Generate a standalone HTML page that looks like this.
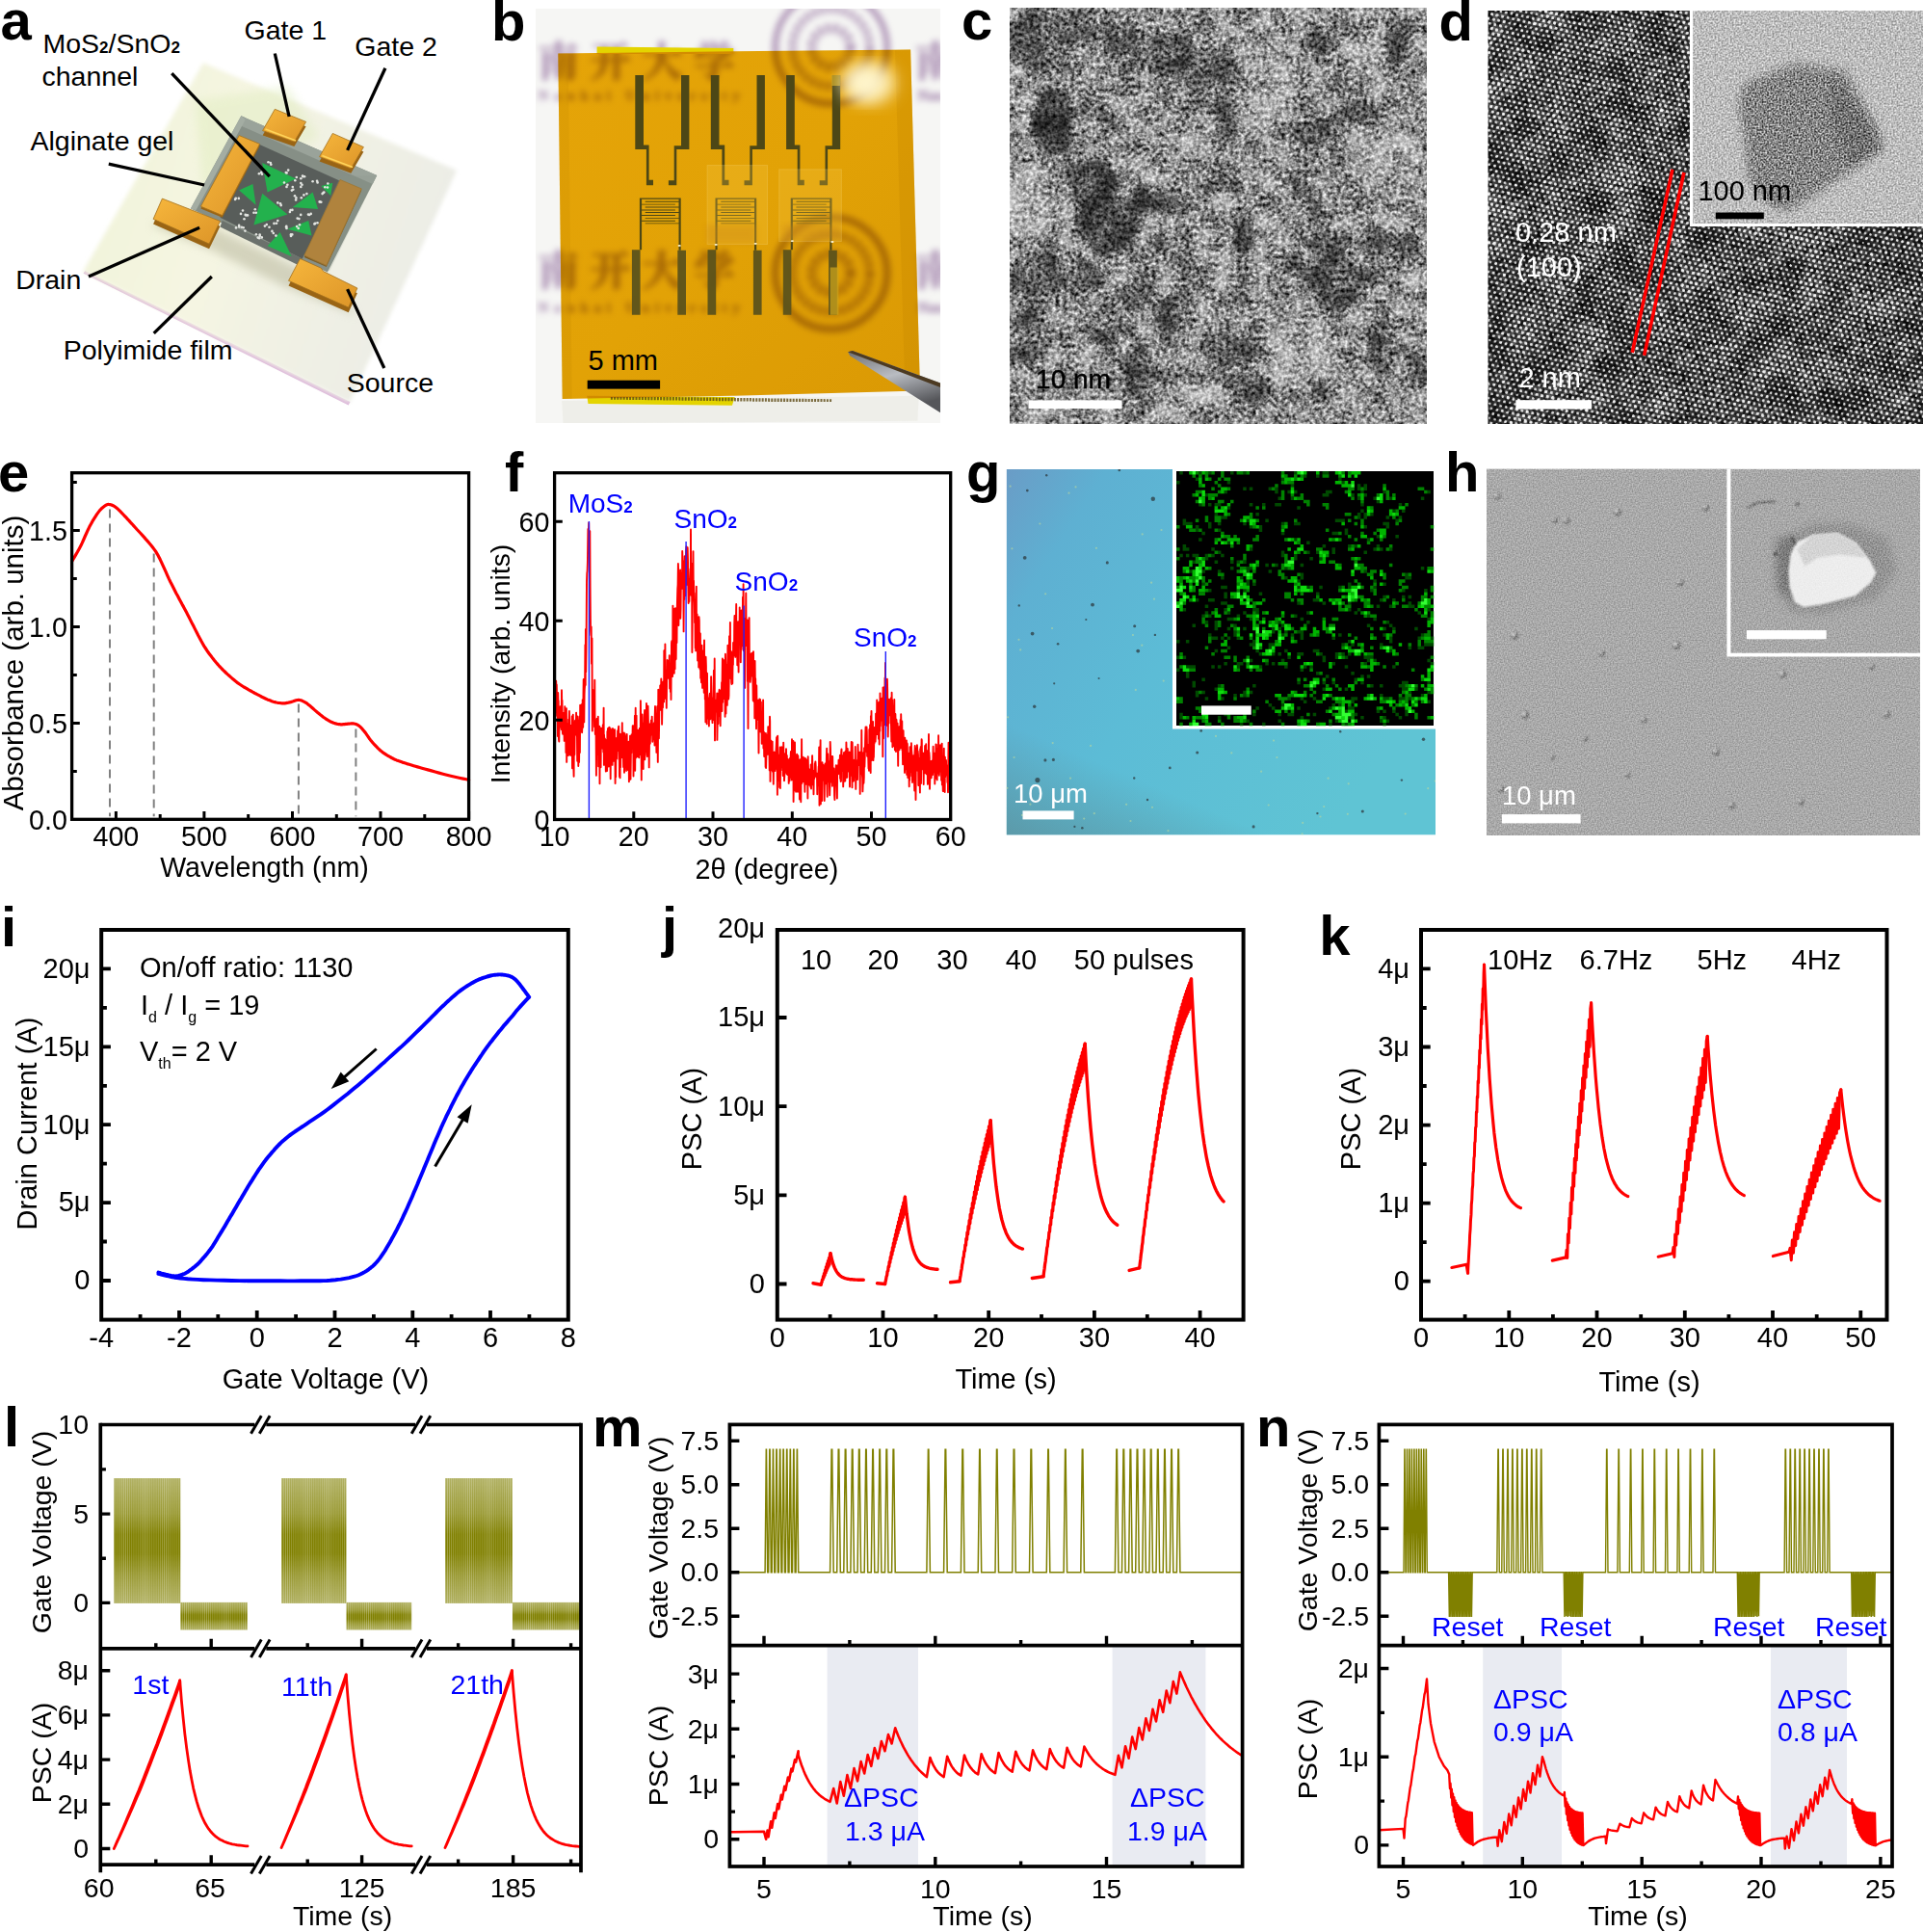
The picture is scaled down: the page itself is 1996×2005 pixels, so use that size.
<!DOCTYPE html>
<html><head><meta charset="utf-8"><title>Figure</title>
<style>html,body{margin:0;padding:0;background:#fff}svg{display:block;font-family:'Liberation Sans', Arial, Helvetica, sans-serif}</style>
</head><body>
<svg width="1996" height="2005" viewBox="0 0 1996 2005">
<defs>
<linearGradient id="filmg" x1="0" y1="0" x2="1" y2="0.3"><stop offset="0" stop-color="#f0f3d8"/><stop offset="0.45" stop-color="#f5f5e2"/><stop offset="1" stop-color="#ecede6"/></linearGradient>
<filter id="blur2" x="-10%" y="-10%" width="120%" height="120%"><feGaussianBlur stdDeviation="2"/></filter>
<filter id="blur5" x="-20%" y="-20%" width="140%" height="140%"><feGaussianBlur stdDeviation="5"/></filter>
<linearGradient id="goldg" x1="0" y1="0" x2="1" y2="1"><stop offset="0" stop-color="#f6b63c"/><stop offset="1" stop-color="#dd9528"/></linearGradient>
<clipPath id="clipb"><rect x="556" y="9" width="420" height="430"/></clipPath>
<filter id="bl3" x="-20%" y="-20%" width="140%" height="140%"><feGaussianBlur stdDeviation="3"/></filter>
<filter id="bl1" x="-20%" y="-20%" width="140%" height="140%"><feGaussianBlur stdDeviation="0.45"/></filter>
<filter id="bl8" x="-30%" y="-30%" width="160%" height="160%"><feGaussianBlur stdDeviation="9"/></filter>
<linearGradient id="amber" x1="0" y1="0" x2="1" y2="1"><stop offset="0" stop-color="#eeaa08"/><stop offset="0.5" stop-color="#eba806"/><stop offset="1" stop-color="#e29f04"/></linearGradient>
<linearGradient id="tweez" x1="0" y1="0" x2="0.4" y2="1"><stop offset="0" stop-color="#6e6f72"/><stop offset="0.5" stop-color="#b9bcc2"/><stop offset="1" stop-color="#55565a"/></linearGradient>
<clipPath id="clipc"><rect x="1048" y="8" width="433" height="432"/></clipPath>
<filter id="cbl" x="-30%" y="-30%" width="160%" height="160%"><feGaussianBlur stdDeviation="4.2"/></filter>
<filter id="cn1" x="0" y="0" width="100%" height="100%" color-interpolation-filters="sRGB"><feTurbulence type="fractalNoise" baseFrequency="0.26" numOctaves="2" seed="5" result="t"/><feColorMatrix type="matrix" values="1 0 0 0 0 1 0 0 0 0 1 0 0 0 0 0 0 0 0 1"/><feComponentTransfer><feFuncR type="linear" slope="1.55" intercept="-0.275"/><feFuncG type="linear" slope="1.55" intercept="-0.275"/><feFuncB type="linear" slope="1.55" intercept="-0.275"/></feComponentTransfer></filter>
<filter id="cn2" x="0" y="0" width="100%" height="100%" color-interpolation-filters="sRGB"><feTurbulence type="fractalNoise" baseFrequency="0.05" numOctaves="2" seed="11" result="t"/><feColorMatrix type="matrix" values="1 0 0 0 0 1 0 0 0 0 1 0 0 0 0 0 0 0 0 1"/><feComponentTransfer><feFuncR type="linear" slope="1.8" intercept="-0.4"/><feFuncG type="linear" slope="1.8" intercept="-0.4"/><feFuncB type="linear" slope="1.8" intercept="-0.4"/></feComponentTransfer></filter>
<clipPath id="clipd"><rect x="1544.4" y="11" width="451.5999999999999" height="429"/></clipPath>
<filter id="dn1" x="0" y="0" width="100%" height="100%" color-interpolation-filters="sRGB"><feTurbulence type="fractalNoise" baseFrequency="0.22" numOctaves="2" seed="8" result="t"/><feColorMatrix type="matrix" values="1 0 0 0 0 1 0 0 0 0 1 0 0 0 0 0 0 0 0 1"/><feComponentTransfer><feFuncR type="linear" slope="2.2" intercept="-0.6"/><feFuncG type="linear" slope="2.2" intercept="-0.6"/><feFuncB type="linear" slope="2.2" intercept="-0.6"/></feComponentTransfer></filter>
<filter id="dn2" x="0" y="0" width="100%" height="100%" color-interpolation-filters="sRGB"><feTurbulence type="fractalNoise" baseFrequency="0.03" numOctaves="2" seed="21" result="t"/><feColorMatrix type="matrix" values="1 0 0 0 0 1 0 0 0 0 1 0 0 0 0 0 0 0 0 1"/><feComponentTransfer><feFuncR type="linear" slope="2.0" intercept="-0.5"/><feFuncG type="linear" slope="2.0" intercept="-0.5"/><feFuncB type="linear" slope="2.0" intercept="-0.5"/></feComponentTransfer></filter>
<filter id="dn3" x="0" y="0" width="100%" height="100%" color-interpolation-filters="sRGB"><feTurbulence type="fractalNoise" baseFrequency="0.55" numOctaves="1" seed="4" result="t"/><feColorMatrix type="matrix" values="1 0 0 0 0 1 0 0 0 0 1 0 0 0 0 0 0 0 0 1"/><feComponentTransfer><feFuncR type="linear" slope="1.8" intercept="-0.4"/><feFuncG type="linear" slope="1.8" intercept="-0.4"/><feFuncB type="linear" slope="1.8" intercept="-0.4"/></feComponentTransfer></filter>
<pattern id="latt" width="5.700" height="9.873" patternUnits="userSpaceOnUse" patternTransform="rotate(12.5 1700 200)"><rect width="5.700" height="9.873" fill="#2f2f2f"/><circle cx="1.425" cy="2.468" r="1.55" fill="#e6e6e6"/><circle cx="4.275" cy="7.405" r="1.55" fill="#e6e6e6"/></pattern>
<filter id="dbl" x="0" y="0" width="100%" height="100%"><feGaussianBlur stdDeviation="0.7"/></filter>
<filter id="dbl6" x="-30%" y="-30%" width="160%" height="160%"><feGaussianBlur stdDeviation="5"/></filter>
<clipPath id="clipdi"><rect x="1754" y="11" width="242" height="224"/></clipPath>
<clipPath id="clipg"><rect x="1044.6" y="487" width="445.4000000000001" height="379.6"/></clipPath>
<linearGradient id="gg" x1="0" y1="0" x2="1" y2="0.55"><stop offset="0" stop-color="#6a9cc6"/><stop offset="0.18" stop-color="#5eb0d2"/><stop offset="0.5" stop-color="#5cbcd6"/><stop offset="1" stop-color="#5fc4d4"/></linearGradient>
<linearGradient id="gg2" x1="0" y1="1" x2="0.35" y2="0.3"><stop offset="0" stop-color="#5b8f9a" stop-opacity="0.75"/><stop offset="0.35" stop-color="#5b8f9a" stop-opacity="0"/></linearGradient>
<filter id="gbl" x="-50%" y="-50%" width="200%" height="200%"><feGaussianBlur stdDeviation="0.7"/></filter>
<filter id="gbl5" x="0" y="0" width="100%" height="100%"><feGaussianBlur stdDeviation="0.55"/></filter>
<clipPath id="cliph"><rect x="1543" y="486.5" width="450" height="380.5"/></clipPath>
<filter id="hn1" x="0" y="0" width="100%" height="100%" color-interpolation-filters="sRGB"><feTurbulence type="fractalNoise" baseFrequency="0.7" numOctaves="1" seed="12" result="t"/><feColorMatrix type="matrix" values="1 0 0 0 0 1 0 0 0 0 1 0 0 0 0 0 0 0 0 1"/><feComponentTransfer><feFuncR type="linear" slope="1.6" intercept="-0.3"/><feFuncG type="linear" slope="1.6" intercept="-0.3"/><feFuncB type="linear" slope="1.6" intercept="-0.3"/></feComponentTransfer></filter>
<filter id="hbl" x="-50%" y="-50%" width="200%" height="200%"><feGaussianBlur stdDeviation="0.8"/></filter>
<filter id="hbl4" x="-50%" y="-50%" width="200%" height="200%"><feGaussianBlur stdDeviation="4"/></filter>
<clipPath id="cliphi"><rect x="1796.3" y="487" width="196.70000000000005" height="190.70000000000005"/></clipPath>
<linearGradient id="olg" x1="0" y1="0" x2="0" y2="1"><stop offset="0" stop-color="#808000" stop-opacity="0.62"/><stop offset="0.28" stop-color="#808000" stop-opacity="0.8"/><stop offset="0.45" stop-color="#808000" stop-opacity="1"/><stop offset="0.6" stop-color="#808000" stop-opacity="1"/><stop offset="0.78" stop-color="#808000" stop-opacity="0.8"/><stop offset="1" stop-color="#808000" stop-opacity="0.62"/></linearGradient>
<pattern id="olst" width="2.1" height="4" patternUnits="userSpaceOnUse"><rect x="0" y="0" width="0.7" height="4" fill="#fff" fill-opacity="0.28"/></pattern>
</defs>
<rect width="1996" height="2005" fill="#fff"/>
<polygon points="86.6,283.7 361.7,420.4 363.5,416.9 88.3,281.1" fill="#dcb4da"/>
<polygon points="211.0,65.3 474.2,176.7 362.8,418.0 86.1,281.9" fill="url(#filmg)" filter="url(#blur2)"/>
<polygon points="202.3,104.6 298.4,89.3 331.1,141.7 211.0,202.9" fill="#dcebb8" opacity="0.4" filter="url(#blur5)"/>
<polygon points="193.6,222.5 339.9,292.4 370.5,327.4 294.0,296.8 219.8,259.7 156.4,233.4" fill="#b9b89c" opacity="0.55" filter="url(#blur5)"/>
<polygon points="250.3,120.3 391.2,182.1 339.9,282.6 197.9,216.4" fill="#868f86"/>
<polygon points="250.3,120.3 391.2,182.1 386.8,190.9 248.2,129.7" fill="#9aa39a"/>
<polygon points="250.3,120.3 254.7,124.3 203.4,218.2 197.9,216.4" fill="#a4ada3"/>
<polygon points="265.6,148.3 355.2,188.7 313.7,268.4 228.5,225.8" fill="#585d5a"/>
<polygon points="230.7,229.1 313.7,268.4 309.3,274.9 228.5,235.6" fill="#6b716c"/>
<polygon points="272.2,169.0 307.1,185.4 277.6,199.6" fill="#23b14d"/>
<polygon points="248.2,197.4 262.4,190.9 265.6,212.7" fill="#23b14d"/>
<polygon points="272.2,200.7 298.4,222.5 263.4,233.4" fill="#23b14d"/>
<polygon points="324.6,199.6 330.1,217.1 303.8,214.9" fill="#23b14d"/>
<polygon points="320.2,229.1 323.5,244.4 298.4,237.8" fill="#23b14d"/>
<polygon points="290.7,241.1 302.8,266.2 277.6,255.3" fill="#23b14d"/>
<polygon points="333.3,193.0 345.3,189.8 343.2,202.9" fill="#23b14d"/>
<g fill="#e4e6e2"><circle cx="296.8" cy="179.1" r="1.3"/><circle cx="297.6" cy="179.4" r="1.3"/><circle cx="299.2" cy="176.6" r="1.3"/><circle cx="306.3" cy="187.2" r="1.3"/><circle cx="307.8" cy="184.0" r="1.3"/><circle cx="312.3" cy="185.2" r="1.3"/><circle cx="313.5" cy="191.8" r="1.3"/><circle cx="312.3" cy="190.1" r="1.3"/><circle cx="312.3" cy="193.9" r="1.3"/><circle cx="302.9" cy="197.6" r="1.3"/><circle cx="303.8" cy="194.0" r="1.3"/><circle cx="304.3" cy="196.8" r="1.3"/><circle cx="295.0" cy="189.5" r="1.3"/><circle cx="298.4" cy="191.8" r="1.3"/><circle cx="297.5" cy="193.9" r="1.3"/><circle cx="316.1" cy="183.2" r="1.3"/><circle cx="314.1" cy="182.6" r="1.3"/><circle cx="314.4" cy="183.3" r="1.3"/><circle cx="329.1" cy="187.7" r="1.3"/><circle cx="324.6" cy="188.3" r="1.3"/><circle cx="329.6" cy="189.4" r="1.3"/><circle cx="336.3" cy="199.6" r="1.3"/><circle cx="335.6" cy="200.1" r="1.3"/><circle cx="334.6" cy="201.1" r="1.3"/><circle cx="331.7" cy="209.4" r="1.3"/><circle cx="332.3" cy="209.5" r="1.3"/><circle cx="333.3" cy="209.8" r="1.3"/><circle cx="306.0" cy="203.3" r="1.3"/><circle cx="307.1" cy="207.5" r="1.3"/><circle cx="307.4" cy="205.4" r="1.3"/><circle cx="291.0" cy="211.2" r="1.3"/><circle cx="291.7" cy="213.1" r="1.3"/><circle cx="288.3" cy="210.4" r="1.3"/><circle cx="254.7" cy="222.9" r="1.3"/><circle cx="250.0" cy="221.9" r="1.3"/><circle cx="252.0" cy="218.5" r="1.3"/><circle cx="253.5" cy="227.2" r="1.3"/><circle cx="257.0" cy="223.4" r="1.3"/><circle cx="255.4" cy="223.4" r="1.3"/><circle cx="264.8" cy="217.3" r="1.3"/><circle cx="265.8" cy="220.7" r="1.3"/><circle cx="263.5" cy="220.8" r="1.3"/><circle cx="301.6" cy="218.1" r="1.3"/><circle cx="303.4" cy="217.9" r="1.3"/><circle cx="300.9" cy="219.9" r="1.3"/><circle cx="312.2" cy="222.9" r="1.3"/><circle cx="308.7" cy="226.6" r="1.3"/><circle cx="310.4" cy="227.1" r="1.3"/><circle cx="322.7" cy="221.9" r="1.3"/><circle cx="320.0" cy="222.6" r="1.3"/><circle cx="321.1" cy="223.0" r="1.3"/><circle cx="327.1" cy="231.9" r="1.3"/><circle cx="329.5" cy="231.3" r="1.3"/><circle cx="326.4" cy="232.4" r="1.3"/><circle cx="274.9" cy="234.6" r="1.3"/><circle cx="279.5" cy="235.7" r="1.3"/><circle cx="276.8" cy="233.1" r="1.3"/><circle cx="287.0" cy="231.7" r="1.3"/><circle cx="284.5" cy="231.9" r="1.3"/><circle cx="288.3" cy="229.0" r="1.3"/><circle cx="297.0" cy="235.5" r="1.3"/><circle cx="297.3" cy="234.9" r="1.3"/><circle cx="297.5" cy="236.9" r="1.3"/><circle cx="282.4" cy="239.9" r="1.3"/><circle cx="286.4" cy="244.6" r="1.3"/><circle cx="283.8" cy="242.0" r="1.3"/><circle cx="303.3" cy="243.4" r="1.3"/><circle cx="301.9" cy="243.4" r="1.3"/><circle cx="302.0" cy="244.9" r="1.3"/><circle cx="308.1" cy="235.0" r="1.3"/><circle cx="311.0" cy="233.2" r="1.3"/><circle cx="309.7" cy="236.9" r="1.3"/><circle cx="244.8" cy="205.8" r="1.3"/><circle cx="247.8" cy="205.9" r="1.3"/><circle cx="244.1" cy="206.9" r="1.3"/><circle cx="271.2" cy="178.9" r="1.3"/><circle cx="268.9" cy="180.2" r="1.3"/><circle cx="272.0" cy="180.7" r="1.3"/><circle cx="248.1" cy="233.9" r="1.3"/><circle cx="245.0" cy="236.4" r="1.3"/><circle cx="248.3" cy="235.4" r="1.3"/><circle cx="250.8" cy="235.8" r="1.3"/><circle cx="252.7" cy="236.2" r="1.3"/><circle cx="254.4" cy="239.6" r="1.3"/><circle cx="265.9" cy="243.2" r="1.3"/><circle cx="269.7" cy="245.1" r="1.3"/><circle cx="269.7" cy="243.6" r="1.3"/><circle cx="267.7" cy="246.6" r="1.3"/><circle cx="271.8" cy="246.4" r="1.3"/><circle cx="269.1" cy="247.2" r="1.3"/><circle cx="315.4" cy="202.4" r="1.3"/><circle cx="318.4" cy="201.1" r="1.3"/><circle cx="312.8" cy="205.2" r="1.3"/><circle cx="340.0" cy="194.5" r="1.3"/><circle cx="337.3" cy="194.3" r="1.3"/><circle cx="340.3" cy="190.5" r="1.3"/><circle cx="281.3" cy="170.8" r="1.3"/><circle cx="280.8" cy="169.1" r="1.3"/><circle cx="278.5" cy="168.2" r="1.3"/></g>
<polygon points="248.2,142.8 269.6,151.6 230.7,225.8 208.4,216.4" fill="#9a6414"/>
<polygon points="248.2,140.6 269.6,149.4 230.7,223.6 208.4,214.2" fill="url(#goldg)" stroke="#a5711d" stroke-width="0.8"/>
<polygon points="168.4,211.4 228.5,234.8 217.1,258.3 159.1,232.6" fill="#9a6414"/>
<polygon points="168.4,206.1 228.5,229.5 217.1,253.1 159.1,227.3" fill="url(#goldg)" stroke="#a5711d" stroke-width="0.8"/>
<polygon points="353.0,188.2 375.3,197.6 338.8,277.1 315.9,266.9" fill="#7d5618"/>
<polygon points="353.0,186.5 375.3,195.9 338.8,275.4 315.9,265.1" fill="#b97f2c" stroke="#a5711d" stroke-width="0.8"/>
<polygon points="311.5,273.6 333.3,283.5 335.5,286.7 370.9,304.2 361.7,324.3 299.5,296.6" fill="#9a6414"/>
<polygon points="311.5,268.4 333.3,278.2 335.5,281.5 370.9,299.0 361.7,319.1 299.5,291.3" fill="url(#goldg)" stroke="#a5711d" stroke-width="0.8"/>
<polygon points="285.3,118.1 317.6,131.2 305.4,152.0 272.6,140.4" fill="#9a6414"/>
<polygon points="285.3,113.3 317.6,126.4 305.4,147.2 272.6,135.6" fill="url(#goldg)" stroke="#a5711d" stroke-width="0.8"/>
<polygon points="345.3,143.3 377.4,157.4 364.3,179.7 331.6,167.5" fill="#9a6414"/>
<polygon points="345.3,138.4 377.4,152.6 364.3,174.9 331.6,162.7" fill="url(#goldg)" stroke="#a5711d" stroke-width="0.8"/>
<line x1="275.5" y1="134.1" x2="307.1" y2="146.1" stroke="#ffd45a" stroke-width="1.6"/>
<line x1="334.4" y1="161.4" x2="366.1" y2="173.4" stroke="#ffd45a" stroke-width="1.6"/>
<polygon points="353.0,183.2 391.2,182.1 342.1,281.5 315.9,265.1" fill="#8d968c" opacity="0.18"/>
<line x1="178.3" y1="76.2" x2="279.8" y2="183.2" stroke="#000" stroke-width="3.3"/>
<line x1="112.8" y1="170.1" x2="212.1" y2="192.0" stroke="#000" stroke-width="3.3"/>
<line x1="285.3" y1="55.5" x2="300.1" y2="121.0" stroke="#000" stroke-width="3.3"/>
<line x1="399.9" y1="70.7" x2="360.6" y2="155.9" stroke="#000" stroke-width="3.3"/>
<line x1="92.0" y1="287.0" x2="207.1" y2="236.3" stroke="#000" stroke-width="3.3"/>
<line x1="159.7" y1="345.9" x2="219.8" y2="287.0" stroke="#000" stroke-width="3.3"/>
<line x1="360.6" y1="300.1" x2="398.8" y2="382.0" stroke="#000" stroke-width="3.3"/>
<text x="0.5" y="41.4" font-size="58" text-anchor="start" fill="#000" font-weight="bold">a</text>
<text x="44.5" y="54.9" font-size="28.5" text-anchor="start" fill="#000">MoS<tspan font-size="17" font-weight="bold">2</tspan>/SnO<tspan font-size="17" font-weight="bold">2</tspan></text>
<text x="43.5" y="88.6" font-size="28.5" text-anchor="start" fill="#000">channel</text>
<text x="253.6" y="40.6" font-size="28.5" text-anchor="start" fill="#000">Gate 1</text>
<text x="368.3" y="58.1" font-size="28.5" text-anchor="start" fill="#000">Gate 2</text>
<text x="31.5" y="155.5" font-size="28.5" text-anchor="start" fill="#000">Alginate gel</text>
<text x="16.2" y="300.2" font-size="28.5" text-anchor="start" fill="#000">Drain</text>
<text x="65.7" y="372.6" font-size="28.5" text-anchor="start" fill="#000">Polyimide film</text>
<text x="359.7" y="407.0" font-size="28.5" text-anchor="start" fill="#000">Source</text>
<g clip-path="url(#clipb)">
<rect x="556.0" y="9.0" width="420.0" height="430.0" fill="#f6f6f4"/>
<g filter="url(#bl3)" fill="#8f6a9c" stroke="#8f6a9c" font-family="'Liberation Serif','Noto Serif CJK SC','Noto Sans CJK SC',serif" font-weight="bold" opacity="0.62">
<text x="558.5" y="79.3" font-size="42" textLength="204.1" stroke-width="1.5">南 开 大 学</text>
<text x="558.5" y="103.5" font-size="15" font-family="'Liberation Serif',serif" textLength="209.3" stroke-width="0.6">Nankai University</text>
<circle cx="862.7" cy="49.4" r="58" fill="none" stroke-width="7"/>
<circle cx="862.7" cy="49.4" r="40" fill="none" stroke-width="9" stroke-dasharray="5 3"/>
<circle cx="862.7" cy="49.4" r="20" fill="none" stroke-width="10" stroke-dasharray="5 3"/>
<text x="949.8" y="79.3" font-size="42" stroke-width="1.5">南</text>
<text x="952.4" y="103.5" font-size="15" font-family="'Liberation Serif',serif">Nan</text>
<text x="558.5" y="296.4" font-size="42" textLength="204.1" stroke-width="1.5">南 开 大 学</text>
<text x="558.5" y="323.7" font-size="15" font-family="'Liberation Serif',serif" textLength="209.3" stroke-width="0.6">Nankai University</text>
<circle cx="862.7" cy="283.4" r="58" fill="none" stroke-width="7"/>
<circle cx="862.7" cy="283.4" r="40" fill="none" stroke-width="9" stroke-dasharray="5 3"/>
<circle cx="862.7" cy="283.4" r="20" fill="none" stroke-width="10" stroke-dasharray="5 3"/>
<text x="949.8" y="296.4" font-size="42" stroke-width="1.5">南</text>
<text x="952.4" y="323.7" font-size="15" font-family="'Liberation Serif',serif">Nan</text>
</g>
<polygon points="583.2,416.0 953.7,410.8 952.4,436.8 584.5,439.4" fill="#ecece6" opacity="0.8"/>
<polygon points="619.6,48.4 761.3,49.9 761.3,55.9 619.6,55.9" fill="#e4d400"/>
<polygon points="609.2,410.8 762.6,412.1 760.0,420.7 610.5,419.1" fill="#e4d400"/>
<polygon points="579.3,55.4 761.3,53.3 945.1,51.5 955.0,405.6 760.0,410.8 583.7,413.9" fill="url(#amber)" style="mix-blend-mode:multiply"/>
<polygon points="929.0,52.0 945.1,51.5 955.0,405.6 939.4,406.1" fill="#c98a00" opacity="0.35"/>
<polygon points="579.3,55.4 589.7,55.4 593.6,413.4 583.7,413.9" fill="#c98a00" opacity="0.25"/>
<path d="M633.9 412.9 L864.0 416.0" stroke="#5d4a12" stroke-width="3.5" stroke-dasharray="2 1.2" opacity="0.8" filter="url(#bl1)"/>
<path d="M659.3 78.1H668.0V154.9H659.3ZM659.3 150.6H673.6V154.9H659.3ZM670.9 150.6H673.6V187.5H670.9ZM670.9 186.8H678.0V192.2H670.9ZM707.0 78.1H715.4V154.9H707.0ZM699.7 151.3H715.4V154.9H699.7ZM699.7 151.3H702.3V187.5H699.7ZM693.9 187.2H702.3V192.2H693.9ZM663.9 205.7H666.1V259.3H663.9ZM704.5 205.7H706.7V259.7H704.5ZM663.9 205.4H706.7V206.8H663.9ZM669.7 208.8H705.2V209.7H669.7ZM665.4 211.7H700.9V212.6H665.4ZM669.7 214.6H705.2V215.5H669.7ZM665.4 217.5H700.9V218.4H665.4ZM669.7 220.1H705.2V221.0H669.7ZM665.4 223.0H700.9V223.9H665.4ZM669.7 225.9H705.2V226.8H669.7ZM665.4 228.8H700.9V229.7H665.4ZM669.7 231.4H705.2V232.3H669.7ZM737.8 78.1H746.5V154.9H737.8ZM737.8 150.6H752.2V154.9H737.8ZM749.4 150.6H752.2V187.5H749.4ZM749.4 186.8H756.5V192.2H749.4ZM785.5 78.1H793.9V154.9H785.5ZM778.3 151.3H793.9V154.9H778.3ZM778.3 151.3H780.9V187.5H778.3ZM772.5 187.2H780.9V192.2H772.5ZM742.5 205.7H744.6V259.3H742.5ZM783.0 205.7H785.2V259.7H783.0ZM742.5 205.4H785.2V206.8H742.5ZM748.3 208.8H783.8V209.7H748.3ZM743.9 211.7H779.4V212.6H743.9ZM748.3 214.6H783.8V215.5H748.3ZM743.9 217.5H779.4V218.4H743.9ZM748.3 220.1H783.8V221.0H748.3ZM743.9 223.0H779.4V223.9H743.9ZM748.3 225.9H783.8V226.8H748.3ZM743.9 228.8H779.4V229.7H743.9ZM748.3 231.4H783.8V232.3H748.3ZM816.1 78.1H824.8V154.9H816.1ZM816.1 150.6H830.4V154.9H816.1ZM827.7 150.6H830.4V187.5H827.7ZM827.7 186.8H834.8V192.2H827.7ZM863.8 78.1H872.2V154.9H863.8ZM856.5 151.3H872.2V154.9H856.5ZM856.5 151.3H859.1V187.5H856.5ZM850.7 187.2H859.1V192.2H850.7ZM820.7 205.7H822.9V259.3H820.7ZM861.3 205.7H863.5V259.7H861.3ZM820.7 205.4H863.5V206.8H820.7ZM826.5 208.8H862.0V209.7H826.5ZM822.2 211.7H857.7V212.6H822.2ZM826.5 214.6H862.0V215.5H826.5ZM822.2 217.5H857.7V218.4H822.2ZM826.5 220.1H862.0V221.0H826.5ZM822.2 223.0H857.7V223.9H822.2ZM826.5 225.9H862.0V226.8H826.5ZM822.2 228.8H857.7V229.7H822.2ZM826.5 231.4H862.0V232.3H826.5Z" fill="#4e4716" filter="url(#bl1)"/>
<path d="M655.9 259.3H664.6V326.7H655.9ZM703.3 259.7H712.0V326.7H703.3ZM734.5 259.3H743.2V326.7H734.5ZM781.9 259.7H790.6V326.7H781.9ZM812.8 259.3H821.4V326.7H812.8ZM860.1 259.7H868.8V326.7H860.1Z" fill="#5b531c" filter="url(#bl1)" opacity="0.95"/>
<path d="M863.2 78.1H871.9V89.0H863.2ZM861.7 277.4H870.4V326.7H861.7Z" fill="#c9a21e" opacity="0.75" filter="url(#bl1)"/>
<rect x="734.2" y="171.6" width="62.3" height="81.9" fill="#f7c640" opacity="0.28" stroke="#fbe08a" stroke-width="1"/>
<rect x="808.8" y="175.9" width="64.5" height="74.6" fill="#f7c640" opacity="0.28" stroke="#fbe08a" stroke-width="1"/>
<rect x="732.8" y="233.2" width="52.2" height="19.6" fill="#c98612" opacity="0.35" filter="url(#bl3)"/>
<rect x="812.5" y="233.2" width="58.0" height="16.7" fill="#c98612" opacity="0.35" filter="url(#bl3)"/>
<ellipse cx="743.2" cy="253.9" rx="1.6" ry="0.9" fill="#fff8d8"/>
<ellipse cx="784.2" cy="252.8" rx="1.6" ry="0.9" fill="#fff8d8"/>
<ellipse cx="822.3" cy="250.1" rx="1.6" ry="0.9" fill="#fff8d8"/>
<ellipse cx="863.9" cy="251.0" rx="1.6" ry="0.9" fill="#fff8d8"/>
<ellipse cx="705.2" cy="254.9" rx="1.6" ry="0.9" fill="#fff8d8"/>
<ellipse cx="899.0" cy="86.0" rx="22" ry="17" fill="#fffdf0" filter="url(#bl8)"/>
<ellipse cx="903.0" cy="86.0" rx="27" ry="21" fill="#fff3c0" opacity="0.7" filter="url(#bl8)"/>
<polygon points="880.1,365.3 884.8,364.0 977.1,397.8 977.1,429.0 882.2,369.2" fill="url(#tweez)"/>
<polygon points="880.1,365.3 884.8,364.0 977.1,397.8 977.1,402.5" fill="#4c3a22"/>
</g>
<rect x="609.7" y="394.7" width="75.4" height="8.9" fill="#000"/>
<text x="610.5" y="383.5" font-size="29" text-anchor="start" fill="#000">5 mm</text>
<text x="510.0" y="41.5" font-size="58" text-anchor="start" fill="#000" font-weight="bold">b</text>
<g clip-path="url(#clipc)" style="isolation:isolate">
<rect x="1048.0" y="8.0" width="433.0" height="432.0" fill="#8e8e8e"/>
<g filter="url(#cbl)">
<ellipse cx="1075.1" cy="42.1" rx="28.1" ry="35.1" fill="#2a2a2a" opacity="0.52"/>
<ellipse cx="1117.2" cy="30.4" rx="23.4" ry="21.1" fill="#2a2a2a" opacity="0.47"/>
<ellipse cx="1161.7" cy="39.8" rx="18.7" ry="16.4" fill="#2a2a2a" opacity="0.57"/>
<ellipse cx="1203.8" cy="51.5" rx="30.4" ry="25.7" fill="#2a2a2a" opacity="0.52"/>
<ellipse cx="1245.9" cy="77.2" rx="28.1" ry="23.4" fill="#2a2a2a" opacity="0.52"/>
<ellipse cx="1274.0" cy="70.2" rx="14.0" ry="14.0" fill="#2a2a2a" opacity="0.57"/>
<ellipse cx="1091.5" cy="126.4" rx="23.4" ry="35.1" fill="#2a2a2a" opacity="0.85"/>
<ellipse cx="1138.3" cy="117.0" rx="18.7" ry="14.0" fill="#2a2a2a" opacity="0.38"/>
<ellipse cx="1133.6" cy="187.2" rx="25.7" ry="23.4" fill="#2a2a2a" opacity="0.76"/>
<ellipse cx="1150.0" cy="234.0" rx="35.1" ry="30.4" fill="#2a2a2a" opacity="0.71"/>
<ellipse cx="1189.8" cy="205.9" rx="21.1" ry="18.7" fill="#2a2a2a" opacity="0.66"/>
<ellipse cx="1222.5" cy="210.6" rx="16.4" ry="14.0" fill="#2a2a2a" opacity="0.47"/>
<ellipse cx="1274.0" cy="126.4" rx="14.0" ry="18.7" fill="#2a2a2a" opacity="0.52"/>
<ellipse cx="1271.7" cy="189.6" rx="18.7" ry="11.7" fill="#2a2a2a" opacity="0.57"/>
<ellipse cx="1292.7" cy="245.7" rx="16.4" ry="16.4" fill="#2a2a2a" opacity="0.47"/>
<ellipse cx="1363.0" cy="138.1" rx="23.4" ry="16.4" fill="#2a2a2a" opacity="0.52"/>
<ellipse cx="1405.1" cy="117.0" rx="23.4" ry="14.0" fill="#2a2a2a" opacity="0.52"/>
<ellipse cx="1367.6" cy="42.1" rx="21.1" ry="14.0" fill="#2a2a2a" opacity="0.43"/>
<ellipse cx="1451.9" cy="42.1" rx="16.4" ry="21.1" fill="#2a2a2a" opacity="0.47"/>
<ellipse cx="1355.9" cy="191.9" rx="16.4" ry="28.1" fill="#2a2a2a" opacity="0.33"/>
<ellipse cx="1367.6" cy="217.6" rx="9.4" ry="11.7" fill="#2a2a2a" opacity="0.57"/>
<ellipse cx="1379.3" cy="255.1" rx="16.4" ry="16.4" fill="#2a2a2a" opacity="0.57"/>
<ellipse cx="1426.1" cy="252.7" rx="14.0" ry="16.4" fill="#2a2a2a" opacity="0.52"/>
<ellipse cx="1463.6" cy="257.4" rx="11.7" ry="14.0" fill="#2a2a2a" opacity="0.52"/>
<ellipse cx="1386.4" cy="292.5" rx="25.7" ry="30.4" fill="#2a2a2a" opacity="0.62"/>
<ellipse cx="1351.3" cy="280.8" rx="18.7" ry="14.0" fill="#2a2a2a" opacity="0.47"/>
<ellipse cx="1423.8" cy="280.8" rx="16.4" ry="14.0" fill="#2a2a2a" opacity="0.43"/>
<ellipse cx="1075.1" cy="292.5" rx="28.1" ry="35.1" fill="#2a2a2a" opacity="0.47"/>
<ellipse cx="1121.9" cy="287.9" rx="23.4" ry="18.7" fill="#2a2a2a" opacity="0.43"/>
<ellipse cx="1180.4" cy="308.9" rx="16.4" ry="18.7" fill="#2a2a2a" opacity="0.52"/>
<ellipse cx="1213.2" cy="332.3" rx="14.0" ry="28.1" fill="#2a2a2a" opacity="0.52"/>
<ellipse cx="1145.3" cy="339.3" rx="23.4" ry="18.7" fill="#2a2a2a" opacity="0.38"/>
<ellipse cx="1068.1" cy="351.0" rx="18.7" ry="28.1" fill="#2a2a2a" opacity="0.43"/>
<ellipse cx="1180.4" cy="386.1" rx="16.4" ry="32.8" fill="#2a2a2a" opacity="0.57"/>
<ellipse cx="1274.0" cy="365.1" rx="21.1" ry="16.4" fill="#2a2a2a" opacity="0.52"/>
<ellipse cx="1297.4" cy="351.0" rx="14.0" ry="18.7" fill="#2a2a2a" opacity="0.47"/>
<ellipse cx="1292.7" cy="402.5" rx="25.7" ry="18.7" fill="#2a2a2a" opacity="0.57"/>
<ellipse cx="1437.8" cy="351.0" rx="18.7" ry="37.4" fill="#2a2a2a" opacity="0.38"/>
<ellipse cx="1473.0" cy="386.1" rx="9.4" ry="21.1" fill="#2a2a2a" opacity="0.57"/>
<ellipse cx="1367.6" cy="397.8" rx="14.0" ry="11.7" fill="#2a2a2a" opacity="0.38"/>
<ellipse cx="1245.9" cy="287.9" rx="14.0" ry="14.0" fill="#2a2a2a" opacity="0.38"/>
<ellipse cx="1203.8" cy="264.5" rx="14.0" ry="14.0" fill="#2a2a2a" opacity="0.43"/>
<ellipse cx="1068.1" cy="210.6" rx="25.7" ry="46.8" fill="#cfcfcf" opacity="0.45"/>
<ellipse cx="1058.7" cy="98.3" rx="11.7" ry="28.1" fill="#cfcfcf" opacity="0.30"/>
<ellipse cx="1320.8" cy="93.6" rx="30.4" ry="35.1" fill="#cfcfcf" opacity="0.41"/>
<ellipse cx="1332.5" cy="23.4" rx="28.1" ry="16.4" fill="#cfcfcf" opacity="0.22"/>
<ellipse cx="1414.4" cy="58.5" rx="18.7" ry="18.7" fill="#cfcfcf" opacity="0.30"/>
<ellipse cx="1442.5" cy="163.8" rx="30.4" ry="30.4" fill="#cfcfcf" opacity="0.38"/>
<ellipse cx="1194.5" cy="184.9" rx="14.0" ry="11.7" fill="#cfcfcf" opacity="0.52"/>
<ellipse cx="1348.9" cy="365.1" rx="35.1" ry="35.1" fill="#cfcfcf" opacity="0.45"/>
<ellipse cx="1250.6" cy="409.5" rx="30.4" ry="16.4" fill="#cfcfcf" opacity="0.30"/>
<ellipse cx="1309.1" cy="175.5" rx="23.4" ry="23.4" fill="#cfcfcf" opacity="0.22"/>
<ellipse cx="1461.2" cy="315.9" rx="14.0" ry="14.0" fill="#cfcfcf" opacity="0.30"/>
<ellipse cx="1238.9" cy="152.1" rx="23.4" ry="16.4" fill="#cfcfcf" opacity="0.22"/>
<ellipse cx="1110.2" cy="416.6" rx="35.1" ry="14.0" fill="#cfcfcf" opacity="0.19"/>
<ellipse cx="1402.7" cy="428.3" rx="35.1" ry="11.7" fill="#cfcfcf" opacity="0.22"/>
</g>
<rect x="1048.0" y="8.0" width="433.0" height="432.0" fill="#808080" filter="url(#cn2)" style="mix-blend-mode:overlay" opacity="0.4"/>
<rect x="1048.0" y="8.0" width="433.0" height="432.0" fill="#808080" filter="url(#cn1)" style="mix-blend-mode:overlay" opacity="0.95"/>
</g>
<rect x="1067.6" y="415.4" width="96.9" height="8.7" fill="#fff"/>
<text x="1075.1" y="403.0" font-size="28" text-anchor="start" fill="#000" stroke="#000" stroke-width="0.5">10 nm</text>
<text x="998.0" y="41.4" font-size="58" text-anchor="start" fill="#000" font-weight="bold">c</text>
<g clip-path="url(#clipd)" style="isolation:isolate">
<rect x="1544.4" y="11.0" width="451.6" height="429.0" fill="url(#latt)" filter="url(#dbl)"/>
<rect x="1544.4" y="11.0" width="451.6" height="429.0" fill="#808080" filter="url(#dn2)" style="mix-blend-mode:overlay" opacity="0.5"/>
<rect x="1544.4" y="11.0" width="451.6" height="429.0" fill="#808080" filter="url(#dn1)" style="mix-blend-mode:overlay" opacity="0.75"/>
</g>
<g clip-path="url(#clipdi)" style="isolation:isolate">
<rect x="1754.0" y="11.0" width="242.0" height="224.0" fill="#bdbdbd"/>
<polygon points="1809.7,86.8 1863.7,65.8 1916.3,73.7 1946.6,131.6 1954.5,153.9 1911.1,184.2 1858.4,218.4 1840.0,213.2 1815.0,184.2 1809.7,136.8 1804.5,110.5" fill="#7c7c7c" opacity="0.85" filter="url(#dbl6)"/>
<polygon points="1900.5,78.9 1946.6,131.6 1954.5,153.9 1921.6,173.7 1900.5,126.3" fill="#505050" opacity="0.35" filter="url(#dbl6)"/>
<polygon points="1816.3,181.6 1858.4,218.4 1840.0,213.2 1815.0,184.2" fill="#505050" opacity="0.35" filter="url(#dbl6)"/>
<rect x="1754.0" y="11.0" width="242.0" height="224.0" fill="#808080" filter="url(#dn3)" style="mix-blend-mode:overlay" opacity="0.8"/>
</g>
<path d="M1755.5 11V233.5H1996" fill="none" stroke="#fff" stroke-width="3.2"/>
<rect x="1780.8" y="220.5" width="50.0" height="6.8" fill="#000"/>
<text x="1762.4" y="207.9" font-size="29" text-anchor="start" fill="#000">100 nm</text>
<line x1="1736.0" y1="175.8" x2="1694.2" y2="365.8" stroke="#ff0000" stroke-width="3.6"/>
<line x1="1747.9" y1="179.0" x2="1706.6" y2="368.8" stroke="#ff0000" stroke-width="3.6"/>
<text x="1573.0" y="251.4" font-size="29" text-anchor="start" fill="#fff">0.28 nm</text>
<text x="1574.0" y="286.8" font-size="29" text-anchor="start" fill="#fff">(100)</text>
<text x="1576.4" y="401.7" font-size="29" text-anchor="start" fill="#fff">2 nm</text>
<rect x="1573.3" y="415.2" width="78.8" height="9.4" fill="#fff"/>
<text x="1493.5" y="41.5" font-size="58" text-anchor="start" fill="#000" font-weight="bold">d</text>
<text x="-2.0" y="509.7" font-size="58" text-anchor="start" fill="#000" font-weight="bold">e</text>
<line x1="114.0" y1="528.6" x2="114.0" y2="847.3" stroke="#808080" stroke-width="2" stroke-dasharray="9 6"/>
<line x1="159.7" y1="574.6" x2="159.7" y2="847.3" stroke="#808080" stroke-width="2" stroke-dasharray="9 6"/>
<line x1="309.9" y1="730.6" x2="309.9" y2="847.3" stroke="#808080" stroke-width="2" stroke-dasharray="9 6"/>
<line x1="369.4" y1="756.6" x2="369.4" y2="847.3" stroke="#808080" stroke-width="2" stroke-dasharray="9 6"/>
<path d="M74.6 582.6 L75.6 580.9 L77.0 578.6 L78.6 575.9 L80.4 572.8 L82.1 569.7 L83.8 566.6 L85.3 563.4 L86.8 560.0 L88.3 556.5 L89.9 553.0 L91.4 549.7 L92.9 546.6 L94.5 543.7 L96.0 540.9 L97.6 538.3 L99.2 535.8 L100.6 533.6 L102.1 531.6 L103.4 529.9 L104.7 528.5 L106.0 527.2 L107.2 526.2 L108.4 525.3 L109.4 524.6 L110.3 524.0 L111.1 523.7 L111.7 523.5 L112.4 523.4 L113.1 523.5 L114.0 523.6 L114.9 523.8 L115.9 524.1 L116.9 524.5 L118.0 525.0 L119.1 525.7 L120.4 526.6 L121.7 527.7 L123.2 529.1 L124.8 530.7 L126.4 532.3 L128.0 534.0 L129.5 535.6 L131.0 537.2 L132.5 538.8 L134.0 540.4 L135.5 542.1 L137.1 543.8 L138.7 545.6 L140.4 547.5 L142.2 549.5 L144.1 551.5 L146.0 553.5 L147.9 555.6 L149.7 557.6 L151.4 559.6 L153.2 561.6 L155.0 563.7 L156.7 565.7 L158.3 567.7 L159.7 569.6 L161.0 571.4 L162.1 573.0 L163.0 574.6 L164.0 576.3 L165.0 578.3 L166.2 580.6 L167.5 583.4 L169.0 586.7 L170.6 590.2 L172.2 593.7 L173.8 597.3 L175.3 600.6 L176.8 603.7 L178.4 606.8 L179.9 609.8 L181.4 612.7 L182.9 615.7 L184.5 618.6 L186.0 621.5 L187.5 624.3 L189.0 627.1 L190.6 629.9 L192.1 632.7 L193.6 635.6 L195.1 638.6 L196.7 641.6 L198.2 644.6 L199.7 647.6 L201.3 650.6 L202.8 653.6 L204.3 656.5 L205.8 659.5 L207.4 662.4 L208.9 665.3 L210.4 668.0 L211.9 670.6 L213.5 673.0 L215.0 675.3 L216.5 677.5 L218.0 679.6 L219.6 681.6 L221.1 683.6 L222.6 685.5 L224.1 687.3 L225.7 689.1 L227.2 690.8 L228.7 692.4 L230.2 694.0 L231.8 695.6 L233.3 697.0 L234.8 698.5 L236.3 699.9 L237.9 701.3 L239.4 702.6 L240.9 703.9 L242.5 705.2 L244.0 706.5 L245.5 707.7 L247.0 708.9 L248.6 710.0 L250.1 711.0 L251.6 712.0 L253.1 713.0 L254.7 713.8 L256.2 714.7 L257.7 715.6 L259.2 716.5 L260.8 717.3 L262.3 718.2 L263.8 719.0 L265.3 719.8 L266.9 720.6 L268.4 721.4 L269.9 722.2 L271.4 723.0 L273.0 723.8 L274.5 724.5 L276.0 725.2 L277.5 725.9 L279.1 726.5 L280.6 727.1 L282.1 727.7 L283.7 728.2 L285.2 728.6 L286.7 729.0 L288.3 729.3 L289.9 729.5 L291.4 729.7 L292.9 729.8 L294.3 729.8 L295.6 729.8 L296.9 729.6 L298.1 729.4 L299.2 729.2 L300.4 728.9 L301.7 728.6 L303.0 728.2 L304.4 727.8 L305.8 727.3 L307.3 726.8 L308.6 726.5 L309.9 726.4 L311.1 726.5 L312.2 726.7 L313.3 727.1 L314.3 727.6 L315.3 728.1 L316.3 728.6 L317.2 729.1 L318.1 729.7 L318.9 730.2 L319.7 730.9 L320.7 731.7 L321.8 732.6 L323.1 733.7 L324.6 735.0 L326.1 736.4 L327.8 737.9 L329.4 739.3 L331.0 740.6 L332.5 741.8 L334.1 743.0 L335.6 744.2 L337.2 745.3 L338.7 746.3 L340.1 747.2 L341.4 748.0 L342.7 748.7 L343.9 749.2 L345.1 749.7 L346.3 750.2 L347.4 750.6 L348.5 750.9 L349.6 751.2 L350.6 751.5 L351.7 751.6 L352.7 751.7 L353.8 751.8 L355.0 751.8 L356.3 751.7 L357.5 751.6 L358.8 751.4 L360.0 751.3 L361.2 751.2 L362.3 751.1 L363.4 751.0 L364.5 750.9 L365.5 750.8 L366.6 750.9 L367.6 751.0 L368.5 751.2 L369.5 751.5 L370.4 751.9 L371.3 752.4 L372.2 752.9 L373.1 753.6 L374.0 754.4 L374.8 755.2 L375.7 756.1 L376.6 757.2 L377.5 758.3 L378.6 759.6 L379.7 761.0 L380.8 762.7 L382.0 764.4 L383.2 766.2 L384.5 767.9 L385.9 769.6 L387.3 771.2 L388.8 772.9 L390.4 774.5 L391.9 776.1 L393.5 777.6 L395.0 779.0 L396.6 780.2 L398.1 781.4 L399.6 782.4 L401.1 783.4 L402.7 784.3 L404.2 785.2 L405.7 786.0 L407.1 786.8 L408.5 787.5 L410.0 788.2 L411.6 788.9 L413.4 789.6 L415.4 790.3 L417.6 791.1 L419.9 791.8 L422.3 792.6 L424.7 793.3 L427.1 794.0 L429.3 794.7 L431.3 795.3 L433.4 795.9 L435.6 796.5 L438.0 797.2 L440.8 798.0 L444.1 798.9 L447.8 799.9 L451.7 801.0 L455.7 802.1 L459.8 803.2 L463.7 804.2 L467.8 805.2 L472.2 806.2 L476.6 807.2 L480.7 808.1 L484.1 808.8 L486.6 809.4" fill="none" stroke="#ff0000" stroke-width="3.2" stroke-linejoin="round" stroke-linecap="round"/>
<rect x="74.6" y="490.7" width="412.0" height="359.6" fill="none" stroke="#000" stroke-width="3.3"/>
<path d="M120.4 850.3v-8.2M211.9 850.3v-8.2M303.5 850.3v-8.2M395.0 850.3v-8.2M486.6 850.3v-8.2" stroke="#000" stroke-width="3" fill="none"/>
<path d="M166.2 850.3v-5.2M257.7 850.3v-5.2M349.3 850.3v-5.2M440.8 850.3v-5.2" stroke="#000" stroke-width="3" fill="none"/>
<path d="M74.6 750.6h8.2M74.6 650.6h8.2M74.6 550.6h8.2" stroke="#000" stroke-width="3" fill="none"/>
<path d="M74.6 800.6h5.2M74.6 700.6h5.2M74.6 600.6h5.2M74.6 500.6h5.2" stroke="#000" stroke-width="3" fill="none"/>
<text x="120.4" y="878.3" font-size="28.7" text-anchor="middle" fill="#000">400</text>
<text x="211.9" y="878.3" font-size="28.7" text-anchor="middle" fill="#000">500</text>
<text x="303.5" y="878.3" font-size="28.7" text-anchor="middle" fill="#000">600</text>
<text x="395.0" y="878.3" font-size="28.7" text-anchor="middle" fill="#000">700</text>
<text x="486.6" y="878.3" font-size="28.7" text-anchor="middle" fill="#000">800</text>
<text x="70.0" y="860.8" font-size="28.7" text-anchor="end" fill="#000">0.0</text>
<text x="70.0" y="760.8" font-size="28.7" text-anchor="end" fill="#000">0.5</text>
<text x="70.0" y="660.8" font-size="28.7" text-anchor="end" fill="#000">1.0</text>
<text x="70.0" y="560.8" font-size="28.7" text-anchor="end" fill="#000">1.5</text>
<text x="274.5" y="909.5" font-size="28.6" text-anchor="middle" fill="#000">Wavelength (nm)</text>
<text x="24.0" y="688.0" font-size="29.5" text-anchor="middle" fill="#000" transform="rotate(-90 24.0 688.0)">Absorbance (arb. units)</text>
<text x="524.0" y="509.7" font-size="58" text-anchor="start" fill="#000" font-weight="bold">f</text>
<clipPath id="clipf"><rect x="575.6" y="490.7" width="411.1" height="359.8"/></clipPath>
<path d="M575.6 725.8 L575.9 712.3 L576.1 727.5 L576.4 730.3 L576.7 742.9 L577.0 730.5 L577.2 706.8 L577.5 720.8 L577.8 710.5 L578.1 726.1 L578.3 724.4 L578.6 729.3 L578.9 764.1 L579.2 719.0 L579.4 726.3 L579.7 727.4 L580.0 767.8 L580.3 769.6 L580.5 755.0 L580.8 748.3 L581.1 735.3 L581.4 742.4 L581.6 733.1 L581.9 754.5 L582.2 738.5 L582.5 737.7 L582.7 757.0 L583.0 716.2 L583.3 737.2 L583.5 726.8 L583.8 759.0 L584.1 761.7 L584.4 755.5 L584.6 752.0 L584.9 740.0 L585.2 747.2 L585.5 759.7 L585.7 768.9 L586.0 762.0 L586.3 733.1 L586.6 768.0 L586.8 750.8 L587.1 748.2 L587.4 780.9 L587.7 755.6 L587.9 735.1 L588.2 790.9 L588.5 763.2 L588.8 760.1 L589.0 772.3 L589.3 751.0 L589.6 760.6 L589.9 784.1 L590.1 746.8 L590.4 749.8 L590.7 745.6 L590.9 737.9 L591.2 755.9 L591.5 760.2 L591.8 783.6 L592.0 752.7 L592.3 772.9 L592.6 770.6 L592.9 784.0 L593.1 779.4 L593.4 772.6 L593.7 743.4 L594.0 797.2 L594.2 788.1 L594.5 760.9 L594.8 741.7 L595.1 755.8 L595.3 795.7 L595.6 805.7 L595.9 759.6 L596.2 777.2 L596.4 783.4 L596.7 749.8 L597.0 747.8 L597.3 762.9 L597.5 761.4 L597.8 758.3 L598.1 739.6 L598.3 755.1 L598.6 756.5 L598.9 755.8 L599.2 789.7 L599.4 743.5 L599.7 748.4 L600.0 754.9 L600.3 795.1 L600.5 772.9 L600.8 748.4 L601.1 791.1 L601.4 763.9 L601.6 743.4 L601.9 781.0 L602.2 731.8 L602.5 748.3 L602.7 758.9 L603.0 749.7 L603.3 742.8 L603.6 750.2 L603.8 731.0 L604.1 760.2 L604.4 753.9 L604.7 726.1 L604.9 741.3 L605.2 754.7 L605.5 718.4 L605.7 705.0 L606.0 736.2 L606.3 749.4 L606.6 720.6 L606.8 715.0 L607.1 711.4 L607.4 669.2 L607.7 710.9 L607.9 652.9 L608.2 697.2 L608.5 675.3 L608.8 629.8 L609.0 603.6 L609.3 594.9 L609.6 592.6 L609.9 583.5 L610.1 570.5 L610.4 549.0 L610.7 562.7 L611.0 548.1 L611.2 542.5 L611.5 564.7 L611.8 554.8 L612.1 573.1 L612.3 551.3 L612.6 609.0 L612.9 641.9 L613.1 654.4 L613.4 659.1 L613.7 650.5 L614.0 688.7 L614.2 683.2 L614.5 662.5 L614.8 758.6 L615.1 736.2 L615.3 715.7 L615.6 718.3 L615.9 726.1 L616.2 742.7 L616.4 726.9 L616.7 737.1 L617.0 754.3 L617.3 705.8 L617.5 744.3 L617.8 762.0 L618.1 756.3 L618.4 760.3 L618.6 759.2 L618.9 804.7 L619.2 769.1 L619.5 746.0 L619.7 782.5 L620.0 765.7 L620.3 750.4 L620.5 752.9 L620.8 743.7 L621.1 795.2 L621.4 774.5 L621.6 775.0 L621.9 760.5 L622.2 753.8 L622.5 813.2 L622.7 755.0 L623.0 794.8 L623.3 762.2 L623.6 796.3 L623.8 770.9 L624.1 755.6 L624.4 776.6 L624.7 771.7 L624.9 762.7 L625.2 773.0 L625.5 776.8 L625.8 752.3 L626.0 759.9 L626.3 780.6 L626.6 734.6 L626.9 793.9 L627.1 762.8 L627.4 780.9 L627.7 775.0 L627.9 766.5 L628.2 773.9 L628.5 767.7 L628.8 800.6 L629.0 800.4 L629.3 768.5 L629.6 792.3 L629.9 793.4 L630.1 800.1 L630.4 759.0 L630.7 766.9 L631.0 756.0 L631.2 792.4 L631.5 778.3 L631.8 795.5 L632.1 766.9 L632.3 754.6 L632.6 791.8 L632.9 755.1 L633.2 763.7 L633.4 781.2 L633.7 808.2 L634.0 757.5 L634.3 780.1 L634.5 787.7 L634.8 772.6 L635.1 772.5 L635.3 756.2 L635.6 793.9 L635.9 761.6 L636.2 756.3 L636.4 756.8 L636.7 781.3 L637.0 789.8 L637.3 763.3 L637.5 776.8 L637.8 776.7 L638.1 757.2 L638.4 782.5 L638.6 813.0 L638.9 784.3 L639.2 806.3 L639.5 766.1 L639.7 773.6 L640.0 787.5 L640.3 778.4 L640.6 765.7 L640.8 777.0 L641.1 758.2 L641.4 779.1 L641.7 762.4 L641.9 755.6 L642.2 753.8 L642.5 788.1 L642.7 764.7 L643.0 806.1 L643.3 794.1 L643.6 807.3 L643.8 761.6 L644.1 796.2 L644.4 777.8 L644.7 780.4 L644.9 777.9 L645.2 786.3 L645.5 773.8 L645.8 750.2 L646.0 776.5 L646.3 769.1 L646.6 761.9 L646.9 780.0 L647.1 796.0 L647.4 785.3 L647.7 760.5 L648.0 801.7 L648.2 785.7 L648.5 761.3 L648.8 764.5 L649.0 776.3 L649.3 764.1 L649.6 773.8 L649.9 794.1 L650.1 799.9 L650.4 785.7 L650.7 761.9 L651.0 784.5 L651.2 789.5 L651.5 787.4 L651.8 799.0 L652.1 777.3 L652.3 793.4 L652.6 769.8 L652.9 811.3 L653.2 770.1 L653.4 784.8 L653.7 804.7 L654.0 763.7 L654.3 778.9 L654.5 808.8 L654.8 787.9 L655.1 769.9 L655.4 781.3 L655.6 762.2 L655.9 762.6 L656.2 763.7 L656.4 768.8 L656.7 753.2 L657.0 763.4 L657.3 766.5 L657.5 805.5 L657.8 759.4 L658.1 752.9 L658.4 777.6 L658.6 780.1 L658.9 742.7 L659.2 799.8 L659.5 765.2 L659.7 734.7 L660.0 786.6 L660.3 761.3 L660.6 742.6 L660.8 773.6 L661.1 762.9 L661.4 757.4 L661.7 785.4 L661.9 772.5 L662.2 766.4 L662.5 757.9 L662.8 771.2 L663.0 773.6 L663.3 786.3 L663.6 775.8 L663.8 756.0 L664.1 768.2 L664.4 783.0 L664.7 782.7 L664.9 727.2 L665.2 751.1 L665.5 758.8 L665.8 809.6 L666.0 758.6 L666.3 760.7 L666.6 741.4 L666.9 761.1 L667.1 768.7 L667.4 759.1 L667.7 798.1 L668.0 750.5 L668.2 761.5 L668.5 777.7 L668.8 745.1 L669.1 737.0 L669.3 788.2 L669.6 776.2 L669.9 760.6 L670.2 762.0 L670.4 771.1 L670.7 780.1 L671.0 729.9 L671.2 747.1 L671.5 782.9 L671.8 785.1 L672.1 735.3 L672.3 746.6 L672.6 732.7 L672.9 748.8 L673.2 776.0 L673.4 757.1 L673.7 796.4 L674.0 773.0 L674.3 761.3 L674.5 751.4 L674.8 771.6 L675.1 761.3 L675.4 751.3 L675.6 752.2 L675.9 747.5 L676.2 754.2 L676.5 762.6 L676.7 743.6 L677.0 755.6 L677.3 769.8 L677.6 766.0 L677.8 755.0 L678.1 756.4 L678.4 751.4 L678.6 753.6 L678.9 750.1 L679.2 754.9 L679.5 773.5 L679.7 744.3 L680.0 733.0 L680.3 743.0 L680.6 753.1 L680.8 741.6 L681.1 765.4 L681.4 780.9 L681.7 746.4 L681.9 763.0 L682.2 733.3 L682.5 764.5 L682.8 790.9 L683.0 762.4 L683.3 715.6 L683.6 749.5 L683.9 766.3 L684.1 754.8 L684.4 731.2 L684.7 730.8 L685.0 735.7 L685.2 711.4 L685.5 724.5 L685.8 736.7 L686.0 724.6 L686.3 704.4 L686.6 715.9 L686.9 714.0 L687.1 751.7 L687.4 733.5 L687.7 716.3 L688.0 734.3 L688.2 707.8 L688.5 715.5 L688.8 708.5 L689.1 728.4 L689.3 675.1 L689.6 698.5 L689.9 725.0 L690.2 718.0 L690.4 668.5 L690.7 723.8 L691.0 698.9 L691.3 695.5 L691.5 713.1 L691.8 734.7 L692.1 706.7 L692.4 701.8 L692.6 685.0 L692.9 690.3 L693.2 703.9 L693.4 685.6 L693.7 690.3 L694.0 695.4 L694.3 696.8 L694.5 701.2 L694.8 680.3 L695.1 714.6 L695.4 704.0 L695.6 689.0 L695.9 718.0 L696.2 694.5 L696.5 726.1 L696.7 696.0 L697.0 667.2 L697.3 665.1 L697.6 676.5 L697.8 678.2 L698.1 702.1 L698.4 628.6 L698.7 655.3 L698.9 640.1 L699.2 682.0 L699.5 664.1 L699.8 698.8 L700.0 637.6 L700.3 631.6 L700.6 694.2 L700.8 649.4 L701.1 631.2 L701.4 684.5 L701.7 683.8 L701.9 663.6 L702.2 651.0 L702.5 667.0 L702.8 630.5 L703.0 622.8 L703.3 611.1 L703.6 606.9 L703.9 585.0 L704.1 590.7 L704.4 649.1 L704.7 627.1 L705.0 638.6 L705.2 636.9 L705.5 609.9 L705.8 605.7 L706.1 591.4 L706.3 641.8 L706.6 631.2 L706.9 598.5 L707.2 601.3 L707.4 602.4 L707.7 594.5 L708.0 610.9 L708.2 571.9 L708.5 579.5 L708.8 589.7 L709.1 603.8 L709.3 590.0 L709.6 655.4 L709.9 609.4 L710.2 582.3 L710.4 622.1 L710.7 577.3 L711.0 578.4 L711.3 618.2 L711.5 588.8 L711.8 590.7 L712.1 570.8 L712.4 567.3 L712.6 584.8 L712.9 606.7 L713.2 589.1 L713.5 588.0 L713.7 568.3 L714.0 580.9 L714.3 608.5 L714.6 626.1 L714.8 602.3 L715.1 613.3 L715.4 624.4 L715.6 600.7 L715.9 612.0 L716.2 598.8 L716.5 590.3 L716.7 615.9 L717.0 549.5 L717.3 617.8 L717.6 584.6 L717.8 611.2 L718.1 589.0 L718.4 677.0 L718.7 639.5 L718.9 617.5 L719.2 611.3 L719.5 572.1 L719.8 623.0 L720.0 602.6 L720.3 617.3 L720.6 615.5 L720.9 628.3 L721.1 646.3 L721.4 633.2 L721.7 672.4 L722.0 622.6 L722.2 675.4 L722.5 648.7 L722.8 608.6 L723.0 664.0 L723.3 660.7 L723.6 637.4 L723.9 664.9 L724.1 685.5 L724.4 664.1 L724.7 659.1 L725.0 658.4 L725.2 692.6 L725.5 640.1 L725.8 644.0 L726.1 681.3 L726.3 677.8 L726.6 694.4 L726.9 657.4 L727.2 703.7 L727.4 676.6 L727.7 702.3 L728.0 708.3 L728.3 680.8 L728.5 669.8 L728.8 698.9 L729.1 713.9 L729.4 685.2 L729.6 704.0 L729.9 698.2 L730.2 675.3 L730.4 684.6 L730.7 718.7 L731.0 664.5 L731.3 710.8 L731.5 696.6 L731.8 725.8 L732.1 715.2 L732.4 749.4 L732.6 681.8 L732.9 691.1 L733.2 741.8 L733.5 748.3 L733.7 751.3 L734.0 698.8 L734.3 730.8 L734.6 724.1 L734.8 729.6 L735.1 726.8 L735.4 745.7 L735.7 725.5 L735.9 753.6 L736.2 728.6 L736.5 722.1 L736.8 719.8 L737.0 733.4 L737.3 746.4 L737.6 727.2 L737.8 739.6 L738.1 702.2 L738.4 717.3 L738.7 734.0 L738.9 740.9 L739.2 745.5 L739.5 750.1 L739.8 739.7 L740.0 728.1 L740.3 724.2 L740.6 723.5 L740.9 695.7 L741.1 747.0 L741.4 734.0 L741.7 683.4 L742.0 768.4 L742.2 743.9 L742.5 731.3 L742.8 731.5 L743.1 726.8 L743.3 738.5 L743.6 727.2 L743.9 732.8 L744.2 719.4 L744.4 767.9 L744.7 749.1 L745.0 732.6 L745.2 751.2 L745.5 751.0 L745.8 719.7 L746.1 742.8 L746.3 718.5 L746.6 715.8 L746.9 723.3 L747.2 718.8 L747.4 729.5 L747.7 753.2 L748.0 726.6 L748.3 716.6 L748.5 734.2 L748.8 725.2 L749.1 708.1 L749.4 738.1 L749.6 708.1 L749.9 683.5 L750.2 728.8 L750.5 714.2 L750.7 718.9 L751.0 684.9 L751.3 707.6 L751.6 695.1 L751.8 725.1 L752.1 710.8 L752.4 709.7 L752.6 743.7 L752.9 678.8 L753.2 688.6 L753.5 740.6 L753.7 689.8 L754.0 706.6 L754.3 694.1 L754.6 694.9 L754.8 731.9 L755.1 705.1 L755.4 669.7 L755.7 711.0 L755.9 719.4 L756.2 725.5 L756.5 721.9 L756.8 689.1 L757.0 660.3 L757.3 685.4 L757.6 688.2 L757.9 645.9 L758.1 702.1 L758.4 704.2 L758.7 677.9 L759.0 676.3 L759.2 708.0 L759.5 710.1 L759.8 677.9 L760.0 677.4 L760.3 709.2 L760.6 684.2 L760.9 690.1 L761.1 667.0 L761.4 678.0 L761.7 675.9 L762.0 680.2 L762.2 647.9 L762.5 638.9 L762.8 676.1 L763.1 647.8 L763.3 681.9 L763.6 662.1 L763.9 645.5 L764.2 627.0 L764.4 668.3 L764.7 660.2 L765.0 652.9 L765.3 690.3 L765.5 654.9 L765.8 669.8 L766.1 645.1 L766.4 678.7 L766.6 697.5 L766.9 650.9 L767.2 645.4 L767.4 663.7 L767.7 630.5 L768.0 657.1 L768.3 664.8 L768.5 640.1 L768.8 687.3 L769.1 667.3 L769.4 652.8 L769.6 633.5 L769.9 657.3 L770.2 647.4 L770.5 670.2 L770.7 649.4 L771.0 619.6 L771.3 673.9 L771.6 606.3 L771.8 675.3 L772.1 661.7 L772.4 659.5 L772.7 641.9 L772.9 693.5 L773.2 713.9 L773.5 655.4 L773.8 652.7 L774.0 657.8 L774.3 615.4 L774.6 669.7 L774.8 670.0 L775.1 656.7 L775.4 670.0 L775.7 643.4 L775.9 706.9 L776.2 689.5 L776.5 756.0 L776.8 666.4 L777.0 692.5 L777.3 666.1 L777.6 641.1 L777.9 687.6 L778.1 693.8 L778.4 699.8 L778.7 707.8 L779.0 704.3 L779.2 678.9 L779.5 692.4 L779.8 692.9 L780.1 698.9 L780.3 677.8 L780.6 687.7 L780.9 702.0 L781.2 687.1 L781.4 705.2 L781.7 726.9 L782.0 676.3 L782.2 698.0 L782.5 728.1 L782.8 689.8 L783.1 706.2 L783.3 745.4 L783.6 685.9 L783.9 712.7 L784.2 704.2 L784.4 719.5 L784.7 728.2 L785.0 756.3 L785.3 711.4 L785.5 730.8 L785.8 738.6 L786.1 728.8 L786.4 735.7 L786.6 726.8 L786.9 747.2 L787.2 743.0 L787.5 781.6 L787.7 753.0 L788.0 735.4 L788.3 725.5 L788.5 756.3 L788.8 753.5 L789.1 725.9 L789.4 759.6 L789.6 743.0 L789.9 728.5 L790.2 757.1 L790.5 738.6 L790.7 771.7 L791.0 757.6 L791.3 763.3 L791.6 761.2 L791.8 745.7 L792.1 726.4 L792.4 776.5 L792.7 775.8 L792.9 759.6 L793.2 785.0 L793.5 761.2 L793.8 760.9 L794.0 774.9 L794.3 763.0 L794.6 796.1 L794.9 760.9 L795.1 797.1 L795.4 784.6 L795.7 783.1 L795.9 781.3 L796.2 762.6 L796.5 775.0 L796.8 782.9 L797.0 769.2 L797.3 754.1 L797.6 778.3 L797.9 773.4 L798.1 760.8 L798.4 775.8 L798.7 799.4 L799.0 743.8 L799.2 748.5 L799.5 810.9 L799.8 782.6 L800.1 776.3 L800.3 768.6 L800.6 773.4 L800.9 787.5 L801.2 799.2 L801.4 782.8 L801.7 769.6 L802.0 800.7 L802.3 800.1 L802.5 786.0 L802.8 813.8 L803.1 790.0 L803.3 792.8 L803.6 780.4 L803.9 797.1 L804.2 800.0 L804.4 793.3 L804.7 788.7 L805.0 797.7 L805.3 788.3 L805.5 778.1 L805.8 772.3 L806.1 765.2 L806.4 800.5 L806.6 795.6 L806.9 824.8 L807.2 763.6 L807.5 800.5 L807.7 791.1 L808.0 783.5 L808.3 810.0 L808.6 784.8 L808.8 791.8 L809.1 817.0 L809.4 787.8 L809.7 775.5 L809.9 818.0 L810.2 781.3 L810.5 789.7 L810.7 786.2 L811.0 786.9 L811.3 775.2 L811.6 796.3 L811.8 781.5 L812.1 799.2 L812.4 783.8 L812.7 805.0 L812.9 795.5 L813.2 770.6 L813.5 788.3 L813.8 796.7 L814.0 810.2 L814.3 805.5 L814.6 792.3 L814.9 782.3 L815.1 789.4 L815.4 788.3 L815.7 796.0 L816.0 777.3 L816.2 801.0 L816.5 803.2 L816.8 784.0 L817.1 795.2 L817.3 799.9 L817.6 804.1 L817.9 799.9 L818.1 788.2 L818.4 791.9 L818.7 812.9 L819.0 791.2 L819.2 794.6 L819.5 810.4 L819.8 786.9 L820.1 801.0 L820.3 801.8 L820.6 786.9 L820.9 780.0 L821.2 806.8 L821.4 791.9 L821.7 809.5 L822.0 767.2 L822.3 804.6 L822.5 782.3 L822.8 806.8 L823.1 787.5 L823.4 769.0 L823.6 832.0 L823.9 804.3 L824.2 792.0 L824.5 799.9 L824.7 807.6 L825.0 770.4 L825.3 797.8 L825.5 820.6 L825.8 787.8 L826.1 821.8 L826.4 784.0 L826.6 806.8 L826.9 797.4 L827.2 782.8 L827.5 797.9 L827.7 817.8 L828.0 821.8 L828.3 784.1 L828.6 790.0 L828.8 810.4 L829.1 788.6 L829.4 793.4 L829.7 791.5 L829.9 829.5 L830.2 804.0 L830.5 788.3 L830.8 790.6 L831.0 788.7 L831.3 832.3 L831.6 798.1 L831.9 793.9 L832.1 767.2 L832.4 812.9 L832.7 804.8 L832.9 800.1 L833.2 789.1 L833.5 806.4 L833.8 785.8 L834.0 811.0 L834.3 797.3 L834.6 807.7 L834.9 798.8 L835.1 809.9 L835.4 821.7 L835.7 786.8 L836.0 797.1 L836.2 808.3 L836.5 798.5 L836.8 788.3 L837.1 813.8 L837.3 802.6 L837.6 794.3 L837.9 794.5 L838.2 805.7 L838.4 828.6 L838.7 785.3 L839.0 797.2 L839.3 801.3 L839.5 805.1 L839.8 798.1 L840.1 807.0 L840.3 814.8 L840.6 811.1 L840.9 809.3 L841.2 809.5 L841.4 816.6 L841.7 793.5 L842.0 818.6 L842.3 793.2 L842.5 814.8 L842.8 797.2 L843.1 784.1 L843.4 799.2 L843.6 811.3 L843.9 801.3 L844.2 800.0 L844.5 824.2 L844.7 809.8 L845.0 799.9 L845.3 808.0 L845.6 801.0 L845.8 792.6 L846.1 792.2 L846.4 790.4 L846.7 794.5 L846.9 805.8 L847.2 802.3 L847.5 805.6 L847.7 806.1 L848.0 804.4 L848.3 824.3 L848.6 806.4 L848.8 802.5 L849.1 814.7 L849.4 802.5 L849.7 795.5 L849.9 804.3 L850.2 775.5 L850.5 835.7 L850.8 804.9 L851.0 825.7 L851.3 789.6 L851.6 768.1 L851.9 834.4 L852.1 800.6 L852.4 795.6 L852.7 806.1 L853.0 795.1 L853.2 831.0 L853.5 791.3 L853.8 797.5 L854.1 801.9 L854.3 809.8 L854.6 794.0 L854.9 808.5 L855.1 799.4 L855.4 808.8 L855.7 831.1 L856.0 802.6 L856.2 799.6 L856.5 792.5 L856.8 813.4 L857.1 802.6 L857.3 794.2 L857.6 800.3 L857.9 786.2 L858.2 776.6 L858.4 813.8 L858.7 826.8 L859.0 791.1 L859.3 782.4 L859.5 790.2 L859.8 791.6 L860.1 810.0 L860.4 811.2 L860.6 790.6 L860.9 813.7 L861.2 825.3 L861.5 814.8 L861.7 769.9 L862.0 777.2 L862.3 810.8 L862.5 811.3 L862.8 798.9 L863.1 811.5 L863.4 784.9 L863.6 802.8 L863.9 815.8 L864.2 784.9 L864.5 809.2 L864.7 798.8 L865.0 801.8 L865.3 805.7 L865.6 797.4 L865.8 810.5 L866.1 825.4 L866.4 830.0 L866.7 817.8 L866.9 811.2 L867.2 801.7 L867.5 800.7 L867.8 794.1 L868.0 799.7 L868.3 811.5 L868.6 810.4 L868.9 828.6 L869.1 803.3 L869.4 794.8 L869.7 794.2 L869.9 802.6 L870.2 803.2 L870.5 788.8 L870.8 800.7 L871.0 791.2 L871.3 793.2 L871.6 797.9 L871.9 783.7 L872.1 808.0 L872.4 805.2 L872.7 811.0 L873.0 810.8 L873.2 780.1 L873.5 777.4 L873.8 799.9 L874.1 792.8 L874.3 784.8 L874.6 789.5 L874.9 784.2 L875.2 816.4 L875.4 808.2 L875.7 793.8 L876.0 780.9 L876.3 798.3 L876.5 810.8 L876.8 804.1 L877.1 808.0 L877.3 810.6 L877.6 779.5 L877.9 807.3 L878.2 798.8 L878.4 770.5 L878.7 783.2 L879.0 794.3 L879.3 806.7 L879.5 793.1 L879.8 777.0 L880.1 790.1 L880.4 781.6 L880.6 796.8 L880.9 791.2 L881.2 800.6 L881.5 792.1 L881.7 780.4 L882.0 816.6 L882.3 798.3 L882.6 794.1 L882.8 804.8 L883.1 801.2 L883.4 786.4 L883.7 770.0 L883.9 788.2 L884.2 792.2 L884.5 817.2 L884.7 770.4 L885.0 795.1 L885.3 796.4 L885.6 810.9 L885.8 796.4 L886.1 810.3 L886.4 794.3 L886.7 788.8 L886.9 794.5 L887.2 791.0 L887.5 806.2 L887.8 775.0 L888.0 803.1 L888.3 818.9 L888.6 796.4 L888.9 804.1 L889.1 807.3 L889.4 798.1 L889.7 789.0 L890.0 809.1 L890.2 794.5 L890.5 772.7 L890.8 782.7 L891.1 794.0 L891.3 789.9 L891.6 793.0 L891.9 791.8 L892.1 780.6 L892.4 791.9 L892.7 823.9 L893.0 790.3 L893.2 802.2 L893.5 780.3 L893.8 797.8 L894.1 786.8 L894.3 757.7 L894.6 803.1 L894.9 803.9 L895.2 807.7 L895.4 821.4 L895.7 813.7 L896.0 781.3 L896.3 795.3 L896.5 812.7 L896.8 806.8 L897.1 776.1 L897.4 795.8 L897.6 789.5 L897.9 778.9 L898.2 763.5 L898.5 754.5 L898.7 767.3 L899.0 779.9 L899.3 778.8 L899.5 754.4 L899.8 759.3 L900.1 784.7 L900.4 772.7 L900.6 774.7 L900.9 777.7 L901.2 785.5 L901.5 797.4 L901.7 784.9 L902.0 799.7 L902.3 757.0 L902.6 766.8 L902.8 792.9 L903.1 752.3 L903.4 759.3 L903.7 802.0 L903.9 743.1 L904.2 758.4 L904.5 738.0 L904.8 789.0 L905.0 760.6 L905.3 761.5 L905.6 764.2 L905.9 763.9 L906.1 749.0 L906.4 789.1 L906.7 784.3 L906.9 786.1 L907.2 771.7 L907.5 771.7 L907.8 754.9 L908.0 755.7 L908.3 758.7 L908.6 769.6 L908.9 764.8 L909.1 740.6 L909.4 742.8 L909.7 753.0 L910.0 759.3 L910.2 726.5 L910.5 762.1 L910.8 740.0 L911.1 730.3 L911.3 753.8 L911.6 734.0 L911.9 766.8 L912.2 728.8 L912.4 742.1 L912.7 772.5 L913.0 732.0 L913.3 758.7 L913.5 719.4 L913.8 753.4 L914.1 743.4 L914.3 734.7 L914.6 744.9 L914.9 733.6 L915.2 747.5 L915.4 724.7 L915.7 736.1 L916.0 731.8 L916.3 785.2 L916.5 713.4 L916.8 733.5 L917.1 766.3 L917.4 731.6 L917.6 724.4 L917.9 713.0 L918.2 752.3 L918.5 703.8 L918.7 735.1 L919.0 688.0 L919.3 734.7 L919.6 719.6 L919.8 738.9 L920.1 752.8 L920.4 712.3 L920.6 716.1 L920.9 704.8 L921.2 717.6 L921.5 744.2 L921.7 764.5 L922.0 746.5 L922.3 747.4 L922.6 750.5 L922.8 725.7 L923.1 731.0 L923.4 742.4 L923.7 735.2 L923.9 741.6 L924.2 736.0 L924.5 727.1 L924.8 724.3 L925.0 754.3 L925.3 769.6 L925.6 718.8 L925.9 742.7 L926.1 726.3 L926.4 775.2 L926.7 753.2 L927.0 747.9 L927.2 774.1 L927.5 759.1 L927.8 738.7 L928.0 733.7 L928.3 725.9 L928.6 768.5 L928.9 778.4 L929.1 747.0 L929.4 740.9 L929.7 754.3 L930.0 780.0 L930.2 746.4 L930.5 747.1 L930.8 751.9 L931.1 769.8 L931.3 757.7 L931.6 750.7 L931.9 773.3 L932.2 794.8 L932.4 760.6 L932.7 759.0 L933.0 767.2 L933.3 754.1 L933.5 778.2 L933.8 770.9 L934.1 775.1 L934.4 762.1 L934.6 746.9 L934.9 776.3 L935.2 741.3 L935.4 750.1 L935.7 762.2 L936.0 765.9 L936.3 748.5 L936.5 778.8 L936.8 778.4 L937.1 793.3 L937.4 770.6 L937.6 758.1 L937.9 770.9 L938.2 773.0 L938.5 782.8 L938.7 777.8 L939.0 801.9 L939.3 765.8 L939.6 787.8 L939.8 798.4 L940.1 793.6 L940.4 795.1 L940.7 770.9 L940.9 768.4 L941.2 803.9 L941.5 771.2 L941.8 772.1 L942.0 793.7 L942.3 807.1 L942.6 796.7 L942.8 795.4 L943.1 781.8 L943.4 792.1 L943.7 816.2 L943.9 784.3 L944.2 809.7 L944.5 775.3 L944.8 805.5 L945.0 798.5 L945.3 801.0 L945.6 796.9 L945.9 771.3 L946.1 777.8 L946.4 781.5 L946.7 785.7 L947.0 812.1 L947.2 797.9 L947.5 798.6 L947.8 804.7 L948.1 784.2 L948.3 801.8 L948.6 801.5 L948.9 806.3 L949.2 820.5 L949.4 784.0 L949.7 774.0 L950.0 790.1 L950.2 806.1 L950.5 830.0 L950.8 790.6 L951.1 776.4 L951.3 789.2 L951.6 780.7 L951.9 773.3 L952.2 778.2 L952.4 799.8 L952.7 779.5 L953.0 783.4 L953.3 815.1 L953.5 799.7 L953.8 813.7 L954.1 795.9 L954.4 786.7 L954.6 809.1 L954.9 822.6 L955.2 777.2 L955.5 789.8 L955.7 775.0 L956.0 813.0 L956.3 780.7 L956.6 767.1 L956.8 768.1 L957.1 798.2 L957.4 791.7 L957.6 797.5 L957.9 782.0 L958.2 781.5 L958.5 794.4 L958.7 814.0 L959.0 785.7 L959.3 802.1 L959.6 787.3 L959.8 792.3 L960.1 774.0 L960.4 780.6 L960.7 802.0 L960.9 791.3 L961.2 772.3 L961.5 803.3 L961.8 790.2 L962.0 780.1 L962.3 779.2 L962.6 789.2 L962.9 813.9 L963.1 813.1 L963.4 792.9 L963.7 791.0 L964.0 762.0 L964.2 807.8 L964.5 781.0 L964.8 785.9 L965.0 818.7 L965.3 807.3 L965.6 794.1 L965.9 802.9 L966.1 798.4 L966.4 790.0 L966.7 807.2 L967.0 790.0 L967.2 804.9 L967.5 803.6 L967.8 789.1 L968.1 804.0 L968.3 792.5 L968.6 774.8 L968.9 795.9 L969.2 798.3 L969.4 786.4 L969.7 801.2 L970.0 781.8 L970.3 813.5 L970.5 788.0 L970.8 803.2 L971.1 807.0 L971.4 772.5 L971.6 807.7 L971.9 772.7 L972.2 787.4 L972.4 776.7 L972.7 809.4 L973.0 780.1 L973.3 776.7 L973.5 797.8 L973.8 798.0 L974.1 763.2 L974.4 793.8 L974.6 801.9 L974.9 804.7 L975.2 790.2 L975.5 791.8 L975.7 793.8 L976.0 773.1 L976.3 800.6 L976.6 789.8 L976.8 776.6 L977.1 809.7 L977.4 782.2 L977.7 771.6 L977.9 814.4 L978.2 810.9 L978.5 810.1 L978.8 821.0 L979.0 790.1 L979.3 821.1 L979.6 789.5 L979.8 776.7 L980.1 817.9 L980.4 800.5 L980.7 822.0 L980.9 785.8 L981.2 806.2 L981.5 799.8 L981.8 795.5 L982.0 789.0 L982.3 801.0 L982.6 796.1 L982.9 803.7 L983.1 794.8 L983.4 812.1 L983.7 795.5 L984.0 822.3 L984.2 803.0 L984.5 770.7 L984.8 795.4 L985.1 813.4 L985.3 793.1 L985.6 809.6 L985.9 818.7 L986.2 806.5 L986.4 786.7 L986.7 752.4" fill="none" stroke="#ff0000" stroke-width="1.9" stroke-linejoin="round" stroke-linecap="round" clip-path="url(#clipf)"/>
<line x1="611.4" y1="541.0" x2="611.4" y2="850.5" stroke="#2020ff" stroke-width="1.4"/>
<line x1="712.1" y1="562.0" x2="712.1" y2="850.5" stroke="#2020ff" stroke-width="1.4"/>
<line x1="772.1" y1="628.4" x2="772.1" y2="850.5" stroke="#2020ff" stroke-width="1.4"/>
<line x1="919.3" y1="676.0" x2="919.3" y2="850.5" stroke="#2020ff" stroke-width="1.4"/>
<rect x="575.6" y="490.7" width="411.1" height="359.8" fill="none" stroke="#000" stroke-width="3.3"/>
<path d="M657.8 850.5v-8.2M740.0 850.5v-8.2M822.3 850.5v-8.2M904.5 850.5v-8.2" stroke="#000" stroke-width="3" fill="none"/>
<path d="M575.6 747.3h8.2M575.6 644.3h8.2M575.6 541.3h8.2" stroke="#000" stroke-width="3" fill="none"/>
<text x="575.6" y="878.3" font-size="28.7" text-anchor="middle" fill="#000">10</text>
<text x="657.8" y="878.3" font-size="28.7" text-anchor="middle" fill="#000">20</text>
<text x="740.0" y="878.3" font-size="28.7" text-anchor="middle" fill="#000">30</text>
<text x="822.3" y="878.3" font-size="28.7" text-anchor="middle" fill="#000">40</text>
<text x="904.5" y="878.3" font-size="28.7" text-anchor="middle" fill="#000">50</text>
<text x="986.7" y="878.3" font-size="28.7" text-anchor="middle" fill="#000">60</text>
<text x="570.5" y="860.5" font-size="28.7" text-anchor="end" fill="#000">0</text>
<text x="570.5" y="757.5" font-size="28.7" text-anchor="end" fill="#000">20</text>
<text x="570.5" y="654.5" font-size="28.7" text-anchor="end" fill="#000">40</text>
<text x="570.5" y="551.5" font-size="28.7" text-anchor="end" fill="#000">60</text>
<text x="796.0" y="912.3" font-size="28.8" text-anchor="middle" fill="#000">2θ (degree)</text>
<text x="529.0" y="689.0" font-size="28.3" text-anchor="middle" fill="#000" transform="rotate(-90 529.0 689.0)">Intensity (arb. units)</text>
<text x="589.7" y="532.0" font-size="28" text-anchor="start" fill="#0000ff">MoS<tspan font-size="17" font-weight="bold">2</tspan></text>
<text x="699.5" y="548.3" font-size="28" text-anchor="start" fill="#0000ff">SnO<tspan font-size="17" font-weight="bold">2</tspan></text>
<text x="762.6" y="613.3" font-size="28" text-anchor="start" fill="#0000ff">SnO<tspan font-size="17" font-weight="bold">2</tspan></text>
<text x="886.0" y="670.9" font-size="28" text-anchor="start" fill="#0000ff">SnO<tspan font-size="17" font-weight="bold">2</tspan></text>
<g clip-path="url(#clipg)">
<rect x="1044.6" y="487.0" width="445.4" height="379.6" fill="url(#gg)"/>
<rect x="1044.6" y="487.0" width="445.4" height="379.6" fill="url(#gg2)"/>
<g fill="#2e3a40" opacity="0.75" filter="url(#gbl)">
<circle cx="1196.8" cy="517.8" r="2.21"/>
<circle cx="1063.7" cy="578.8" r="1.87"/>
<circle cx="1149.3" cy="583.9" r="1.53"/>
<circle cx="1134.0" cy="627.6" r="1.95"/>
<circle cx="1071.6" cy="657.6" r="1.87"/>
<circle cx="1181.2" cy="675.6" r="1.87"/>
<circle cx="1073.7" cy="733.2" r="1.70"/>
<circle cx="1084.9" cy="788.9" r="1.53"/>
<circle cx="1093.4" cy="788.4" r="1.53"/>
<circle cx="1076.9" cy="809.6" r="2.55"/>
<circle cx="1242.7" cy="781.0" r="1.53"/>
<circle cx="1214.3" cy="796.9" r="1.36"/>
<circle cx="1477.5" cy="767.2" r="1.70"/>
<circle cx="1414.3" cy="842.0" r="1.53"/>
<circle cx="1177.7" cy="649.7" r="1.53"/>
<circle cx="1098.1" cy="668.2" r="1.27"/>
<circle cx="1066.3" cy="509.1" r="1.36"/>
<circle cx="1086.2" cy="493.2" r="1.19"/>
<circle cx="1161.8" cy="487.9" r="1.36"/>
<circle cx="1057.8" cy="628.4" r="1.19"/>
<circle cx="1198.9" cy="658.9" r="1.19"/>
<circle cx="1246.7" cy="758.4" r="1.36"/>
<circle cx="1391.2" cy="759.2" r="1.19"/>
<circle cx="1177.2" cy="807.5" r="1.19"/>
<circle cx="1191.0" cy="830.0" r="1.19"/>
<circle cx="1301.1" cy="857.9" r="1.53"/>
<circle cx="1367.4" cy="844.1" r="1.19"/>
<circle cx="1454.9" cy="809.6" r="1.19"/>
<circle cx="1123.3" cy="859.2" r="1.27"/>
<circle cx="1115.4" cy="857.9" r="1.10"/>
<circle cx="1094.2" cy="709.3" r="1.10"/>
<circle cx="1140.6" cy="704.0" r="1.02"/>
<circle cx="1127.3" cy="643.0" r="1.10"/>
</g>
<g fill="#b8d8a0" opacity="0.6" filter="url(#gbl)">
<circle cx="1322.0" cy="768.6" r="1.1"/>
<circle cx="1398.8" cy="844.8" r="1.1"/>
<circle cx="1374.2" cy="837.1" r="1.1"/>
<circle cx="1057.5" cy="663.8" r="1.1"/>
<circle cx="1050.4" cy="569.3" r="1.1"/>
<circle cx="1169.1" cy="834.8" r="1.1"/>
<circle cx="1045.4" cy="817.8" r="1.1"/>
<circle cx="1137.9" cy="568.8" r="1.1"/>
<circle cx="1482.2" cy="818.2" r="1.1"/>
<circle cx="1173.5" cy="852.0" r="1.1"/>
<circle cx="1135.8" cy="844.2" r="1.1"/>
<circle cx="1352.2" cy="853.9" r="1.1"/>
<circle cx="1205.5" cy="550.0" r="1.1"/>
<circle cx="1109.5" cy="511.7" r="1.1"/>
<circle cx="1178.8" cy="715.9" r="1.1"/>
<circle cx="1046.1" cy="744.3" r="1.1"/>
<circle cx="1195.1" cy="604.7" r="1.1"/>
<circle cx="1185.3" cy="669.7" r="1.1"/>
<circle cx="1378.6" cy="807.7" r="1.1"/>
<circle cx="1052.6" cy="786.0" r="1.1"/>
<circle cx="1207.7" cy="706.6" r="1.1"/>
<circle cx="1048.6" cy="504.7" r="1.1"/>
<circle cx="1125.2" cy="849.6" r="1.1"/>
<circle cx="1132.1" cy="773.9" r="1.1"/>
<circle cx="1458.7" cy="844.6" r="1.1"/>
<circle cx="1198.0" cy="621.7" r="1.1"/>
<circle cx="1278.3" cy="781.4" r="1.1"/>
<circle cx="1092.7" cy="771.1" r="1.1"/>
<circle cx="1399.7" cy="813.3" r="1.1"/>
<circle cx="1060.9" cy="846.0" r="1.1"/>
<circle cx="1085.2" cy="616.3" r="1.1"/>
<circle cx="1316.7" cy="835.5" r="1.1"/>
<circle cx="1196.0" cy="837.8" r="1.1"/>
<circle cx="1185.7" cy="554.4" r="1.1"/>
<circle cx="1079.4" cy="543.5" r="1.1"/>
<circle cx="1351.6" cy="865.4" r="1.1"/>
<circle cx="1116.5" cy="505.4" r="1.1"/>
<circle cx="1309.1" cy="800.7" r="1.1"/>
<circle cx="1069.4" cy="834.7" r="1.1"/>
<circle cx="1059.2" cy="674.4" r="1.1"/>
<circle cx="1370.5" cy="847.5" r="1.1"/>
<circle cx="1325.4" cy="786.1" r="1.1"/>
<circle cx="1092.1" cy="652.0" r="1.1"/>
<circle cx="1111.1" cy="807.7" r="1.1"/>
<circle cx="1175.9" cy="659.0" r="1.1"/>
<circle cx="1489.7" cy="810.5" r="1.1"/>
<circle cx="1262.0" cy="763.9" r="1.1"/>
<circle cx="1212.5" cy="862.2" r="1.1"/>
</g>
</g>
<rect x="1217.0" y="487.0" width="273.0" height="269.5" fill="#fff"/>
<rect x="1221.0" y="489.0" width="267.0" height="264.0" fill="#000"/>
<path d="M1224.3 489.0h3.5v3.5h-3.5zM1244.1 489.0h3.5v3.5h-3.5zM1254.0 489.0h3.5v3.5h-3.5zM1277.0 489.0h3.5v3.5h-3.5zM1290.2 489.0h3.5v3.5h-3.5zM1343.0 489.0h3.5v3.5h-3.5zM1372.6 489.0h3.5v3.5h-3.5zM1375.9 489.0h3.5v3.5h-3.5zM1352.9 492.3h3.5v3.5h-3.5zM1366.0 492.3h3.5v3.5h-3.5zM1240.8 495.6h3.5v3.5h-3.5zM1329.8 495.6h3.5v3.5h-3.5zM1389.1 495.6h3.5v3.5h-3.5zM1221.0 498.9h3.5v3.5h-3.5zM1273.7 498.9h3.5v3.5h-3.5zM1392.4 498.9h3.5v3.5h-3.5zM1339.7 502.2h3.5v3.5h-3.5zM1408.9 502.2h3.5v3.5h-3.5zM1415.5 502.2h3.5v3.5h-3.5zM1290.2 505.5h3.5v3.5h-3.5zM1296.8 505.5h3.5v3.5h-3.5zM1316.6 505.5h3.5v3.5h-3.5zM1323.2 505.5h3.5v3.5h-3.5zM1408.9 505.5h3.5v3.5h-3.5zM1415.5 505.5h3.5v3.5h-3.5zM1270.4 508.8h3.5v3.5h-3.5zM1323.2 508.8h3.5v3.5h-3.5zM1336.4 508.8h3.5v3.5h-3.5zM1343.0 508.8h3.5v3.5h-3.5zM1375.9 508.8h3.5v3.5h-3.5zM1379.2 508.8h3.5v3.5h-3.5zM1412.2 508.8h3.5v3.5h-3.5zM1435.3 508.8h3.5v3.5h-3.5zM1481.4 508.8h3.5v3.5h-3.5zM1250.7 512.1h3.5v3.5h-3.5zM1372.6 512.1h3.5v3.5h-3.5zM1375.9 512.1h3.5v3.5h-3.5zM1402.3 512.1h3.5v3.5h-3.5zM1415.5 512.1h3.5v3.5h-3.5zM1326.5 515.4h3.5v3.5h-3.5zM1339.7 515.4h3.5v3.5h-3.5zM1408.9 515.4h3.5v3.5h-3.5zM1425.4 515.4h3.5v3.5h-3.5zM1441.9 515.4h3.5v3.5h-3.5zM1474.8 515.4h3.5v3.5h-3.5zM1428.7 518.7h3.5v3.5h-3.5zM1244.1 522.0h3.5v3.5h-3.5zM1254.0 522.0h3.5v3.5h-3.5zM1260.6 522.0h3.5v3.5h-3.5zM1263.9 522.0h3.5v3.5h-3.5zM1296.8 522.0h3.5v3.5h-3.5zM1310.0 522.0h3.5v3.5h-3.5zM1323.2 522.0h3.5v3.5h-3.5zM1326.5 522.0h3.5v3.5h-3.5zM1412.2 522.0h3.5v3.5h-3.5zM1451.7 522.0h3.5v3.5h-3.5zM1273.7 525.3h3.5v3.5h-3.5zM1346.3 525.3h3.5v3.5h-3.5zM1412.2 528.6h3.5v3.5h-3.5zM1445.1 528.6h3.5v3.5h-3.5zM1455.0 528.6h3.5v3.5h-3.5zM1260.6 531.9h3.5v3.5h-3.5zM1303.4 531.9h3.5v3.5h-3.5zM1408.9 531.9h3.5v3.5h-3.5zM1415.5 531.9h3.5v3.5h-3.5zM1422.1 531.9h3.5v3.5h-3.5zM1267.1 535.2h3.5v3.5h-3.5zM1270.4 535.2h3.5v3.5h-3.5zM1408.9 535.2h3.5v3.5h-3.5zM1415.5 535.2h3.5v3.5h-3.5zM1438.6 535.2h3.5v3.5h-3.5zM1451.7 535.2h3.5v3.5h-3.5zM1227.6 538.5h3.5v3.5h-3.5zM1293.5 538.5h3.5v3.5h-3.5zM1313.3 538.5h3.5v3.5h-3.5zM1385.8 538.5h3.5v3.5h-3.5zM1389.1 538.5h3.5v3.5h-3.5zM1392.4 538.5h3.5v3.5h-3.5zM1448.4 538.5h3.5v3.5h-3.5zM1227.6 541.8h3.5v3.5h-3.5zM1230.9 541.8h3.5v3.5h-3.5zM1234.2 541.8h3.5v3.5h-3.5zM1254.0 541.8h3.5v3.5h-3.5zM1263.9 541.8h3.5v3.5h-3.5zM1290.2 541.8h3.5v3.5h-3.5zM1329.8 541.8h3.5v3.5h-3.5zM1343.0 541.8h3.5v3.5h-3.5zM1346.3 541.8h3.5v3.5h-3.5zM1435.3 541.8h3.5v3.5h-3.5zM1438.6 541.8h3.5v3.5h-3.5zM1240.8 545.1h3.5v3.5h-3.5zM1254.0 545.1h3.5v3.5h-3.5zM1296.8 545.1h3.5v3.5h-3.5zM1306.7 545.1h3.5v3.5h-3.5zM1415.5 545.1h3.5v3.5h-3.5zM1438.6 545.1h3.5v3.5h-3.5zM1240.8 548.4h3.5v3.5h-3.5zM1263.9 548.4h3.5v3.5h-3.5zM1306.7 548.4h3.5v3.5h-3.5zM1395.7 548.4h3.5v3.5h-3.5zM1247.4 551.7h3.5v3.5h-3.5zM1329.8 551.7h3.5v3.5h-3.5zM1382.5 551.7h3.5v3.5h-3.5zM1385.8 551.7h3.5v3.5h-3.5zM1395.7 551.7h3.5v3.5h-3.5zM1428.7 555.0h3.5v3.5h-3.5zM1448.4 555.0h3.5v3.5h-3.5zM1244.1 558.3h3.5v3.5h-3.5zM1343.0 558.3h3.5v3.5h-3.5zM1418.8 558.3h3.5v3.5h-3.5zM1273.7 561.6h3.5v3.5h-3.5zM1356.1 561.6h3.5v3.5h-3.5zM1227.6 564.9h3.5v3.5h-3.5zM1372.6 564.9h3.5v3.5h-3.5zM1399.0 564.9h3.5v3.5h-3.5zM1405.6 564.9h3.5v3.5h-3.5zM1428.7 564.9h3.5v3.5h-3.5zM1227.6 568.2h3.5v3.5h-3.5zM1230.9 568.2h3.5v3.5h-3.5zM1257.3 568.2h3.5v3.5h-3.5zM1296.8 568.2h3.5v3.5h-3.5zM1382.5 568.2h3.5v3.5h-3.5zM1425.4 568.2h3.5v3.5h-3.5zM1432.0 568.2h3.5v3.5h-3.5zM1441.9 568.2h3.5v3.5h-3.5zM1263.9 571.5h3.5v3.5h-3.5zM1329.8 571.5h3.5v3.5h-3.5zM1356.1 571.5h3.5v3.5h-3.5zM1366.0 571.5h3.5v3.5h-3.5zM1382.5 571.5h3.5v3.5h-3.5zM1415.5 571.5h3.5v3.5h-3.5zM1224.3 574.8h3.5v3.5h-3.5zM1230.9 574.8h3.5v3.5h-3.5zM1237.5 574.8h3.5v3.5h-3.5zM1240.8 574.8h3.5v3.5h-3.5zM1250.7 574.8h3.5v3.5h-3.5zM1257.3 574.8h3.5v3.5h-3.5zM1267.1 574.8h3.5v3.5h-3.5zM1329.8 574.8h3.5v3.5h-3.5zM1343.0 574.8h3.5v3.5h-3.5zM1250.7 578.1h3.5v3.5h-3.5zM1343.0 578.1h3.5v3.5h-3.5zM1359.4 578.1h3.5v3.5h-3.5zM1369.3 578.1h3.5v3.5h-3.5zM1237.5 581.4h3.5v3.5h-3.5zM1260.6 581.4h3.5v3.5h-3.5zM1277.0 581.4h3.5v3.5h-3.5zM1283.6 581.4h3.5v3.5h-3.5zM1290.2 581.4h3.5v3.5h-3.5zM1313.3 584.7h3.5v3.5h-3.5zM1323.2 584.7h3.5v3.5h-3.5zM1349.6 584.7h3.5v3.5h-3.5zM1277.0 588.0h3.5v3.5h-3.5zM1293.5 588.0h3.5v3.5h-3.5zM1296.8 588.0h3.5v3.5h-3.5zM1333.1 588.0h3.5v3.5h-3.5zM1474.8 588.0h3.5v3.5h-3.5zM1234.2 591.3h3.5v3.5h-3.5zM1247.4 591.3h3.5v3.5h-3.5zM1263.9 591.3h3.5v3.5h-3.5zM1293.5 591.3h3.5v3.5h-3.5zM1316.6 591.3h3.5v3.5h-3.5zM1415.5 591.3h3.5v3.5h-3.5zM1349.6 594.6h3.5v3.5h-3.5zM1458.3 594.6h3.5v3.5h-3.5zM1267.1 597.9h3.5v3.5h-3.5zM1286.9 597.9h3.5v3.5h-3.5zM1333.1 597.9h3.5v3.5h-3.5zM1349.6 597.9h3.5v3.5h-3.5zM1458.3 597.9h3.5v3.5h-3.5zM1461.6 597.9h3.5v3.5h-3.5zM1293.5 601.2h3.5v3.5h-3.5zM1346.3 601.2h3.5v3.5h-3.5zM1425.4 601.2h3.5v3.5h-3.5zM1247.4 604.5h3.5v3.5h-3.5zM1293.5 604.5h3.5v3.5h-3.5zM1300.1 604.5h3.5v3.5h-3.5zM1399.0 604.5h3.5v3.5h-3.5zM1435.3 604.5h3.5v3.5h-3.5zM1267.1 607.8h3.5v3.5h-3.5zM1270.4 607.8h3.5v3.5h-3.5zM1346.3 607.8h3.5v3.5h-3.5zM1356.1 607.8h3.5v3.5h-3.5zM1369.3 607.8h3.5v3.5h-3.5zM1389.1 607.8h3.5v3.5h-3.5zM1399.0 607.8h3.5v3.5h-3.5zM1425.4 607.8h3.5v3.5h-3.5zM1254.0 611.1h3.5v3.5h-3.5zM1290.2 611.1h3.5v3.5h-3.5zM1422.1 611.1h3.5v3.5h-3.5zM1455.0 611.1h3.5v3.5h-3.5zM1478.1 611.1h3.5v3.5h-3.5zM1270.4 614.4h3.5v3.5h-3.5zM1306.7 614.4h3.5v3.5h-3.5zM1366.0 614.4h3.5v3.5h-3.5zM1270.4 617.7h3.5v3.5h-3.5zM1435.3 617.7h3.5v3.5h-3.5zM1455.0 617.7h3.5v3.5h-3.5zM1461.6 617.7h3.5v3.5h-3.5zM1240.8 621.0h3.5v3.5h-3.5zM1254.0 621.0h3.5v3.5h-3.5zM1257.3 621.0h3.5v3.5h-3.5zM1362.7 621.0h3.5v3.5h-3.5zM1366.0 621.0h3.5v3.5h-3.5zM1432.0 621.0h3.5v3.5h-3.5zM1445.1 621.0h3.5v3.5h-3.5zM1267.1 624.3h3.5v3.5h-3.5zM1270.4 624.3h3.5v3.5h-3.5zM1346.3 624.3h3.5v3.5h-3.5zM1372.6 624.3h3.5v3.5h-3.5zM1399.0 624.3h3.5v3.5h-3.5zM1461.6 624.3h3.5v3.5h-3.5zM1250.7 627.6h3.5v3.5h-3.5zM1428.7 627.6h3.5v3.5h-3.5zM1441.9 627.6h3.5v3.5h-3.5zM1461.6 627.6h3.5v3.5h-3.5zM1464.9 627.6h3.5v3.5h-3.5zM1227.6 630.9h3.5v3.5h-3.5zM1270.4 630.9h3.5v3.5h-3.5zM1300.1 630.9h3.5v3.5h-3.5zM1303.4 630.9h3.5v3.5h-3.5zM1399.0 630.9h3.5v3.5h-3.5zM1408.9 630.9h3.5v3.5h-3.5zM1481.4 630.9h3.5v3.5h-3.5zM1250.7 634.2h3.5v3.5h-3.5zM1273.7 634.2h3.5v3.5h-3.5zM1290.2 634.2h3.5v3.5h-3.5zM1303.4 634.2h3.5v3.5h-3.5zM1356.1 634.2h3.5v3.5h-3.5zM1405.6 634.2h3.5v3.5h-3.5zM1471.5 634.2h3.5v3.5h-3.5zM1247.4 637.5h3.5v3.5h-3.5zM1254.0 637.5h3.5v3.5h-3.5zM1283.6 637.5h3.5v3.5h-3.5zM1343.0 637.5h3.5v3.5h-3.5zM1418.8 637.5h3.5v3.5h-3.5zM1273.7 640.8h3.5v3.5h-3.5zM1277.0 640.8h3.5v3.5h-3.5zM1296.8 640.8h3.5v3.5h-3.5zM1349.6 640.8h3.5v3.5h-3.5zM1425.4 640.8h3.5v3.5h-3.5zM1481.4 640.8h3.5v3.5h-3.5zM1250.7 644.1h3.5v3.5h-3.5zM1260.6 644.1h3.5v3.5h-3.5zM1326.5 644.1h3.5v3.5h-3.5zM1356.1 644.1h3.5v3.5h-3.5zM1438.6 644.1h3.5v3.5h-3.5zM1237.5 647.4h3.5v3.5h-3.5zM1260.6 647.4h3.5v3.5h-3.5zM1280.3 647.4h3.5v3.5h-3.5zM1329.8 647.4h3.5v3.5h-3.5zM1418.8 647.4h3.5v3.5h-3.5zM1441.9 647.4h3.5v3.5h-3.5zM1260.6 650.7h3.5v3.5h-3.5zM1273.7 650.7h3.5v3.5h-3.5zM1290.2 650.7h3.5v3.5h-3.5zM1319.9 650.7h3.5v3.5h-3.5zM1326.5 650.7h3.5v3.5h-3.5zM1435.3 650.7h3.5v3.5h-3.5zM1445.1 650.7h3.5v3.5h-3.5zM1468.2 650.7h3.5v3.5h-3.5zM1280.3 654.0h3.5v3.5h-3.5zM1319.9 654.0h3.5v3.5h-3.5zM1333.1 654.0h3.5v3.5h-3.5zM1346.3 654.0h3.5v3.5h-3.5zM1349.6 654.0h3.5v3.5h-3.5zM1254.0 657.3h3.5v3.5h-3.5zM1280.3 657.3h3.5v3.5h-3.5zM1329.8 657.3h3.5v3.5h-3.5zM1339.7 657.3h3.5v3.5h-3.5zM1349.6 657.3h3.5v3.5h-3.5zM1389.1 657.3h3.5v3.5h-3.5zM1435.3 657.3h3.5v3.5h-3.5zM1474.8 657.3h3.5v3.5h-3.5zM1257.3 660.6h3.5v3.5h-3.5zM1260.6 660.6h3.5v3.5h-3.5zM1267.1 660.6h3.5v3.5h-3.5zM1273.7 660.6h3.5v3.5h-3.5zM1283.6 660.6h3.5v3.5h-3.5zM1349.6 660.6h3.5v3.5h-3.5zM1382.5 660.6h3.5v3.5h-3.5zM1441.9 660.6h3.5v3.5h-3.5zM1471.5 660.6h3.5v3.5h-3.5zM1484.7 660.6h3.5v3.5h-3.5zM1221.0 663.9h3.5v3.5h-3.5zM1230.9 663.9h3.5v3.5h-3.5zM1300.1 663.9h3.5v3.5h-3.5zM1399.0 663.9h3.5v3.5h-3.5zM1441.9 663.9h3.5v3.5h-3.5zM1296.8 667.2h3.5v3.5h-3.5zM1300.1 667.2h3.5v3.5h-3.5zM1316.6 667.2h3.5v3.5h-3.5zM1319.9 667.2h3.5v3.5h-3.5zM1392.4 667.2h3.5v3.5h-3.5zM1402.3 667.2h3.5v3.5h-3.5zM1432.0 667.2h3.5v3.5h-3.5zM1478.1 667.2h3.5v3.5h-3.5zM1481.4 667.2h3.5v3.5h-3.5zM1484.7 667.2h3.5v3.5h-3.5zM1273.7 670.5h3.5v3.5h-3.5zM1316.6 670.5h3.5v3.5h-3.5zM1461.6 670.5h3.5v3.5h-3.5zM1471.5 670.5h3.5v3.5h-3.5zM1474.8 670.5h3.5v3.5h-3.5zM1260.6 673.8h3.5v3.5h-3.5zM1303.4 673.8h3.5v3.5h-3.5zM1333.1 673.8h3.5v3.5h-3.5zM1362.7 673.8h3.5v3.5h-3.5zM1366.0 673.8h3.5v3.5h-3.5zM1441.9 673.8h3.5v3.5h-3.5zM1306.7 677.1h3.5v3.5h-3.5zM1319.9 677.1h3.5v3.5h-3.5zM1326.5 677.1h3.5v3.5h-3.5zM1346.3 677.1h3.5v3.5h-3.5zM1349.6 677.1h3.5v3.5h-3.5zM1369.3 677.1h3.5v3.5h-3.5zM1385.8 677.1h3.5v3.5h-3.5zM1392.4 677.1h3.5v3.5h-3.5zM1399.0 677.1h3.5v3.5h-3.5zM1221.0 680.4h3.5v3.5h-3.5zM1227.6 680.4h3.5v3.5h-3.5zM1336.4 680.4h3.5v3.5h-3.5zM1372.6 680.4h3.5v3.5h-3.5zM1385.8 680.4h3.5v3.5h-3.5zM1395.7 680.4h3.5v3.5h-3.5zM1415.5 680.4h3.5v3.5h-3.5zM1418.8 680.4h3.5v3.5h-3.5zM1422.1 680.4h3.5v3.5h-3.5zM1296.8 683.7h3.5v3.5h-3.5zM1329.8 683.7h3.5v3.5h-3.5zM1372.6 683.7h3.5v3.5h-3.5zM1418.8 683.7h3.5v3.5h-3.5zM1425.4 683.7h3.5v3.5h-3.5zM1481.4 683.7h3.5v3.5h-3.5zM1270.4 687.0h3.5v3.5h-3.5zM1283.6 687.0h3.5v3.5h-3.5zM1286.9 687.0h3.5v3.5h-3.5zM1313.3 687.0h3.5v3.5h-3.5zM1319.9 687.0h3.5v3.5h-3.5zM1382.5 687.0h3.5v3.5h-3.5zM1415.5 687.0h3.5v3.5h-3.5zM1484.7 687.0h3.5v3.5h-3.5zM1230.9 690.3h3.5v3.5h-3.5zM1234.2 690.3h3.5v3.5h-3.5zM1237.5 690.3h3.5v3.5h-3.5zM1257.3 690.3h3.5v3.5h-3.5zM1263.9 690.3h3.5v3.5h-3.5zM1283.6 690.3h3.5v3.5h-3.5zM1306.7 690.3h3.5v3.5h-3.5zM1333.1 690.3h3.5v3.5h-3.5zM1352.9 690.3h3.5v3.5h-3.5zM1359.4 690.3h3.5v3.5h-3.5zM1395.7 690.3h3.5v3.5h-3.5zM1445.1 690.3h3.5v3.5h-3.5zM1221.0 693.6h3.5v3.5h-3.5zM1349.6 693.6h3.5v3.5h-3.5zM1230.9 696.9h3.5v3.5h-3.5zM1366.0 696.9h3.5v3.5h-3.5zM1402.3 696.9h3.5v3.5h-3.5zM1230.9 700.2h3.5v3.5h-3.5zM1375.9 700.2h3.5v3.5h-3.5zM1412.2 700.2h3.5v3.5h-3.5zM1418.8 700.2h3.5v3.5h-3.5zM1247.4 703.5h3.5v3.5h-3.5zM1405.6 703.5h3.5v3.5h-3.5zM1237.5 706.8h3.5v3.5h-3.5zM1346.3 706.8h3.5v3.5h-3.5zM1372.6 706.8h3.5v3.5h-3.5zM1382.5 706.8h3.5v3.5h-3.5zM1412.2 706.8h3.5v3.5h-3.5zM1455.0 706.8h3.5v3.5h-3.5zM1458.3 706.8h3.5v3.5h-3.5zM1481.4 706.8h3.5v3.5h-3.5zM1237.5 710.1h3.5v3.5h-3.5zM1263.9 710.1h3.5v3.5h-3.5zM1300.1 710.1h3.5v3.5h-3.5zM1422.1 710.1h3.5v3.5h-3.5zM1432.0 710.1h3.5v3.5h-3.5zM1451.7 710.1h3.5v3.5h-3.5zM1455.0 710.1h3.5v3.5h-3.5zM1260.6 713.4h3.5v3.5h-3.5zM1372.6 713.4h3.5v3.5h-3.5zM1395.7 713.4h3.5v3.5h-3.5zM1455.0 713.4h3.5v3.5h-3.5zM1458.3 713.4h3.5v3.5h-3.5zM1468.2 713.4h3.5v3.5h-3.5zM1240.8 716.7h3.5v3.5h-3.5zM1247.4 716.7h3.5v3.5h-3.5zM1290.2 716.7h3.5v3.5h-3.5zM1296.8 716.7h3.5v3.5h-3.5zM1461.6 716.7h3.5v3.5h-3.5zM1481.4 716.7h3.5v3.5h-3.5zM1240.8 720.0h3.5v3.5h-3.5zM1280.3 720.0h3.5v3.5h-3.5zM1290.2 720.0h3.5v3.5h-3.5zM1432.0 720.0h3.5v3.5h-3.5zM1474.8 720.0h3.5v3.5h-3.5zM1250.7 723.3h3.5v3.5h-3.5zM1267.1 723.3h3.5v3.5h-3.5zM1336.4 723.3h3.5v3.5h-3.5zM1349.6 723.3h3.5v3.5h-3.5zM1362.7 723.3h3.5v3.5h-3.5zM1402.3 723.3h3.5v3.5h-3.5zM1405.6 723.3h3.5v3.5h-3.5zM1435.3 723.3h3.5v3.5h-3.5zM1438.6 723.3h3.5v3.5h-3.5zM1451.7 723.3h3.5v3.5h-3.5zM1455.0 723.3h3.5v3.5h-3.5zM1461.6 723.3h3.5v3.5h-3.5zM1352.9 726.6h3.5v3.5h-3.5zM1402.3 726.6h3.5v3.5h-3.5zM1481.4 726.6h3.5v3.5h-3.5zM1316.6 729.9h3.5v3.5h-3.5zM1329.8 729.9h3.5v3.5h-3.5zM1382.5 729.9h3.5v3.5h-3.5zM1389.1 729.9h3.5v3.5h-3.5zM1303.4 733.2h3.5v3.5h-3.5zM1319.9 733.2h3.5v3.5h-3.5zM1346.3 733.2h3.5v3.5h-3.5zM1379.2 733.2h3.5v3.5h-3.5zM1399.0 733.2h3.5v3.5h-3.5zM1402.3 733.2h3.5v3.5h-3.5zM1395.7 736.5h3.5v3.5h-3.5zM1428.7 736.5h3.5v3.5h-3.5zM1435.3 736.5h3.5v3.5h-3.5zM1445.1 736.5h3.5v3.5h-3.5zM1458.3 736.5h3.5v3.5h-3.5zM1224.3 739.8h3.5v3.5h-3.5zM1270.4 739.8h3.5v3.5h-3.5zM1300.1 739.8h3.5v3.5h-3.5zM1326.5 739.8h3.5v3.5h-3.5zM1336.4 739.8h3.5v3.5h-3.5zM1339.7 739.8h3.5v3.5h-3.5zM1362.7 739.8h3.5v3.5h-3.5zM1405.6 739.8h3.5v3.5h-3.5zM1448.4 739.8h3.5v3.5h-3.5zM1458.3 739.8h3.5v3.5h-3.5zM1224.3 743.1h3.5v3.5h-3.5zM1263.9 743.1h3.5v3.5h-3.5zM1349.6 743.1h3.5v3.5h-3.5zM1399.0 743.1h3.5v3.5h-3.5zM1412.2 743.1h3.5v3.5h-3.5zM1435.3 743.1h3.5v3.5h-3.5zM1451.7 743.1h3.5v3.5h-3.5zM1293.5 746.4h3.5v3.5h-3.5zM1326.5 746.4h3.5v3.5h-3.5zM1385.8 746.4h3.5v3.5h-3.5zM1432.0 746.4h3.5v3.5h-3.5zM1438.6 746.4h3.5v3.5h-3.5zM1286.9 749.7h3.5v3.5h-3.5zM1310.0 749.7h3.5v3.5h-3.5zM1379.2 749.7h3.5v3.5h-3.5zM1395.7 749.7h3.5v3.5h-3.5zM1435.3 749.7h3.5v3.5h-3.5z" fill="#004800" filter="url(#gbl5)"/>
<path d="M1240.8 489.0h3.5v3.5h-3.5zM1250.7 489.0h3.5v3.5h-3.5zM1257.3 489.0h3.5v3.5h-3.5zM1267.1 489.0h3.5v3.5h-3.5zM1283.6 489.0h3.5v3.5h-3.5zM1286.9 489.0h3.5v3.5h-3.5zM1293.5 489.0h3.5v3.5h-3.5zM1329.8 489.0h3.5v3.5h-3.5zM1392.4 489.0h3.5v3.5h-3.5zM1399.0 489.0h3.5v3.5h-3.5zM1237.5 492.3h3.5v3.5h-3.5zM1244.1 492.3h3.5v3.5h-3.5zM1250.7 492.3h3.5v3.5h-3.5zM1267.1 492.3h3.5v3.5h-3.5zM1333.1 492.3h3.5v3.5h-3.5zM1343.0 492.3h3.5v3.5h-3.5zM1349.6 492.3h3.5v3.5h-3.5zM1372.6 492.3h3.5v3.5h-3.5zM1375.9 492.3h3.5v3.5h-3.5zM1389.1 492.3h3.5v3.5h-3.5zM1254.0 495.6h3.5v3.5h-3.5zM1263.9 495.6h3.5v3.5h-3.5zM1270.4 495.6h3.5v3.5h-3.5zM1273.7 495.6h3.5v3.5h-3.5zM1343.0 495.6h3.5v3.5h-3.5zM1260.6 498.9h3.5v3.5h-3.5zM1329.8 498.9h3.5v3.5h-3.5zM1336.4 498.9h3.5v3.5h-3.5zM1339.7 498.9h3.5v3.5h-3.5zM1244.1 502.2h3.5v3.5h-3.5zM1263.9 502.2h3.5v3.5h-3.5zM1323.2 502.2h3.5v3.5h-3.5zM1435.3 502.2h3.5v3.5h-3.5zM1257.3 505.5h3.5v3.5h-3.5zM1273.7 505.5h3.5v3.5h-3.5zM1319.9 505.5h3.5v3.5h-3.5zM1399.0 505.5h3.5v3.5h-3.5zM1402.3 505.5h3.5v3.5h-3.5zM1412.2 505.5h3.5v3.5h-3.5zM1471.5 505.5h3.5v3.5h-3.5zM1474.8 505.5h3.5v3.5h-3.5zM1240.8 508.8h3.5v3.5h-3.5zM1244.1 508.8h3.5v3.5h-3.5zM1263.9 508.8h3.5v3.5h-3.5zM1329.8 508.8h3.5v3.5h-3.5zM1395.7 508.8h3.5v3.5h-3.5zM1438.6 508.8h3.5v3.5h-3.5zM1478.1 508.8h3.5v3.5h-3.5zM1237.5 512.1h3.5v3.5h-3.5zM1254.0 512.1h3.5v3.5h-3.5zM1257.3 512.1h3.5v3.5h-3.5zM1260.6 512.1h3.5v3.5h-3.5zM1329.8 512.1h3.5v3.5h-3.5zM1339.7 512.1h3.5v3.5h-3.5zM1349.6 512.1h3.5v3.5h-3.5zM1408.9 512.1h3.5v3.5h-3.5zM1428.7 512.1h3.5v3.5h-3.5zM1438.6 512.1h3.5v3.5h-3.5zM1445.1 512.1h3.5v3.5h-3.5zM1254.0 515.4h3.5v3.5h-3.5zM1329.8 515.4h3.5v3.5h-3.5zM1346.3 515.4h3.5v3.5h-3.5zM1349.6 515.4h3.5v3.5h-3.5zM1402.3 515.4h3.5v3.5h-3.5zM1438.6 515.4h3.5v3.5h-3.5zM1240.8 518.7h3.5v3.5h-3.5zM1263.9 518.7h3.5v3.5h-3.5zM1267.1 518.7h3.5v3.5h-3.5zM1277.0 518.7h3.5v3.5h-3.5zM1352.9 518.7h3.5v3.5h-3.5zM1356.1 518.7h3.5v3.5h-3.5zM1412.2 518.7h3.5v3.5h-3.5zM1247.4 522.0h3.5v3.5h-3.5zM1356.1 522.0h3.5v3.5h-3.5zM1372.6 522.0h3.5v3.5h-3.5zM1375.9 522.0h3.5v3.5h-3.5zM1458.3 522.0h3.5v3.5h-3.5zM1303.4 525.3h3.5v3.5h-3.5zM1310.0 525.3h3.5v3.5h-3.5zM1375.9 525.3h3.5v3.5h-3.5zM1422.1 525.3h3.5v3.5h-3.5zM1448.4 528.6h3.5v3.5h-3.5zM1273.7 531.9h3.5v3.5h-3.5zM1296.8 531.9h3.5v3.5h-3.5zM1395.7 531.9h3.5v3.5h-3.5zM1399.0 531.9h3.5v3.5h-3.5zM1250.7 535.2h3.5v3.5h-3.5zM1260.6 535.2h3.5v3.5h-3.5zM1263.9 535.2h3.5v3.5h-3.5zM1296.8 535.2h3.5v3.5h-3.5zM1405.6 535.2h3.5v3.5h-3.5zM1445.1 535.2h3.5v3.5h-3.5zM1240.8 538.5h3.5v3.5h-3.5zM1250.7 538.5h3.5v3.5h-3.5zM1260.6 538.5h3.5v3.5h-3.5zM1263.9 538.5h3.5v3.5h-3.5zM1286.9 538.5h3.5v3.5h-3.5zM1303.4 538.5h3.5v3.5h-3.5zM1343.0 538.5h3.5v3.5h-3.5zM1399.0 538.5h3.5v3.5h-3.5zM1412.2 538.5h3.5v3.5h-3.5zM1451.7 538.5h3.5v3.5h-3.5zM1333.1 541.8h3.5v3.5h-3.5zM1405.6 541.8h3.5v3.5h-3.5zM1412.2 541.8h3.5v3.5h-3.5zM1448.4 541.8h3.5v3.5h-3.5zM1221.0 545.1h3.5v3.5h-3.5zM1300.1 545.1h3.5v3.5h-3.5zM1329.8 545.1h3.5v3.5h-3.5zM1484.7 545.1h3.5v3.5h-3.5zM1234.2 548.4h3.5v3.5h-3.5zM1237.5 548.4h3.5v3.5h-3.5zM1244.1 548.4h3.5v3.5h-3.5zM1260.6 548.4h3.5v3.5h-3.5zM1375.9 548.4h3.5v3.5h-3.5zM1428.7 548.4h3.5v3.5h-3.5zM1267.1 551.7h3.5v3.5h-3.5zM1389.1 551.7h3.5v3.5h-3.5zM1412.2 551.7h3.5v3.5h-3.5zM1425.4 551.7h3.5v3.5h-3.5zM1270.4 555.0h3.5v3.5h-3.5zM1273.7 555.0h3.5v3.5h-3.5zM1280.3 555.0h3.5v3.5h-3.5zM1303.4 555.0h3.5v3.5h-3.5zM1399.0 555.0h3.5v3.5h-3.5zM1435.3 555.0h3.5v3.5h-3.5zM1260.6 558.3h3.5v3.5h-3.5zM1300.1 558.3h3.5v3.5h-3.5zM1303.4 558.3h3.5v3.5h-3.5zM1333.1 558.3h3.5v3.5h-3.5zM1382.5 558.3h3.5v3.5h-3.5zM1389.1 558.3h3.5v3.5h-3.5zM1405.6 558.3h3.5v3.5h-3.5zM1432.0 558.3h3.5v3.5h-3.5zM1283.6 561.6h3.5v3.5h-3.5zM1346.3 561.6h3.5v3.5h-3.5zM1418.8 561.6h3.5v3.5h-3.5zM1277.0 564.9h3.5v3.5h-3.5zM1296.8 564.9h3.5v3.5h-3.5zM1402.3 564.9h3.5v3.5h-3.5zM1441.9 564.9h3.5v3.5h-3.5zM1221.0 568.2h3.5v3.5h-3.5zM1366.0 568.2h3.5v3.5h-3.5zM1369.3 568.2h3.5v3.5h-3.5zM1399.0 568.2h3.5v3.5h-3.5zM1428.7 568.2h3.5v3.5h-3.5zM1438.6 568.2h3.5v3.5h-3.5zM1484.7 568.2h3.5v3.5h-3.5zM1260.6 571.5h3.5v3.5h-3.5zM1346.3 571.5h3.5v3.5h-3.5zM1352.9 571.5h3.5v3.5h-3.5zM1254.0 574.8h3.5v3.5h-3.5zM1290.2 574.8h3.5v3.5h-3.5zM1333.1 574.8h3.5v3.5h-3.5zM1375.9 574.8h3.5v3.5h-3.5zM1221.0 578.1h3.5v3.5h-3.5zM1240.8 578.1h3.5v3.5h-3.5zM1247.4 578.1h3.5v3.5h-3.5zM1277.0 578.1h3.5v3.5h-3.5zM1290.2 578.1h3.5v3.5h-3.5zM1333.1 578.1h3.5v3.5h-3.5zM1402.3 578.1h3.5v3.5h-3.5zM1408.9 578.1h3.5v3.5h-3.5zM1240.8 581.4h3.5v3.5h-3.5zM1244.1 581.4h3.5v3.5h-3.5zM1286.9 581.4h3.5v3.5h-3.5zM1333.1 581.4h3.5v3.5h-3.5zM1379.2 581.4h3.5v3.5h-3.5zM1382.5 581.4h3.5v3.5h-3.5zM1405.6 581.4h3.5v3.5h-3.5zM1283.6 584.7h3.5v3.5h-3.5zM1303.4 584.7h3.5v3.5h-3.5zM1319.9 584.7h3.5v3.5h-3.5zM1329.8 584.7h3.5v3.5h-3.5zM1389.1 584.7h3.5v3.5h-3.5zM1408.9 584.7h3.5v3.5h-3.5zM1412.2 584.7h3.5v3.5h-3.5zM1441.9 584.7h3.5v3.5h-3.5zM1254.0 588.0h3.5v3.5h-3.5zM1286.9 588.0h3.5v3.5h-3.5zM1290.2 588.0h3.5v3.5h-3.5zM1329.8 588.0h3.5v3.5h-3.5zM1336.4 588.0h3.5v3.5h-3.5zM1412.2 588.0h3.5v3.5h-3.5zM1415.5 588.0h3.5v3.5h-3.5zM1481.4 588.0h3.5v3.5h-3.5zM1484.7 588.0h3.5v3.5h-3.5zM1227.6 591.3h3.5v3.5h-3.5zM1283.6 591.3h3.5v3.5h-3.5zM1300.1 591.3h3.5v3.5h-3.5zM1326.5 591.3h3.5v3.5h-3.5zM1412.2 591.3h3.5v3.5h-3.5zM1422.1 591.3h3.5v3.5h-3.5zM1425.4 591.3h3.5v3.5h-3.5zM1263.9 594.6h3.5v3.5h-3.5zM1267.1 594.6h3.5v3.5h-3.5zM1326.5 594.6h3.5v3.5h-3.5zM1329.8 594.6h3.5v3.5h-3.5zM1346.3 594.6h3.5v3.5h-3.5zM1418.8 594.6h3.5v3.5h-3.5zM1422.1 594.6h3.5v3.5h-3.5zM1435.3 594.6h3.5v3.5h-3.5zM1455.0 594.6h3.5v3.5h-3.5zM1461.6 594.6h3.5v3.5h-3.5zM1224.3 597.9h3.5v3.5h-3.5zM1234.2 597.9h3.5v3.5h-3.5zM1237.5 597.9h3.5v3.5h-3.5zM1247.4 597.9h3.5v3.5h-3.5zM1329.8 597.9h3.5v3.5h-3.5zM1435.3 597.9h3.5v3.5h-3.5zM1224.3 601.2h3.5v3.5h-3.5zM1237.5 601.2h3.5v3.5h-3.5zM1247.4 601.2h3.5v3.5h-3.5zM1254.0 601.2h3.5v3.5h-3.5zM1300.1 601.2h3.5v3.5h-3.5zM1405.6 601.2h3.5v3.5h-3.5zM1451.7 601.2h3.5v3.5h-3.5zM1455.0 601.2h3.5v3.5h-3.5zM1234.2 604.5h3.5v3.5h-3.5zM1250.7 604.5h3.5v3.5h-3.5zM1283.6 604.5h3.5v3.5h-3.5zM1343.0 604.5h3.5v3.5h-3.5zM1408.9 604.5h3.5v3.5h-3.5zM1425.4 604.5h3.5v3.5h-3.5zM1451.7 604.5h3.5v3.5h-3.5zM1221.0 607.8h3.5v3.5h-3.5zM1237.5 607.8h3.5v3.5h-3.5zM1359.4 607.8h3.5v3.5h-3.5zM1392.4 607.8h3.5v3.5h-3.5zM1412.2 607.8h3.5v3.5h-3.5zM1422.1 607.8h3.5v3.5h-3.5zM1455.0 607.8h3.5v3.5h-3.5zM1458.3 607.8h3.5v3.5h-3.5zM1484.7 607.8h3.5v3.5h-3.5zM1237.5 611.1h3.5v3.5h-3.5zM1250.7 611.1h3.5v3.5h-3.5zM1283.6 611.1h3.5v3.5h-3.5zM1293.5 611.1h3.5v3.5h-3.5zM1389.1 611.1h3.5v3.5h-3.5zM1425.4 611.1h3.5v3.5h-3.5zM1451.7 611.1h3.5v3.5h-3.5zM1484.7 611.1h3.5v3.5h-3.5zM1224.3 614.4h3.5v3.5h-3.5zM1244.1 614.4h3.5v3.5h-3.5zM1247.4 614.4h3.5v3.5h-3.5zM1333.1 614.4h3.5v3.5h-3.5zM1336.4 614.4h3.5v3.5h-3.5zM1349.6 614.4h3.5v3.5h-3.5zM1425.4 614.4h3.5v3.5h-3.5zM1277.0 617.7h3.5v3.5h-3.5zM1333.1 617.7h3.5v3.5h-3.5zM1336.4 617.7h3.5v3.5h-3.5zM1366.0 617.7h3.5v3.5h-3.5zM1395.7 617.7h3.5v3.5h-3.5zM1408.9 617.7h3.5v3.5h-3.5zM1412.2 617.7h3.5v3.5h-3.5zM1438.6 617.7h3.5v3.5h-3.5zM1474.8 617.7h3.5v3.5h-3.5zM1478.1 617.7h3.5v3.5h-3.5zM1484.7 617.7h3.5v3.5h-3.5zM1234.2 621.0h3.5v3.5h-3.5zM1296.8 621.0h3.5v3.5h-3.5zM1310.0 621.0h3.5v3.5h-3.5zM1339.7 621.0h3.5v3.5h-3.5zM1346.3 621.0h3.5v3.5h-3.5zM1349.6 621.0h3.5v3.5h-3.5zM1382.5 621.0h3.5v3.5h-3.5zM1405.6 621.0h3.5v3.5h-3.5zM1415.5 621.0h3.5v3.5h-3.5zM1435.3 621.0h3.5v3.5h-3.5zM1455.0 621.0h3.5v3.5h-3.5zM1474.8 621.0h3.5v3.5h-3.5zM1227.6 624.3h3.5v3.5h-3.5zM1300.1 624.3h3.5v3.5h-3.5zM1349.6 624.3h3.5v3.5h-3.5zM1385.8 624.3h3.5v3.5h-3.5zM1392.4 624.3h3.5v3.5h-3.5zM1415.5 624.3h3.5v3.5h-3.5zM1418.8 624.3h3.5v3.5h-3.5zM1448.4 624.3h3.5v3.5h-3.5zM1471.5 624.3h3.5v3.5h-3.5zM1273.7 627.6h3.5v3.5h-3.5zM1277.0 627.6h3.5v3.5h-3.5zM1300.1 627.6h3.5v3.5h-3.5zM1389.1 627.6h3.5v3.5h-3.5zM1395.7 627.6h3.5v3.5h-3.5zM1399.0 627.6h3.5v3.5h-3.5zM1415.5 627.6h3.5v3.5h-3.5zM1422.1 627.6h3.5v3.5h-3.5zM1445.1 627.6h3.5v3.5h-3.5zM1455.0 627.6h3.5v3.5h-3.5zM1458.3 627.6h3.5v3.5h-3.5zM1478.1 627.6h3.5v3.5h-3.5zM1481.4 627.6h3.5v3.5h-3.5zM1260.6 630.9h3.5v3.5h-3.5zM1389.1 630.9h3.5v3.5h-3.5zM1392.4 630.9h3.5v3.5h-3.5zM1468.2 630.9h3.5v3.5h-3.5zM1257.3 634.2h3.5v3.5h-3.5zM1270.4 634.2h3.5v3.5h-3.5zM1300.1 634.2h3.5v3.5h-3.5zM1310.0 634.2h3.5v3.5h-3.5zM1412.2 634.2h3.5v3.5h-3.5zM1418.8 634.2h3.5v3.5h-3.5zM1484.7 634.2h3.5v3.5h-3.5zM1250.7 637.5h3.5v3.5h-3.5zM1293.5 637.5h3.5v3.5h-3.5zM1296.8 637.5h3.5v3.5h-3.5zM1329.8 637.5h3.5v3.5h-3.5zM1339.7 637.5h3.5v3.5h-3.5zM1415.5 637.5h3.5v3.5h-3.5zM1422.1 637.5h3.5v3.5h-3.5zM1425.4 637.5h3.5v3.5h-3.5zM1474.8 637.5h3.5v3.5h-3.5zM1478.1 637.5h3.5v3.5h-3.5zM1484.7 637.5h3.5v3.5h-3.5zM1247.4 640.8h3.5v3.5h-3.5zM1280.3 640.8h3.5v3.5h-3.5zM1303.4 640.8h3.5v3.5h-3.5zM1310.0 640.8h3.5v3.5h-3.5zM1323.2 640.8h3.5v3.5h-3.5zM1372.6 640.8h3.5v3.5h-3.5zM1382.5 640.8h3.5v3.5h-3.5zM1385.8 640.8h3.5v3.5h-3.5zM1247.4 644.1h3.5v3.5h-3.5zM1263.9 644.1h3.5v3.5h-3.5zM1306.7 644.1h3.5v3.5h-3.5zM1316.6 644.1h3.5v3.5h-3.5zM1323.2 644.1h3.5v3.5h-3.5zM1435.3 644.1h3.5v3.5h-3.5zM1250.7 647.4h3.5v3.5h-3.5zM1263.9 647.4h3.5v3.5h-3.5zM1277.0 647.4h3.5v3.5h-3.5zM1303.4 647.4h3.5v3.5h-3.5zM1352.9 647.4h3.5v3.5h-3.5zM1379.2 647.4h3.5v3.5h-3.5zM1382.5 647.4h3.5v3.5h-3.5zM1280.3 650.7h3.5v3.5h-3.5zM1310.0 650.7h3.5v3.5h-3.5zM1339.7 650.7h3.5v3.5h-3.5zM1375.9 650.7h3.5v3.5h-3.5zM1422.1 650.7h3.5v3.5h-3.5zM1283.6 654.0h3.5v3.5h-3.5zM1343.0 654.0h3.5v3.5h-3.5zM1375.9 654.0h3.5v3.5h-3.5zM1445.1 654.0h3.5v3.5h-3.5zM1481.4 654.0h3.5v3.5h-3.5zM1270.4 657.3h3.5v3.5h-3.5zM1316.6 657.3h3.5v3.5h-3.5zM1333.1 657.3h3.5v3.5h-3.5zM1359.4 657.3h3.5v3.5h-3.5zM1366.0 657.3h3.5v3.5h-3.5zM1399.0 657.3h3.5v3.5h-3.5zM1422.1 657.3h3.5v3.5h-3.5zM1441.9 657.3h3.5v3.5h-3.5zM1478.1 657.3h3.5v3.5h-3.5zM1481.4 657.3h3.5v3.5h-3.5zM1254.0 660.6h3.5v3.5h-3.5zM1286.9 660.6h3.5v3.5h-3.5zM1296.8 660.6h3.5v3.5h-3.5zM1339.7 660.6h3.5v3.5h-3.5zM1405.6 660.6h3.5v3.5h-3.5zM1425.4 660.6h3.5v3.5h-3.5zM1474.8 660.6h3.5v3.5h-3.5zM1254.0 663.9h3.5v3.5h-3.5zM1323.2 663.9h3.5v3.5h-3.5zM1343.0 663.9h3.5v3.5h-3.5zM1471.5 663.9h3.5v3.5h-3.5zM1478.1 663.9h3.5v3.5h-3.5zM1481.4 663.9h3.5v3.5h-3.5zM1484.7 663.9h3.5v3.5h-3.5zM1395.7 667.2h3.5v3.5h-3.5zM1408.9 667.2h3.5v3.5h-3.5zM1461.6 667.2h3.5v3.5h-3.5zM1471.5 667.2h3.5v3.5h-3.5zM1250.7 670.5h3.5v3.5h-3.5zM1300.1 670.5h3.5v3.5h-3.5zM1306.7 670.5h3.5v3.5h-3.5zM1392.4 670.5h3.5v3.5h-3.5zM1399.0 670.5h3.5v3.5h-3.5zM1412.2 670.5h3.5v3.5h-3.5zM1422.1 670.5h3.5v3.5h-3.5zM1432.0 670.5h3.5v3.5h-3.5zM1441.9 670.5h3.5v3.5h-3.5zM1267.1 673.8h3.5v3.5h-3.5zM1270.4 673.8h3.5v3.5h-3.5zM1224.3 677.1h3.5v3.5h-3.5zM1257.3 677.1h3.5v3.5h-3.5zM1366.0 677.1h3.5v3.5h-3.5zM1389.1 677.1h3.5v3.5h-3.5zM1418.8 677.1h3.5v3.5h-3.5zM1422.1 677.1h3.5v3.5h-3.5zM1448.4 677.1h3.5v3.5h-3.5zM1270.4 680.4h3.5v3.5h-3.5zM1273.7 680.4h3.5v3.5h-3.5zM1280.3 680.4h3.5v3.5h-3.5zM1293.5 680.4h3.5v3.5h-3.5zM1392.4 680.4h3.5v3.5h-3.5zM1484.7 680.4h3.5v3.5h-3.5zM1280.3 683.7h3.5v3.5h-3.5zM1290.2 683.7h3.5v3.5h-3.5zM1313.3 683.7h3.5v3.5h-3.5zM1293.5 687.0h3.5v3.5h-3.5zM1326.5 687.0h3.5v3.5h-3.5zM1329.8 687.0h3.5v3.5h-3.5zM1333.1 687.0h3.5v3.5h-3.5zM1412.2 687.0h3.5v3.5h-3.5zM1428.7 687.0h3.5v3.5h-3.5zM1448.4 687.0h3.5v3.5h-3.5zM1224.3 690.3h3.5v3.5h-3.5zM1418.8 690.3h3.5v3.5h-3.5zM1435.3 690.3h3.5v3.5h-3.5zM1234.2 693.6h3.5v3.5h-3.5zM1237.5 693.6h3.5v3.5h-3.5zM1283.6 693.6h3.5v3.5h-3.5zM1296.8 693.6h3.5v3.5h-3.5zM1303.4 693.6h3.5v3.5h-3.5zM1306.7 693.6h3.5v3.5h-3.5zM1359.4 693.6h3.5v3.5h-3.5zM1464.9 693.6h3.5v3.5h-3.5zM1369.3 696.9h3.5v3.5h-3.5zM1346.3 703.5h3.5v3.5h-3.5zM1352.9 703.5h3.5v3.5h-3.5zM1372.6 703.5h3.5v3.5h-3.5zM1382.5 703.5h3.5v3.5h-3.5zM1474.8 703.5h3.5v3.5h-3.5zM1405.6 706.8h3.5v3.5h-3.5zM1267.1 710.1h3.5v3.5h-3.5zM1352.9 710.1h3.5v3.5h-3.5zM1356.1 710.1h3.5v3.5h-3.5zM1375.9 710.1h3.5v3.5h-3.5zM1385.8 710.1h3.5v3.5h-3.5zM1418.8 710.1h3.5v3.5h-3.5zM1458.3 710.1h3.5v3.5h-3.5zM1468.2 710.1h3.5v3.5h-3.5zM1293.5 713.4h3.5v3.5h-3.5zM1359.4 713.4h3.5v3.5h-3.5zM1389.1 713.4h3.5v3.5h-3.5zM1478.1 713.4h3.5v3.5h-3.5zM1484.7 713.4h3.5v3.5h-3.5zM1244.1 716.7h3.5v3.5h-3.5zM1343.0 716.7h3.5v3.5h-3.5zM1352.9 716.7h3.5v3.5h-3.5zM1362.7 716.7h3.5v3.5h-3.5zM1455.0 716.7h3.5v3.5h-3.5zM1484.7 716.7h3.5v3.5h-3.5zM1286.9 720.0h3.5v3.5h-3.5zM1293.5 720.0h3.5v3.5h-3.5zM1336.4 720.0h3.5v3.5h-3.5zM1339.7 720.0h3.5v3.5h-3.5zM1359.4 720.0h3.5v3.5h-3.5zM1379.2 720.0h3.5v3.5h-3.5zM1418.8 720.0h3.5v3.5h-3.5zM1451.7 720.0h3.5v3.5h-3.5zM1458.3 720.0h3.5v3.5h-3.5zM1461.6 720.0h3.5v3.5h-3.5zM1224.3 723.3h3.5v3.5h-3.5zM1280.3 723.3h3.5v3.5h-3.5zM1326.5 723.3h3.5v3.5h-3.5zM1329.8 723.3h3.5v3.5h-3.5zM1333.1 723.3h3.5v3.5h-3.5zM1382.5 723.3h3.5v3.5h-3.5zM1441.9 723.3h3.5v3.5h-3.5zM1458.3 723.3h3.5v3.5h-3.5zM1464.9 723.3h3.5v3.5h-3.5zM1471.5 723.3h3.5v3.5h-3.5zM1221.0 726.6h3.5v3.5h-3.5zM1224.3 726.6h3.5v3.5h-3.5zM1313.3 726.6h3.5v3.5h-3.5zM1329.8 726.6h3.5v3.5h-3.5zM1366.0 726.6h3.5v3.5h-3.5zM1369.3 726.6h3.5v3.5h-3.5zM1385.8 726.6h3.5v3.5h-3.5zM1389.1 726.6h3.5v3.5h-3.5zM1432.0 726.6h3.5v3.5h-3.5zM1435.3 726.6h3.5v3.5h-3.5zM1451.7 726.6h3.5v3.5h-3.5zM1458.3 726.6h3.5v3.5h-3.5zM1468.2 726.6h3.5v3.5h-3.5zM1474.8 726.6h3.5v3.5h-3.5zM1399.0 729.9h3.5v3.5h-3.5zM1448.4 729.9h3.5v3.5h-3.5zM1455.0 729.9h3.5v3.5h-3.5zM1464.9 729.9h3.5v3.5h-3.5zM1240.8 733.2h3.5v3.5h-3.5zM1244.1 733.2h3.5v3.5h-3.5zM1247.4 733.2h3.5v3.5h-3.5zM1428.7 733.2h3.5v3.5h-3.5zM1445.1 733.2h3.5v3.5h-3.5zM1244.1 736.5h3.5v3.5h-3.5zM1300.1 736.5h3.5v3.5h-3.5zM1333.1 736.5h3.5v3.5h-3.5zM1339.7 736.5h3.5v3.5h-3.5zM1375.9 736.5h3.5v3.5h-3.5zM1273.7 739.8h3.5v3.5h-3.5zM1290.2 739.8h3.5v3.5h-3.5zM1356.1 739.8h3.5v3.5h-3.5zM1382.5 739.8h3.5v3.5h-3.5zM1402.3 739.8h3.5v3.5h-3.5zM1468.2 739.8h3.5v3.5h-3.5zM1230.9 743.1h3.5v3.5h-3.5zM1240.8 743.1h3.5v3.5h-3.5zM1244.1 743.1h3.5v3.5h-3.5zM1273.7 743.1h3.5v3.5h-3.5zM1280.3 743.1h3.5v3.5h-3.5zM1402.3 743.1h3.5v3.5h-3.5zM1432.0 743.1h3.5v3.5h-3.5zM1468.2 743.1h3.5v3.5h-3.5zM1481.4 743.1h3.5v3.5h-3.5zM1247.4 746.4h3.5v3.5h-3.5zM1263.9 746.4h3.5v3.5h-3.5zM1280.3 746.4h3.5v3.5h-3.5zM1283.6 746.4h3.5v3.5h-3.5zM1290.2 746.4h3.5v3.5h-3.5zM1356.1 746.4h3.5v3.5h-3.5zM1379.2 746.4h3.5v3.5h-3.5zM1224.3 749.7h3.5v3.5h-3.5zM1250.7 749.7h3.5v3.5h-3.5zM1254.0 749.7h3.5v3.5h-3.5zM1267.1 749.7h3.5v3.5h-3.5zM1296.8 749.7h3.5v3.5h-3.5zM1329.8 749.7h3.5v3.5h-3.5zM1346.3 749.7h3.5v3.5h-3.5zM1366.0 749.7h3.5v3.5h-3.5zM1392.4 749.7h3.5v3.5h-3.5zM1399.0 749.7h3.5v3.5h-3.5z" fill="#008200" filter="url(#gbl5)"/>
<path d="M1234.2 489.0h3.5v3.5h-3.5zM1247.4 489.0h3.5v3.5h-3.5zM1352.9 489.0h3.5v3.5h-3.5zM1366.0 489.0h3.5v3.5h-3.5zM1385.8 489.0h3.5v3.5h-3.5zM1402.3 489.0h3.5v3.5h-3.5zM1405.6 489.0h3.5v3.5h-3.5zM1408.9 489.0h3.5v3.5h-3.5zM1329.8 492.3h3.5v3.5h-3.5zM1399.0 492.3h3.5v3.5h-3.5zM1244.1 495.6h3.5v3.5h-3.5zM1250.7 495.6h3.5v3.5h-3.5zM1333.1 495.6h3.5v3.5h-3.5zM1336.4 495.6h3.5v3.5h-3.5zM1349.6 495.6h3.5v3.5h-3.5zM1244.1 498.9h3.5v3.5h-3.5zM1333.1 498.9h3.5v3.5h-3.5zM1385.8 498.9h3.5v3.5h-3.5zM1389.1 498.9h3.5v3.5h-3.5zM1395.7 498.9h3.5v3.5h-3.5zM1247.4 502.2h3.5v3.5h-3.5zM1392.4 502.2h3.5v3.5h-3.5zM1395.7 502.2h3.5v3.5h-3.5zM1399.0 502.2h3.5v3.5h-3.5zM1267.1 505.5h3.5v3.5h-3.5zM1270.4 505.5h3.5v3.5h-3.5zM1339.7 505.5h3.5v3.5h-3.5zM1435.3 505.5h3.5v3.5h-3.5zM1267.1 508.8h3.5v3.5h-3.5zM1399.0 508.8h3.5v3.5h-3.5zM1240.8 512.1h3.5v3.5h-3.5zM1412.2 512.1h3.5v3.5h-3.5zM1247.4 515.4h3.5v3.5h-3.5zM1257.3 515.4h3.5v3.5h-3.5zM1343.0 515.4h3.5v3.5h-3.5zM1412.2 515.4h3.5v3.5h-3.5zM1445.1 515.4h3.5v3.5h-3.5zM1247.4 518.7h3.5v3.5h-3.5zM1432.0 518.7h3.5v3.5h-3.5zM1273.7 522.0h3.5v3.5h-3.5zM1260.6 525.3h3.5v3.5h-3.5zM1267.1 525.3h3.5v3.5h-3.5zM1418.8 525.3h3.5v3.5h-3.5zM1451.7 525.3h3.5v3.5h-3.5zM1455.0 525.3h3.5v3.5h-3.5zM1270.4 528.6h3.5v3.5h-3.5zM1422.1 528.6h3.5v3.5h-3.5zM1441.9 528.6h3.5v3.5h-3.5zM1270.4 531.9h3.5v3.5h-3.5zM1418.8 531.9h3.5v3.5h-3.5zM1441.9 531.9h3.5v3.5h-3.5zM1448.4 531.9h3.5v3.5h-3.5zM1290.2 535.2h3.5v3.5h-3.5zM1293.5 535.2h3.5v3.5h-3.5zM1300.1 541.8h3.5v3.5h-3.5zM1392.4 541.8h3.5v3.5h-3.5zM1230.9 545.1h3.5v3.5h-3.5zM1234.2 545.1h3.5v3.5h-3.5zM1303.4 545.1h3.5v3.5h-3.5zM1333.1 545.1h3.5v3.5h-3.5zM1412.2 545.1h3.5v3.5h-3.5zM1329.8 548.4h3.5v3.5h-3.5zM1432.0 548.4h3.5v3.5h-3.5zM1435.3 548.4h3.5v3.5h-3.5zM1432.0 551.7h3.5v3.5h-3.5zM1435.3 551.7h3.5v3.5h-3.5zM1267.1 555.0h3.5v3.5h-3.5zM1412.2 555.0h3.5v3.5h-3.5zM1415.5 555.0h3.5v3.5h-3.5zM1263.9 558.3h3.5v3.5h-3.5zM1273.7 558.3h3.5v3.5h-3.5zM1277.0 558.3h3.5v3.5h-3.5zM1280.3 558.3h3.5v3.5h-3.5zM1283.6 558.3h3.5v3.5h-3.5zM1339.7 558.3h3.5v3.5h-3.5zM1346.3 558.3h3.5v3.5h-3.5zM1379.2 558.3h3.5v3.5h-3.5zM1422.1 558.3h3.5v3.5h-3.5zM1260.6 561.6h3.5v3.5h-3.5zM1270.4 561.6h3.5v3.5h-3.5zM1343.0 561.6h3.5v3.5h-3.5zM1293.5 564.9h3.5v3.5h-3.5zM1349.6 564.9h3.5v3.5h-3.5zM1408.9 564.9h3.5v3.5h-3.5zM1293.5 568.2h3.5v3.5h-3.5zM1336.4 568.2h3.5v3.5h-3.5zM1402.3 568.2h3.5v3.5h-3.5zM1343.0 571.5h3.5v3.5h-3.5zM1372.6 571.5h3.5v3.5h-3.5zM1375.9 571.5h3.5v3.5h-3.5zM1369.3 574.8h3.5v3.5h-3.5zM1339.7 578.1h3.5v3.5h-3.5zM1372.6 578.1h3.5v3.5h-3.5zM1405.6 578.1h3.5v3.5h-3.5zM1234.2 581.4h3.5v3.5h-3.5zM1303.4 581.4h3.5v3.5h-3.5zM1369.3 581.4h3.5v3.5h-3.5zM1372.6 581.4h3.5v3.5h-3.5zM1234.2 584.7h3.5v3.5h-3.5zM1244.1 584.7h3.5v3.5h-3.5zM1296.8 584.7h3.5v3.5h-3.5zM1339.7 584.7h3.5v3.5h-3.5zM1385.8 584.7h3.5v3.5h-3.5zM1227.6 588.0h3.5v3.5h-3.5zM1230.9 588.0h3.5v3.5h-3.5zM1250.7 588.0h3.5v3.5h-3.5zM1300.1 588.0h3.5v3.5h-3.5zM1339.7 588.0h3.5v3.5h-3.5zM1385.8 588.0h3.5v3.5h-3.5zM1389.1 588.0h3.5v3.5h-3.5zM1405.6 588.0h3.5v3.5h-3.5zM1408.9 588.0h3.5v3.5h-3.5zM1237.5 591.3h3.5v3.5h-3.5zM1286.9 591.3h3.5v3.5h-3.5zM1432.0 591.3h3.5v3.5h-3.5zM1484.7 591.3h3.5v3.5h-3.5zM1237.5 594.6h3.5v3.5h-3.5zM1244.1 594.6h3.5v3.5h-3.5zM1290.2 594.6h3.5v3.5h-3.5zM1402.3 594.6h3.5v3.5h-3.5zM1221.0 597.9h3.5v3.5h-3.5zM1227.6 597.9h3.5v3.5h-3.5zM1240.8 597.9h3.5v3.5h-3.5zM1283.6 597.9h3.5v3.5h-3.5zM1296.8 597.9h3.5v3.5h-3.5zM1339.7 597.9h3.5v3.5h-3.5zM1343.0 597.9h3.5v3.5h-3.5zM1422.1 597.9h3.5v3.5h-3.5zM1221.0 601.2h3.5v3.5h-3.5zM1230.9 601.2h3.5v3.5h-3.5zM1283.6 601.2h3.5v3.5h-3.5zM1286.9 601.2h3.5v3.5h-3.5zM1336.4 601.2h3.5v3.5h-3.5zM1339.7 601.2h3.5v3.5h-3.5zM1224.3 604.5h3.5v3.5h-3.5zM1290.2 604.5h3.5v3.5h-3.5zM1346.3 604.5h3.5v3.5h-3.5zM1432.0 604.5h3.5v3.5h-3.5zM1247.4 607.8h3.5v3.5h-3.5zM1286.9 607.8h3.5v3.5h-3.5zM1290.2 607.8h3.5v3.5h-3.5zM1293.5 607.8h3.5v3.5h-3.5zM1402.3 607.8h3.5v3.5h-3.5zM1405.6 607.8h3.5v3.5h-3.5zM1234.2 611.1h3.5v3.5h-3.5zM1244.1 611.1h3.5v3.5h-3.5zM1247.4 611.1h3.5v3.5h-3.5zM1346.3 611.1h3.5v3.5h-3.5zM1359.4 611.1h3.5v3.5h-3.5zM1395.7 611.1h3.5v3.5h-3.5zM1399.0 611.1h3.5v3.5h-3.5zM1227.6 614.4h3.5v3.5h-3.5zM1277.0 614.4h3.5v3.5h-3.5zM1280.3 614.4h3.5v3.5h-3.5zM1343.0 614.4h3.5v3.5h-3.5zM1402.3 614.4h3.5v3.5h-3.5zM1478.1 614.4h3.5v3.5h-3.5zM1237.5 617.7h3.5v3.5h-3.5zM1280.3 617.7h3.5v3.5h-3.5zM1286.9 617.7h3.5v3.5h-3.5zM1293.5 617.7h3.5v3.5h-3.5zM1392.4 617.7h3.5v3.5h-3.5zM1369.3 621.0h3.5v3.5h-3.5zM1379.2 621.0h3.5v3.5h-3.5zM1385.8 621.0h3.5v3.5h-3.5zM1389.1 621.0h3.5v3.5h-3.5zM1402.3 621.0h3.5v3.5h-3.5zM1412.2 621.0h3.5v3.5h-3.5zM1418.8 621.0h3.5v3.5h-3.5zM1481.4 621.0h3.5v3.5h-3.5zM1221.0 624.3h3.5v3.5h-3.5zM1286.9 624.3h3.5v3.5h-3.5zM1290.2 624.3h3.5v3.5h-3.5zM1303.4 624.3h3.5v3.5h-3.5zM1306.7 624.3h3.5v3.5h-3.5zM1445.1 624.3h3.5v3.5h-3.5zM1481.4 624.3h3.5v3.5h-3.5zM1224.3 627.6h3.5v3.5h-3.5zM1418.8 627.6h3.5v3.5h-3.5zM1471.5 627.6h3.5v3.5h-3.5zM1484.7 627.6h3.5v3.5h-3.5zM1224.3 630.9h3.5v3.5h-3.5zM1273.7 630.9h3.5v3.5h-3.5zM1395.7 630.9h3.5v3.5h-3.5zM1478.1 630.9h3.5v3.5h-3.5zM1260.6 634.2h3.5v3.5h-3.5zM1313.3 634.2h3.5v3.5h-3.5zM1329.8 634.2h3.5v3.5h-3.5zM1359.4 634.2h3.5v3.5h-3.5zM1260.6 637.5h3.5v3.5h-3.5zM1263.9 637.5h3.5v3.5h-3.5zM1300.1 637.5h3.5v3.5h-3.5zM1283.6 640.8h3.5v3.5h-3.5zM1300.1 640.8h3.5v3.5h-3.5zM1326.5 640.8h3.5v3.5h-3.5zM1484.7 640.8h3.5v3.5h-3.5zM1300.1 644.1h3.5v3.5h-3.5zM1319.9 644.1h3.5v3.5h-3.5zM1329.8 644.1h3.5v3.5h-3.5zM1372.6 644.1h3.5v3.5h-3.5zM1481.4 644.1h3.5v3.5h-3.5zM1484.7 644.1h3.5v3.5h-3.5zM1300.1 647.4h3.5v3.5h-3.5zM1319.9 647.4h3.5v3.5h-3.5zM1336.4 647.4h3.5v3.5h-3.5zM1372.6 647.4h3.5v3.5h-3.5zM1481.4 647.4h3.5v3.5h-3.5zM1349.6 650.7h3.5v3.5h-3.5zM1352.9 650.7h3.5v3.5h-3.5zM1362.7 650.7h3.5v3.5h-3.5zM1372.6 650.7h3.5v3.5h-3.5zM1432.0 650.7h3.5v3.5h-3.5zM1326.5 654.0h3.5v3.5h-3.5zM1362.7 654.0h3.5v3.5h-3.5zM1366.0 654.0h3.5v3.5h-3.5zM1379.2 654.0h3.5v3.5h-3.5zM1283.6 657.3h3.5v3.5h-3.5zM1303.4 657.3h3.5v3.5h-3.5zM1306.7 657.3h3.5v3.5h-3.5zM1362.7 657.3h3.5v3.5h-3.5zM1382.5 657.3h3.5v3.5h-3.5zM1438.6 657.3h3.5v3.5h-3.5zM1313.3 660.6h3.5v3.5h-3.5zM1422.1 660.6h3.5v3.5h-3.5zM1438.6 660.6h3.5v3.5h-3.5zM1478.1 660.6h3.5v3.5h-3.5zM1481.4 660.6h3.5v3.5h-3.5zM1270.4 663.9h3.5v3.5h-3.5zM1339.7 663.9h3.5v3.5h-3.5zM1267.1 667.2h3.5v3.5h-3.5zM1270.4 667.2h3.5v3.5h-3.5zM1323.2 667.2h3.5v3.5h-3.5zM1326.5 667.2h3.5v3.5h-3.5zM1412.2 667.2h3.5v3.5h-3.5zM1451.7 667.2h3.5v3.5h-3.5zM1319.9 673.8h3.5v3.5h-3.5zM1399.0 673.8h3.5v3.5h-3.5zM1402.3 673.8h3.5v3.5h-3.5zM1412.2 673.8h3.5v3.5h-3.5zM1445.1 673.8h3.5v3.5h-3.5zM1310.0 677.1h3.5v3.5h-3.5zM1336.4 677.1h3.5v3.5h-3.5zM1408.9 677.1h3.5v3.5h-3.5zM1415.5 677.1h3.5v3.5h-3.5zM1445.1 677.1h3.5v3.5h-3.5zM1224.3 680.4h3.5v3.5h-3.5zM1346.3 680.4h3.5v3.5h-3.5zM1310.0 683.7h3.5v3.5h-3.5zM1422.1 683.7h3.5v3.5h-3.5zM1352.9 687.0h3.5v3.5h-3.5zM1359.4 687.0h3.5v3.5h-3.5zM1379.2 687.0h3.5v3.5h-3.5zM1422.1 687.0h3.5v3.5h-3.5zM1425.4 687.0h3.5v3.5h-3.5zM1293.5 690.3h3.5v3.5h-3.5zM1300.1 690.3h3.5v3.5h-3.5zM1303.4 690.3h3.5v3.5h-3.5zM1349.6 690.3h3.5v3.5h-3.5zM1379.2 690.3h3.5v3.5h-3.5zM1412.2 690.3h3.5v3.5h-3.5zM1415.5 690.3h3.5v3.5h-3.5zM1422.1 690.3h3.5v3.5h-3.5zM1280.3 693.6h3.5v3.5h-3.5zM1422.1 693.6h3.5v3.5h-3.5zM1484.7 693.6h3.5v3.5h-3.5zM1481.4 696.9h3.5v3.5h-3.5zM1474.8 700.2h3.5v3.5h-3.5zM1481.4 700.2h3.5v3.5h-3.5zM1362.7 703.5h3.5v3.5h-3.5zM1366.0 703.5h3.5v3.5h-3.5zM1408.9 703.5h3.5v3.5h-3.5zM1412.2 703.5h3.5v3.5h-3.5zM1362.7 710.1h3.5v3.5h-3.5zM1399.0 710.1h3.5v3.5h-3.5zM1402.3 710.1h3.5v3.5h-3.5zM1461.6 710.1h3.5v3.5h-3.5zM1474.8 710.1h3.5v3.5h-3.5zM1481.4 710.1h3.5v3.5h-3.5zM1484.7 710.1h3.5v3.5h-3.5zM1263.9 713.4h3.5v3.5h-3.5zM1267.1 713.4h3.5v3.5h-3.5zM1375.9 713.4h3.5v3.5h-3.5zM1379.2 713.4h3.5v3.5h-3.5zM1402.3 713.4h3.5v3.5h-3.5zM1270.4 716.7h3.5v3.5h-3.5zM1293.5 716.7h3.5v3.5h-3.5zM1339.7 716.7h3.5v3.5h-3.5zM1458.3 716.7h3.5v3.5h-3.5zM1263.9 720.0h3.5v3.5h-3.5zM1323.2 720.0h3.5v3.5h-3.5zM1326.5 720.0h3.5v3.5h-3.5zM1352.9 720.0h3.5v3.5h-3.5zM1372.6 720.0h3.5v3.5h-3.5zM1478.1 720.0h3.5v3.5h-3.5zM1221.0 723.3h3.5v3.5h-3.5zM1263.9 723.3h3.5v3.5h-3.5zM1389.1 723.3h3.5v3.5h-3.5zM1415.5 723.3h3.5v3.5h-3.5zM1425.4 723.3h3.5v3.5h-3.5zM1432.0 723.3h3.5v3.5h-3.5zM1392.4 726.6h3.5v3.5h-3.5zM1395.7 726.6h3.5v3.5h-3.5zM1399.0 726.6h3.5v3.5h-3.5zM1445.1 726.6h3.5v3.5h-3.5zM1455.0 726.6h3.5v3.5h-3.5zM1339.7 729.9h3.5v3.5h-3.5zM1392.4 729.9h3.5v3.5h-3.5zM1405.6 729.9h3.5v3.5h-3.5zM1441.9 729.9h3.5v3.5h-3.5zM1451.7 729.9h3.5v3.5h-3.5zM1290.2 733.2h3.5v3.5h-3.5zM1329.8 733.2h3.5v3.5h-3.5zM1336.4 733.2h3.5v3.5h-3.5zM1382.5 733.2h3.5v3.5h-3.5zM1432.0 733.2h3.5v3.5h-3.5zM1458.3 733.2h3.5v3.5h-3.5zM1323.2 736.5h3.5v3.5h-3.5zM1326.5 736.5h3.5v3.5h-3.5zM1389.1 736.5h3.5v3.5h-3.5zM1399.0 736.5h3.5v3.5h-3.5zM1402.3 736.5h3.5v3.5h-3.5zM1464.9 736.5h3.5v3.5h-3.5zM1385.8 739.8h3.5v3.5h-3.5zM1389.1 739.8h3.5v3.5h-3.5zM1227.6 743.1h3.5v3.5h-3.5zM1237.5 743.1h3.5v3.5h-3.5zM1247.4 743.1h3.5v3.5h-3.5zM1283.6 743.1h3.5v3.5h-3.5zM1286.9 743.1h3.5v3.5h-3.5zM1484.7 743.1h3.5v3.5h-3.5zM1250.7 746.4h3.5v3.5h-3.5zM1286.9 746.4h3.5v3.5h-3.5zM1346.3 746.4h3.5v3.5h-3.5zM1352.9 746.4h3.5v3.5h-3.5zM1389.1 746.4h3.5v3.5h-3.5zM1405.6 746.4h3.5v3.5h-3.5zM1435.3 746.4h3.5v3.5h-3.5zM1234.2 749.7h3.5v3.5h-3.5zM1369.3 749.7h3.5v3.5h-3.5zM1372.6 749.7h3.5v3.5h-3.5zM1402.3 749.7h3.5v3.5h-3.5z" fill="#00b400" filter="url(#gbl5)"/>
<path d="M1346.3 489.0h3.5v3.5h-3.5zM1389.1 489.0h3.5v3.5h-3.5zM1392.4 492.3h3.5v3.5h-3.5zM1405.6 492.3h3.5v3.5h-3.5zM1339.7 495.6h3.5v3.5h-3.5zM1346.3 495.6h3.5v3.5h-3.5zM1402.3 498.9h3.5v3.5h-3.5zM1247.4 508.8h3.5v3.5h-3.5zM1339.7 508.8h3.5v3.5h-3.5zM1247.4 512.1h3.5v3.5h-3.5zM1399.0 512.1h3.5v3.5h-3.5zM1432.0 512.1h3.5v3.5h-3.5zM1244.1 515.4h3.5v3.5h-3.5zM1432.0 515.4h3.5v3.5h-3.5zM1270.4 525.3h3.5v3.5h-3.5zM1260.6 528.6h3.5v3.5h-3.5zM1263.9 528.6h3.5v3.5h-3.5zM1267.1 528.6h3.5v3.5h-3.5zM1418.8 528.6h3.5v3.5h-3.5zM1445.1 531.9h3.5v3.5h-3.5zM1290.2 538.5h3.5v3.5h-3.5zM1296.8 538.5h3.5v3.5h-3.5zM1300.1 538.5h3.5v3.5h-3.5zM1296.8 541.8h3.5v3.5h-3.5zM1432.0 555.0h3.5v3.5h-3.5zM1336.4 558.3h3.5v3.5h-3.5zM1385.8 558.3h3.5v3.5h-3.5zM1267.1 561.6h3.5v3.5h-3.5zM1277.0 561.6h3.5v3.5h-3.5zM1346.3 568.2h3.5v3.5h-3.5zM1349.6 568.2h3.5v3.5h-3.5zM1369.3 571.5h3.5v3.5h-3.5zM1372.6 574.8h3.5v3.5h-3.5zM1244.1 578.1h3.5v3.5h-3.5zM1247.4 581.4h3.5v3.5h-3.5zM1247.4 584.7h3.5v3.5h-3.5zM1300.1 584.7h3.5v3.5h-3.5zM1333.1 584.7h3.5v3.5h-3.5zM1336.4 584.7h3.5v3.5h-3.5zM1244.1 588.0h3.5v3.5h-3.5zM1230.9 591.3h3.5v3.5h-3.5zM1290.2 591.3h3.5v3.5h-3.5zM1402.3 591.3h3.5v3.5h-3.5zM1481.4 591.3h3.5v3.5h-3.5zM1296.8 594.6h3.5v3.5h-3.5zM1432.0 594.6h3.5v3.5h-3.5zM1230.9 597.9h3.5v3.5h-3.5zM1293.5 597.9h3.5v3.5h-3.5zM1234.2 601.2h3.5v3.5h-3.5zM1343.0 601.2h3.5v3.5h-3.5zM1240.8 604.5h3.5v3.5h-3.5zM1286.9 604.5h3.5v3.5h-3.5zM1227.6 607.8h3.5v3.5h-3.5zM1234.2 607.8h3.5v3.5h-3.5zM1283.6 607.8h3.5v3.5h-3.5zM1343.0 607.8h3.5v3.5h-3.5zM1349.6 607.8h3.5v3.5h-3.5zM1352.9 607.8h3.5v3.5h-3.5zM1343.0 611.1h3.5v3.5h-3.5zM1349.6 611.1h3.5v3.5h-3.5zM1352.9 611.1h3.5v3.5h-3.5zM1356.1 611.1h3.5v3.5h-3.5zM1392.4 611.1h3.5v3.5h-3.5zM1290.2 614.4h3.5v3.5h-3.5zM1399.0 614.4h3.5v3.5h-3.5zM1230.9 617.7h3.5v3.5h-3.5zM1402.3 617.7h3.5v3.5h-3.5zM1224.3 621.0h3.5v3.5h-3.5zM1227.6 621.0h3.5v3.5h-3.5zM1237.5 621.0h3.5v3.5h-3.5zM1286.9 621.0h3.5v3.5h-3.5zM1293.5 621.0h3.5v3.5h-3.5zM1382.5 624.3h3.5v3.5h-3.5zM1389.1 624.3h3.5v3.5h-3.5zM1293.5 627.6h3.5v3.5h-3.5zM1296.8 627.6h3.5v3.5h-3.5zM1474.8 627.6h3.5v3.5h-3.5zM1415.5 634.2h3.5v3.5h-3.5zM1478.1 634.2h3.5v3.5h-3.5zM1303.4 637.5h3.5v3.5h-3.5zM1310.0 644.1h3.5v3.5h-3.5zM1316.6 647.4h3.5v3.5h-3.5zM1323.2 647.4h3.5v3.5h-3.5zM1333.1 647.4h3.5v3.5h-3.5zM1283.6 650.7h3.5v3.5h-3.5zM1300.1 650.7h3.5v3.5h-3.5zM1323.2 650.7h3.5v3.5h-3.5zM1333.1 650.7h3.5v3.5h-3.5zM1336.4 650.7h3.5v3.5h-3.5zM1313.3 654.0h3.5v3.5h-3.5zM1316.6 654.0h3.5v3.5h-3.5zM1296.8 657.3h3.5v3.5h-3.5zM1310.0 657.3h3.5v3.5h-3.5zM1313.3 657.3h3.5v3.5h-3.5zM1326.5 657.3h3.5v3.5h-3.5zM1303.4 660.6h3.5v3.5h-3.5zM1310.0 660.6h3.5v3.5h-3.5zM1329.8 660.6h3.5v3.5h-3.5zM1303.4 663.9h3.5v3.5h-3.5zM1326.5 663.9h3.5v3.5h-3.5zM1402.3 663.9h3.5v3.5h-3.5zM1306.7 667.2h3.5v3.5h-3.5zM1319.9 670.5h3.5v3.5h-3.5zM1395.7 670.5h3.5v3.5h-3.5zM1435.3 670.5h3.5v3.5h-3.5zM1313.3 673.8h3.5v3.5h-3.5zM1438.6 673.8h3.5v3.5h-3.5zM1313.3 677.1h3.5v3.5h-3.5zM1316.6 677.1h3.5v3.5h-3.5zM1405.6 677.1h3.5v3.5h-3.5zM1389.1 680.4h3.5v3.5h-3.5zM1356.1 687.0h3.5v3.5h-3.5zM1227.6 690.3h3.5v3.5h-3.5zM1280.3 690.3h3.5v3.5h-3.5zM1484.7 690.3h3.5v3.5h-3.5zM1227.6 693.6h3.5v3.5h-3.5zM1230.9 693.6h3.5v3.5h-3.5zM1481.4 693.6h3.5v3.5h-3.5zM1478.1 703.5h3.5v3.5h-3.5zM1481.4 703.5h3.5v3.5h-3.5zM1359.4 706.8h3.5v3.5h-3.5zM1366.0 706.8h3.5v3.5h-3.5zM1461.6 713.4h3.5v3.5h-3.5zM1464.9 713.4h3.5v3.5h-3.5zM1481.4 713.4h3.5v3.5h-3.5zM1263.9 716.7h3.5v3.5h-3.5zM1267.1 716.7h3.5v3.5h-3.5zM1343.0 720.0h3.5v3.5h-3.5zM1346.3 720.0h3.5v3.5h-3.5zM1349.6 720.0h3.5v3.5h-3.5zM1375.9 720.0h3.5v3.5h-3.5zM1422.1 720.0h3.5v3.5h-3.5zM1372.6 723.3h3.5v3.5h-3.5zM1385.8 723.3h3.5v3.5h-3.5zM1392.4 723.3h3.5v3.5h-3.5zM1418.8 723.3h3.5v3.5h-3.5zM1468.2 723.3h3.5v3.5h-3.5zM1474.8 723.3h3.5v3.5h-3.5zM1478.1 723.3h3.5v3.5h-3.5zM1438.6 726.6h3.5v3.5h-3.5zM1441.9 726.6h3.5v3.5h-3.5zM1464.9 726.6h3.5v3.5h-3.5zM1478.1 726.6h3.5v3.5h-3.5zM1458.3 729.9h3.5v3.5h-3.5zM1468.2 729.9h3.5v3.5h-3.5zM1339.7 733.2h3.5v3.5h-3.5zM1389.1 733.2h3.5v3.5h-3.5zM1461.6 733.2h3.5v3.5h-3.5zM1379.2 736.5h3.5v3.5h-3.5zM1247.4 739.8h3.5v3.5h-3.5zM1250.7 739.8h3.5v3.5h-3.5zM1250.7 743.1h3.5v3.5h-3.5zM1290.2 743.1h3.5v3.5h-3.5zM1392.4 743.1h3.5v3.5h-3.5zM1237.5 746.4h3.5v3.5h-3.5zM1349.6 746.4h3.5v3.5h-3.5zM1349.6 749.7h3.5v3.5h-3.5zM1352.9 749.7h3.5v3.5h-3.5z" fill="#0cdc0c" filter="url(#gbl5)"/>
<path d="M1237.5 489.0h3.5v3.5h-3.5zM1349.6 489.0h3.5v3.5h-3.5zM1402.3 502.2h3.5v3.5h-3.5zM1428.7 515.4h3.5v3.5h-3.5zM1244.1 518.7h3.5v3.5h-3.5zM1336.4 581.4h3.5v3.5h-3.5zM1339.7 581.4h3.5v3.5h-3.5zM1405.6 584.7h3.5v3.5h-3.5zM1240.8 588.0h3.5v3.5h-3.5zM1240.8 591.3h3.5v3.5h-3.5zM1244.1 591.3h3.5v3.5h-3.5zM1240.8 594.6h3.5v3.5h-3.5zM1293.5 594.6h3.5v3.5h-3.5zM1244.1 597.9h3.5v3.5h-3.5zM1240.8 601.2h3.5v3.5h-3.5zM1224.3 607.8h3.5v3.5h-3.5zM1408.9 607.8h3.5v3.5h-3.5zM1221.0 611.1h3.5v3.5h-3.5zM1224.3 611.1h3.5v3.5h-3.5zM1402.3 611.1h3.5v3.5h-3.5zM1405.6 611.1h3.5v3.5h-3.5zM1283.6 614.4h3.5v3.5h-3.5zM1405.6 614.4h3.5v3.5h-3.5zM1227.6 617.7h3.5v3.5h-3.5zM1283.6 617.7h3.5v3.5h-3.5zM1290.2 617.7h3.5v3.5h-3.5zM1399.0 617.7h3.5v3.5h-3.5zM1405.6 617.7h3.5v3.5h-3.5zM1399.0 621.0h3.5v3.5h-3.5zM1478.1 621.0h3.5v3.5h-3.5zM1224.3 624.3h3.5v3.5h-3.5zM1293.5 624.3h3.5v3.5h-3.5zM1474.8 624.3h3.5v3.5h-3.5zM1478.1 624.3h3.5v3.5h-3.5zM1221.0 627.6h3.5v3.5h-3.5zM1303.4 650.7h3.5v3.5h-3.5zM1379.2 650.7h3.5v3.5h-3.5zM1382.5 650.7h3.5v3.5h-3.5zM1303.4 654.0h3.5v3.5h-3.5zM1310.0 654.0h3.5v3.5h-3.5zM1326.5 660.6h3.5v3.5h-3.5zM1303.4 667.2h3.5v3.5h-3.5zM1303.4 670.5h3.5v3.5h-3.5zM1438.6 670.5h3.5v3.5h-3.5zM1316.6 673.8h3.5v3.5h-3.5zM1405.6 673.8h3.5v3.5h-3.5zM1408.9 673.8h3.5v3.5h-3.5zM1293.5 683.7h3.5v3.5h-3.5zM1296.8 690.3h3.5v3.5h-3.5zM1362.7 706.8h3.5v3.5h-3.5zM1359.4 710.1h3.5v3.5h-3.5zM1464.9 710.1h3.5v3.5h-3.5zM1422.1 723.3h3.5v3.5h-3.5zM1333.1 729.9h3.5v3.5h-3.5zM1336.4 729.9h3.5v3.5h-3.5zM1333.1 733.2h3.5v3.5h-3.5zM1385.8 733.2h3.5v3.5h-3.5zM1392.4 733.2h3.5v3.5h-3.5zM1392.4 736.5h3.5v3.5h-3.5zM1461.6 736.5h3.5v3.5h-3.5zM1392.4 739.8h3.5v3.5h-3.5zM1395.7 739.8h3.5v3.5h-3.5zM1399.0 739.8h3.5v3.5h-3.5zM1385.8 743.1h3.5v3.5h-3.5zM1389.1 743.1h3.5v3.5h-3.5zM1395.7 743.1h3.5v3.5h-3.5zM1392.4 746.4h3.5v3.5h-3.5zM1395.7 746.4h3.5v3.5h-3.5zM1402.3 746.4h3.5v3.5h-3.5zM1237.5 749.7h3.5v3.5h-3.5zM1240.8 749.7h3.5v3.5h-3.5z" fill="#30ff30" filter="url(#gbl5)"/>
<rect x="1247.0" y="732.4" width="51.7" height="9.3" fill="#fff"/>
<rect x="1061.5" y="841.4" width="53.1" height="9.0" fill="#fff"/>
<text x="1052.0" y="832.7" font-size="27.5" text-anchor="start" fill="#fff">10 μm</text>
<text x="1003.0" y="509.6" font-size="58" text-anchor="start" fill="#000" font-weight="bold">g</text>
<g clip-path="url(#cliph)" style="isolation:isolate">
<rect x="1543.0" y="486.5" width="450.0" height="380.5" fill="#a9a9a9"/>
<g filter="url(#hbl)">
<circle cx="1554.4" cy="515.2" r="3.6" fill="#7a7a7a"/>
<circle cx="1553.1" cy="513.9" r="1.8" fill="#cfcfcf"/>
<circle cx="1614.1" cy="539.8" r="3.2" fill="#7a7a7a"/>
<circle cx="1612.8" cy="538.5" r="1.6" fill="#cfcfcf"/>
<circle cx="1626.1" cy="540.4" r="3.6" fill="#7a7a7a"/>
<circle cx="1624.8" cy="539.1" r="1.8" fill="#cfcfcf"/>
<circle cx="1679.1" cy="531.6" r="3.9" fill="#7a7a7a"/>
<circle cx="1677.8" cy="530.3" r="2.0" fill="#cfcfcf"/>
<circle cx="1770.6" cy="527.1" r="3.6" fill="#7a7a7a"/>
<circle cx="1769.3" cy="525.8" r="1.8" fill="#cfcfcf"/>
<circle cx="1744.1" cy="604.8" r="3.6" fill="#7a7a7a"/>
<circle cx="1742.8" cy="603.5" r="1.8" fill="#cfcfcf"/>
<circle cx="1572.2" cy="659.7" r="4.2" fill="#7a7a7a"/>
<circle cx="1570.9" cy="658.4" r="2.2" fill="#cfcfcf"/>
<circle cx="1740.1" cy="669.8" r="4.4" fill="#7a7a7a"/>
<circle cx="1738.8" cy="668.5" r="2.3" fill="#cfcfcf"/>
<circle cx="1662.7" cy="678.3" r="3.4" fill="#7a7a7a"/>
<circle cx="1661.4" cy="677.0" r="1.7" fill="#cfcfcf"/>
<circle cx="1850.2" cy="699.5" r="4.2" fill="#7a7a7a"/>
<circle cx="1848.9" cy="698.2" r="2.2" fill="#cfcfcf"/>
<circle cx="1943.0" cy="692.4" r="3.0" fill="#7a7a7a"/>
<circle cx="1941.7" cy="691.1" r="1.4" fill="#cfcfcf"/>
<circle cx="1582.8" cy="742.0" r="4.4" fill="#7a7a7a"/>
<circle cx="1581.5" cy="740.7" r="2.3" fill="#cfcfcf"/>
<circle cx="1706.4" cy="747.3" r="3.4" fill="#7a7a7a"/>
<circle cx="1705.1" cy="746.0" r="1.7" fill="#cfcfcf"/>
<circle cx="1958.4" cy="741.4" r="3.8" fill="#7a7a7a"/>
<circle cx="1957.1" cy="740.1" r="1.9" fill="#cfcfcf"/>
<circle cx="1645.4" cy="766.6" r="3.0" fill="#7a7a7a"/>
<circle cx="1644.1" cy="765.3" r="1.4" fill="#cfcfcf"/>
<circle cx="1611.5" cy="785.7" r="2.8" fill="#7a7a7a"/>
<circle cx="1610.2" cy="784.4" r="1.3" fill="#cfcfcf"/>
<circle cx="1781.2" cy="780.4" r="3.9" fill="#7a7a7a"/>
<circle cx="1779.9" cy="779.1" r="2.0" fill="#cfcfcf"/>
<circle cx="1689.7" cy="804.3" r="3.0" fill="#7a7a7a"/>
<circle cx="1688.4" cy="803.0" r="1.4" fill="#cfcfcf"/>
<circle cx="1558.4" cy="818.9" r="3.6" fill="#7a7a7a"/>
<circle cx="1557.1" cy="817.6" r="1.8" fill="#cfcfcf"/>
<circle cx="1797.7" cy="836.1" r="3.6" fill="#7a7a7a"/>
<circle cx="1796.4" cy="834.8" r="1.8" fill="#cfcfcf"/>
<circle cx="1869.3" cy="832.2" r="3.6" fill="#7a7a7a"/>
<circle cx="1868.0" cy="830.9" r="1.8" fill="#cfcfcf"/>
</g>
<rect x="1543.0" y="486.5" width="450.0" height="380.5" fill="#808080" filter="url(#hn1)" style="mix-blend-mode:overlay" opacity="0.35"/>
</g>
<rect x="1792.4" y="486.5" width="200.6" height="195.0" fill="#fff"/>
<g clip-path="url(#cliphi)" style="isolation:isolate">
<rect x="1796.3" y="487.0" width="196.7" height="190.7" fill="#a8a8a8"/>
<polygon points="1851.9,558.6 1881.1,542.9 1920.4,542.9 1959.7,558.6 1968.7,592.3 1948.5,620.4 1892.3,637.3 1858.6,635.0 1842.9,609.2 1842.9,575.5" fill="#808080" opacity="0.5" filter="url(#hbl4)"/>
<polygon points="1842.9,558.6 1863.1,556.4 1860.9,620.4 1847.4,614.8" fill="#5a5a5a" opacity="0.45" filter="url(#hbl4)"/>
<polygon points="1864.2,563.1 1881.1,555.3 1906.9,553.0 1926.0,563.1 1940.6,581.1 1947.4,594.6 1941.7,604.7 1926.0,618.2 1892.3,627.1 1872.1,629.9 1863.1,624.9 1857.5,609.2 1856.4,592.3 1858.6,575.5" fill="#ededed" filter="url(#hbl)"/>
<polygon points="1881.1,555.3 1906.9,553.0 1926.0,563.1 1937.3,578.8 1909.2,575.5 1886.7,578.8 1873.2,587.8 1865.4,569.9" fill="#d2d2d2" filter="url(#hbl)" opacity="0.9"/>
<path d="M1813.7 527.2 L1824.9 521.6 L1842.9 520.4" stroke="#6c6c6c" stroke-width="2.2" fill="none" filter="url(#hbl)"/>
<circle cx="1865.9" cy="523.2" r="2.2" fill="#6c6c6c" filter="url(#hbl)"/>
<path d="M1859.7 557.5 L1863.7 565.4" stroke="#3c3c3c" stroke-width="2" fill="none" filter="url(#hbl)"/>
<circle cx="1842.9" cy="574.9" r="1.6" fill="#2c2c2c" filter="url(#hbl)"/>
<rect x="1796.3" y="487.0" width="196.7" height="190.7" fill="#808080" filter="url(#hn1)" style="mix-blend-mode:overlay" opacity="0.35"/>
</g>
<rect x="1812.9" y="654.1" width="82.8" height="9.2" fill="#fff"/>
<rect x="1558.9" y="845.1" width="81.7" height="9.3" fill="#fff"/>
<text x="1558.9" y="834.8" font-size="27.5" text-anchor="start" fill="#fff">10 μm</text>
<text x="1500.0" y="509.7" font-size="58" text-anchor="start" fill="#000" font-weight="bold">h</text>
<text x="1.0" y="981.5" font-size="58" text-anchor="start" fill="#000" font-weight="bold">i</text>
<path d="M164.4 1321.9 L165.6 1322.2 L167.2 1322.6 L169.2 1323.1 L171.2 1323.6 L173.3 1324.0 L175.1 1324.4 L176.9 1324.9 L178.8 1325.3 L181.0 1325.7 L183.9 1326.1 L187.2 1326.5 L190.9 1326.9 L195.1 1327.3 L199.8 1327.6 L205.1 1327.9 L211.1 1328.2 L217.9 1328.4 L225.1 1328.6 L232.7 1328.8 L240.5 1329.0 L248.6 1329.1 L257.3 1329.2 L266.1 1329.2 L274.7 1329.3 L282.9 1329.3 L290.6 1329.3 L298.2 1329.4 L305.5 1329.4 L312.2 1329.3 L318.2 1329.3 L323.5 1329.3 L328.1 1329.3 L332.2 1329.2 L335.9 1329.1 L339.5 1329.0 L342.7 1328.8 L345.6 1328.5 L348.3 1328.3 L350.9 1327.9 L353.6 1327.6 L356.5 1327.1 L359.4 1326.6 L362.3 1326.1 L365.1 1325.4 L367.8 1324.7 L370.1 1324.0 L372.2 1323.2 L374.3 1322.3 L376.3 1321.3 L378.4 1320.1 L380.5 1318.8 L382.7 1317.3 L384.9 1315.6 L387.0 1313.9 L389.0 1312.0 L390.8 1310.0 L392.6 1307.9 L394.4 1305.6 L396.1 1303.2 L397.8 1300.7 L399.6 1298.0 L401.3 1295.1 L403.1 1292.1 L404.9 1289.0 L406.6 1285.8 L408.4 1282.6 L410.2 1279.3 L412.0 1275.9 L413.7 1272.4 L415.5 1268.9 L417.3 1265.2 L419.0 1261.4 L420.8 1257.6 L422.6 1253.7 L424.3 1249.8 L426.1 1245.8 L427.9 1241.7 L429.6 1237.6 L431.4 1233.4 L433.2 1229.3 L434.9 1225.1 L436.7 1220.8 L438.5 1216.6 L440.2 1212.3 L442.0 1208.0 L443.8 1203.8 L445.5 1199.5 L447.3 1195.3 L449.1 1191.0 L450.8 1186.8 L452.6 1182.6 L454.4 1178.5 L456.2 1174.3 L457.9 1170.3 L459.7 1166.3 L461.5 1162.5 L463.2 1158.7 L465.0 1155.1 L466.8 1151.5 L468.5 1147.9 L470.3 1144.4 L472.1 1140.9 L473.8 1137.5 L475.6 1134.2 L477.4 1130.9 L479.1 1127.8 L480.9 1124.7 L482.7 1121.6 L484.4 1118.7 L486.2 1115.7 L488.0 1112.9 L489.7 1110.1 L491.5 1107.3 L493.3 1104.6 L495.0 1102.0 L496.8 1099.3 L498.6 1096.6 L500.4 1094.0 L502.1 1091.4 L503.9 1088.9 L505.7 1086.4 L507.4 1084.1 L509.2 1081.7 L511.0 1079.5 L512.7 1077.2 L514.5 1075.0 L516.3 1072.7 L518.0 1070.5 L519.8 1068.4 L521.6 1066.2 L523.3 1064.1 L525.1 1062.1 L526.9 1060.1 L528.6 1058.0 L530.4 1056.0 L532.2 1053.9 L533.9 1051.8 L535.6 1049.6 L537.4 1047.5 L539.3 1045.4 L541.3 1043.1 L543.6 1040.6 L545.9 1038.2 L547.8 1036.2 L549.2 1034.8 L549.2 1034.8 L548.5 1033.9 L547.7 1032.7 L546.7 1031.3 L545.6 1029.8 L544.6 1028.4 L543.5 1027.0 L542.5 1025.6 L541.4 1024.1 L540.3 1022.7 L539.3 1021.3 L538.2 1020.1 L537.1 1018.8 L536.1 1017.7 L535.0 1016.6 L533.9 1015.7 L532.9 1014.9 L531.8 1014.3 L530.8 1013.7 L529.7 1013.3 L528.6 1012.8 L527.6 1012.5 L526.5 1012.3 L525.5 1012.1 L524.4 1011.9 L523.3 1011.8 L522.3 1011.6 L521.3 1011.5 L520.3 1011.5 L519.2 1011.4 L518.0 1011.4 L516.8 1011.5 L515.4 1011.6 L514.0 1011.7 L512.5 1011.9 L511.0 1012.1 L509.3 1012.5 L507.5 1013.0 L505.6 1013.5 L503.8 1014.1 L502.1 1014.6 L500.6 1015.1 L499.3 1015.6 L497.9 1016.1 L496.5 1016.7 L495.0 1017.4 L493.4 1018.3 L491.6 1019.2 L489.8 1020.2 L488.0 1021.3 L486.2 1022.4 L484.4 1023.5 L482.7 1024.7 L480.9 1025.8 L479.1 1027.1 L477.4 1028.4 L475.6 1029.8 L473.8 1031.2 L472.1 1032.7 L470.3 1034.3 L468.5 1035.8 L466.8 1037.4 L465.0 1039.0 L463.2 1040.6 L461.5 1042.3 L459.7 1044.0 L457.9 1045.7 L456.2 1047.4 L454.4 1049.2 L452.6 1051.0 L450.8 1052.8 L449.2 1054.4 L447.7 1055.9 L446.2 1057.5 L444.3 1059.3 L442.0 1061.6 L439.0 1064.6 L435.6 1068.0 L431.8 1071.7 L428.0 1075.4 L424.3 1079.0 L420.8 1082.3 L417.3 1085.6 L413.7 1088.8 L410.2 1092.0 L406.6 1095.2 L403.1 1098.4 L399.6 1101.7 L396.0 1104.8 L392.5 1108.0 L389.0 1111.1 L385.4 1114.2 L381.9 1117.3 L378.4 1120.4 L374.8 1123.4 L371.3 1126.4 L367.8 1129.3 L364.2 1132.3 L360.7 1135.2 L357.1 1138.0 L353.6 1140.8 L350.1 1143.6 L346.5 1146.4 L343.0 1149.1 L339.5 1151.7 L335.9 1154.3 L332.3 1156.9 L328.5 1159.4 L324.8 1161.9 L321.3 1164.2 L318.2 1166.3 L315.6 1168.1 L313.4 1169.5 L311.4 1170.8 L309.5 1172.1 L307.6 1173.4 L305.8 1174.7 L304.0 1175.9 L302.2 1177.1 L300.5 1178.4 L298.8 1179.7 L297.0 1181.2 L295.2 1182.8 L293.4 1184.3 L291.6 1185.9 L290.0 1187.5 L288.4 1189.1 L287.0 1190.6 L285.6 1192.1 L284.3 1193.7 L282.9 1195.3 L281.5 1196.9 L280.1 1198.6 L278.6 1200.3 L277.2 1202.0 L275.8 1203.8 L274.4 1205.7 L273.0 1207.6 L271.6 1209.6 L270.2 1211.6 L268.7 1213.7 L267.3 1215.8 L265.9 1218.0 L264.5 1220.2 L263.1 1222.4 L261.7 1224.7 L260.3 1226.9 L258.8 1229.3 L257.4 1231.6 L256.0 1234.0 L254.6 1236.3 L253.2 1238.7 L251.8 1241.1 L250.4 1243.5 L248.9 1245.9 L247.5 1248.3 L246.1 1250.7 L244.7 1253.2 L243.3 1255.6 L241.9 1258.0 L240.5 1260.4 L239.0 1262.8 L237.6 1265.2 L236.2 1267.6 L234.8 1270.0 L233.4 1272.4 L232.0 1274.8 L230.6 1277.1 L229.1 1279.4 L227.7 1281.8 L226.3 1284.1 L224.9 1286.4 L223.5 1288.7 L222.1 1291.0 L220.7 1293.3 L219.2 1295.4 L217.8 1297.3 L216.4 1299.1 L215.0 1300.9 L213.6 1302.6 L212.2 1304.2 L210.7 1305.9 L209.3 1307.5 L207.9 1309.1 L206.5 1310.6 L205.1 1312.0 L203.6 1313.3 L202.2 1314.5 L200.7 1315.6 L199.3 1316.7 L198.0 1317.7 L196.8 1318.5 L195.8 1319.3 L194.8 1320.0 L193.7 1320.6 L192.7 1321.2 L191.7 1321.7 L190.6 1322.2 L189.5 1322.6 L188.5 1323.0 L187.4 1323.3 L186.4 1323.6 L185.4 1323.9 L184.4 1324.1 L183.3 1324.3 L182.1 1324.4 L180.8 1324.3 L179.4 1324.1 L177.9 1323.9 L176.4 1323.6 L175.0 1323.3 L173.7 1323.0 L172.5 1322.8 L171.3 1322.5 L170.1 1322.2 L169.0 1321.9 L167.9 1321.6 L166.9 1321.3 L165.9 1320.9 L165.0 1320.7 L164.4 1320.5" fill="none" stroke="#0000ff" stroke-width="3.9" stroke-linejoin="round" stroke-linecap="round"/>
<rect x="105.2" y="965.0" width="484.6" height="404.6" fill="none" stroke="#000" stroke-width="4.0"/>
<path d="M186.0 1369.6v-9.7M266.7 1369.6v-9.7M347.5 1369.6v-9.7M428.3 1369.6v-9.7M509.0 1369.6v-9.7" stroke="#000" stroke-width="3.8" fill="none"/>
<path d="M145.6 1369.6v-5.7M226.3 1369.6v-5.7M307.1 1369.6v-5.7M387.9 1369.6v-5.7M468.6 1369.6v-5.7M549.4 1369.6v-5.7" stroke="#000" stroke-width="3.8" fill="none"/>
<path d="M105.2 1329.0h9.7M105.2 1248.1h9.7M105.2 1167.2h9.7M105.2 1086.3h9.7M105.2 1005.4h9.7" stroke="#000" stroke-width="3.8" fill="none"/>
<path d="M105.2 1288.5h5.7M105.2 1207.7h5.7M105.2 1126.8h5.7M105.2 1045.8h5.7" stroke="#000" stroke-width="3.8" fill="none"/>
<text x="105.2" y="1398.0" font-size="29" text-anchor="middle" fill="#000">-4</text>
<text x="186.0" y="1398.0" font-size="29" text-anchor="middle" fill="#000">-2</text>
<text x="266.7" y="1398.0" font-size="29" text-anchor="middle" fill="#000">0</text>
<text x="347.5" y="1398.0" font-size="29" text-anchor="middle" fill="#000">2</text>
<text x="428.3" y="1398.0" font-size="29" text-anchor="middle" fill="#000">4</text>
<text x="509.0" y="1398.0" font-size="29" text-anchor="middle" fill="#000">6</text>
<text x="589.8" y="1398.0" font-size="29" text-anchor="middle" fill="#000">8</text>
<text x="93.5" y="1338.3" font-size="29" text-anchor="end" fill="#000">0</text>
<text x="93.5" y="1257.4" font-size="29" text-anchor="end" fill="#000">5μ</text>
<text x="93.5" y="1176.5" font-size="29" text-anchor="end" fill="#000">10μ</text>
<text x="93.5" y="1095.6" font-size="29" text-anchor="end" fill="#000">15μ</text>
<text x="93.5" y="1014.7" font-size="29" text-anchor="end" fill="#000">20μ</text>
<text x="338.0" y="1441.0" font-size="29" text-anchor="middle" fill="#000">Gate Voltage (V)</text>
<text x="38.0" y="1166.0" font-size="29" text-anchor="middle" fill="#000" transform="rotate(-90 38.0 1166.0)">Drain Current (A)</text>
<text x="145.0" y="1014.3" font-size="29" text-anchor="start" fill="#000">On/off ratio: 1130</text>
<text x="146.0" y="1053.2" font-size="29" text-anchor="start" fill="#000">I<tspan font-size="16" dy="8">d</tspan><tspan dy="-8"> / I</tspan><tspan font-size="16" dy="8">g</tspan><tspan dy="-8"> = 19</tspan></text>
<text x="145.0" y="1101.2" font-size="29" text-anchor="start" fill="#000">V<tspan font-size="16" dy="8">th</tspan><tspan dy="-8">= 2 V</tspan></text>
<line x1="390.7" y1="1088.5" x2="356.5" y2="1118.7" stroke="#000" stroke-width="3"/>
<polygon points="343.7,1129.9 353.7,1112.5 362.3,1122.2" fill="#000"/>
<line x1="451.6" y1="1210.5" x2="481.1" y2="1160.8" stroke="#000" stroke-width="3"/>
<polygon points="489.7,1146.2 485.6,1165.8 474.5,1159.2" fill="#000"/>
<text x="687.0" y="982.0" font-size="58" text-anchor="start" fill="#000" font-weight="bold">j</text>
<path d="M844.0 1331.8 L852.1 1333.2" fill="none" stroke="#ff0000" stroke-width="3.4" stroke-linejoin="round" stroke-linecap="round"/>
<path d="M852.1 1333.2 L852.6 1331.6 L853.1 1330.6 L853.5 1328.1 L854.1 1328.1 L854.5 1324.6 L855.1 1325.7 L855.5 1321.3 L856.1 1323.3 L856.5 1317.9 L857.1 1321.0 L857.5 1314.7 L858.0 1318.7 L858.5 1311.5 L859.0 1316.5 L859.5 1308.4 L860.0 1314.4 L860.5 1305.3 L861.0 1312.3 L861.5 1302.3 L862.0 1300.7" fill="none" stroke="#ff0000" stroke-width="3.3" stroke-linejoin="round" stroke-linecap="round"/>
<path d="M862.0 1300.7 L862.9 1304.7 L863.7 1308.1 L864.6 1311.0 L865.4 1313.5 L866.3 1315.7 L867.2 1317.5 L868.0 1319.1 L868.9 1320.4 L869.7 1321.5 L870.6 1322.5 L871.4 1323.4 L872.3 1324.1 L873.2 1324.7 L874.0 1325.2 L874.9 1325.7 L875.7 1326.0 L876.6 1326.4 L877.4 1326.7 L878.3 1326.9 L879.2 1327.1 L880.0 1327.3 L880.9 1327.4 L881.7 1327.6 L882.6 1327.7 L883.4 1327.8 L884.3 1327.8 L885.2 1327.9 L886.0 1328.0 L886.9 1328.0 L887.7 1328.1 L888.6 1328.1 L889.4 1328.1 L890.3 1328.2 L891.2 1328.2 L892.0 1328.2 L892.9 1328.2 L893.7 1328.2 L894.6 1328.2 L895.5 1328.3 L896.3 1328.3" fill="none" stroke="#ff0000" stroke-width="3.4" stroke-linejoin="round" stroke-linecap="round"/>
<path d="M910.5 1331.8 L918.6 1332.5" fill="none" stroke="#ff0000" stroke-width="3.4" stroke-linejoin="round" stroke-linecap="round"/>
<path d="M918.6 1332.5 L919.1 1330.1 L919.6 1327.9 L920.1 1324.8 L920.7 1323.4 L921.1 1319.5 L921.7 1319.0 L922.2 1314.4 L922.8 1314.6 L923.2 1309.3 L923.8 1310.4 L924.3 1304.4 L924.8 1306.2 L925.3 1299.5 L925.9 1302.2 L926.4 1294.7 L926.9 1298.2 L927.4 1290.0 L928.0 1294.3 L928.4 1285.4 L929.0 1290.5 L929.5 1280.9 L930.1 1286.8 L930.5 1276.5 L931.1 1283.2 L931.6 1272.1 L932.1 1279.7 L932.6 1267.9 L933.2 1276.2 L933.7 1263.7 L934.2 1272.9 L934.7 1259.7 L935.3 1269.6 L935.7 1255.7 L936.3 1266.5 L936.8 1251.8 L937.4 1263.4 L937.8 1248.0 L938.4 1260.4 L938.9 1244.3 L939.4 1242.3" fill="none" stroke="#ff0000" stroke-width="3.3" stroke-linejoin="round" stroke-linecap="round"/>
<path d="M939.4 1242.3 L940.3 1251.4 L941.1 1259.3 L942.0 1266.3 L942.8 1272.5 L943.6 1277.9 L944.5 1282.7 L945.3 1286.9 L946.2 1290.6 L947.0 1293.8 L947.8 1296.7 L948.7 1299.2 L949.5 1301.4 L950.4 1303.4 L951.2 1305.1 L952.0 1306.6 L952.9 1308.0 L953.7 1309.1 L954.6 1310.2 L955.4 1311.1 L956.2 1311.9 L957.1 1312.6 L957.9 1313.2 L958.8 1313.7 L959.6 1314.2 L960.4 1314.7 L961.3 1315.0 L962.1 1315.4 L963.0 1315.6 L963.8 1315.9 L964.6 1316.1 L965.5 1316.3 L966.3 1316.5 L967.2 1316.6 L968.0 1316.8 L968.8 1316.9 L969.7 1317.0 L970.5 1317.1 L971.4 1317.2 L972.2 1317.2 L973.0 1317.3" fill="none" stroke="#ff0000" stroke-width="3.4" stroke-linejoin="round" stroke-linecap="round"/>
<path d="M986.5 1330.7 L996.0 1329.7" fill="none" stroke="#ff0000" stroke-width="3.4" stroke-linejoin="round" stroke-linecap="round"/>
<path d="M996.0 1329.7 L996.5 1326.4 L997.1 1323.2 L997.6 1319.3 L998.2 1316.8 L998.7 1312.3 L999.2 1310.6 L999.7 1305.4 L1000.3 1304.4 L1000.8 1298.6 L1001.4 1298.4 L1001.9 1291.9 L1002.5 1292.4 L1002.9 1285.3 L1003.5 1286.6 L1004.0 1278.9 L1004.6 1280.9 L1005.1 1272.5 L1005.7 1275.3 L1006.2 1266.3 L1006.8 1269.8 L1007.2 1260.2 L1007.8 1264.5 L1008.3 1254.2 L1008.9 1259.2 L1009.4 1248.3 L1010.0 1254.0 L1010.5 1242.5 L1011.0 1249.0 L1011.5 1236.8 L1012.1 1244.1 L1012.6 1231.2 L1013.2 1239.3 L1013.7 1225.8 L1014.3 1234.6 L1014.7 1220.4 L1015.3 1230.0 L1015.8 1215.2 L1016.4 1225.5 L1016.9 1210.1 L1017.5 1221.1 L1018.0 1205.0 L1018.6 1216.8 L1019.0 1200.1 L1019.6 1212.7 L1020.1 1195.3 L1020.7 1208.7 L1021.2 1190.7 L1021.8 1204.7 L1022.3 1186.1 L1022.8 1200.9 L1023.3 1181.6 L1023.9 1197.2 L1024.4 1177.3 L1025.0 1193.6 L1025.5 1173.1 L1026.1 1190.1 L1026.5 1168.9 L1027.1 1186.8 L1027.6 1164.9 L1028.2 1162.8" fill="none" stroke="#ff0000" stroke-width="3.3" stroke-linejoin="round" stroke-linecap="round"/>
<path d="M1028.2 1162.8 L1029.0 1175.8 L1029.9 1187.6 L1030.7 1198.2 L1031.5 1207.9 L1032.4 1216.6 L1033.2 1224.4 L1034.0 1231.6 L1034.9 1238.0 L1035.7 1243.8 L1036.5 1249.0 L1037.3 1253.8 L1038.2 1258.1 L1039.0 1262.0 L1039.8 1265.5 L1040.7 1268.6 L1041.5 1271.5 L1042.3 1274.1 L1043.2 1276.4 L1044.0 1278.6 L1044.8 1280.5 L1045.7 1282.2 L1046.5 1283.8 L1047.3 1285.2 L1048.1 1286.5 L1049.0 1287.6 L1049.8 1288.6 L1050.6 1289.6 L1051.5 1290.4 L1052.3 1291.2 L1053.1 1291.9 L1054.0 1292.5 L1054.8 1293.1 L1055.6 1293.6 L1056.5 1294.1 L1057.3 1294.5 L1058.1 1294.9 L1058.9 1295.2 L1059.8 1295.5 L1060.6 1295.8 L1061.4 1296.1" fill="none" stroke="#ff0000" stroke-width="3.4" stroke-linejoin="round" stroke-linecap="round"/>
<path d="M1071.3 1326.5 L1083.0 1324.7" fill="none" stroke="#ff0000" stroke-width="3.4" stroke-linejoin="round" stroke-linecap="round"/>
<path d="M1083.0 1324.7 L1083.5 1320.8 L1084.1 1316.7 L1084.6 1312.2 L1085.2 1308.7 L1085.7 1303.7 L1086.2 1300.9 L1086.7 1295.3 L1087.3 1293.3 L1087.8 1287.1 L1088.4 1285.8 L1088.9 1279.0 L1089.5 1278.4 L1090.0 1271.1 L1090.6 1271.1 L1091.0 1263.3 L1091.6 1264.0 L1092.1 1255.6 L1092.7 1257.0 L1093.2 1248.1 L1093.8 1250.2 L1094.3 1240.7 L1094.9 1243.5 L1095.4 1233.4 L1096.0 1236.9 L1096.4 1226.3 L1097.0 1230.5 L1097.5 1219.3 L1098.1 1224.2 L1098.6 1212.4 L1099.2 1218.0 L1099.7 1205.7 L1100.3 1212.0 L1100.8 1199.1 L1101.3 1206.1 L1101.8 1192.6 L1102.4 1200.3 L1102.9 1186.3 L1103.5 1194.7 L1104.0 1180.1 L1104.6 1189.2 L1105.1 1174.1 L1105.7 1183.9 L1106.1 1168.2 L1106.7 1178.7 L1107.2 1162.4 L1107.8 1173.6 L1108.3 1156.8 L1108.9 1168.7 L1109.4 1151.3 L1110.0 1163.9 L1110.5 1145.9 L1111.1 1159.2 L1111.5 1140.7 L1112.1 1154.7 L1112.6 1135.6 L1113.2 1150.3 L1113.7 1130.6 L1114.3 1146.0 L1114.8 1125.8 L1115.4 1141.9 L1115.9 1121.1 L1116.4 1137.9 L1116.9 1116.6 L1117.5 1134.0 L1118.0 1112.2 L1118.6 1130.3 L1119.1 1107.9 L1119.7 1126.7 L1120.2 1103.7 L1120.8 1123.3 L1121.2 1099.7 L1121.8 1120.0 L1122.3 1095.9 L1122.9 1116.8 L1123.4 1092.1 L1124.0 1113.8 L1124.5 1088.5 L1125.1 1110.9 L1125.6 1085.1 L1126.2 1083.2" fill="none" stroke="#ff0000" stroke-width="3.3" stroke-linejoin="round" stroke-linecap="round"/>
<path d="M1126.2 1083.2 L1127.0 1099.1 L1127.8 1113.7 L1128.7 1127.0 L1129.5 1139.3 L1130.4 1150.6 L1131.2 1161.0 L1132.0 1170.5 L1132.9 1179.3 L1133.7 1187.3 L1134.6 1194.7 L1135.4 1201.5 L1136.2 1207.7 L1137.1 1213.4 L1137.9 1218.7 L1138.8 1223.5 L1139.6 1227.9 L1140.4 1232.0 L1141.3 1235.7 L1142.1 1239.1 L1142.9 1242.3 L1143.8 1245.2 L1144.6 1247.9 L1145.5 1250.3 L1146.3 1252.5 L1147.1 1254.6 L1148.0 1256.5 L1148.8 1258.2 L1149.7 1259.8 L1150.5 1261.3 L1151.3 1262.6 L1152.2 1263.9 L1153.0 1265.0 L1153.9 1266.1 L1154.7 1267.0 L1155.5 1267.9 L1156.4 1268.7 L1157.2 1269.4 L1158.1 1270.1 L1158.9 1270.8 L1159.7 1271.3" fill="none" stroke="#ff0000" stroke-width="3.4" stroke-linejoin="round" stroke-linecap="round"/>
<path d="M1172.1 1318.4 L1182.7 1315.9" fill="none" stroke="#ff0000" stroke-width="3.4" stroke-linejoin="round" stroke-linecap="round"/>
<path d="M1182.7 1315.9 L1183.2 1311.6 L1183.8 1306.9 L1184.3 1302.1 L1184.9 1298.1 L1185.4 1292.8 L1186.0 1289.4 L1186.4 1283.6 L1187.0 1280.9 L1187.5 1274.6 L1188.1 1272.5 L1188.6 1265.7 L1189.2 1264.2 L1189.7 1257.0 L1190.3 1256.1 L1190.7 1248.4 L1191.3 1248.1 L1191.8 1239.9 L1192.4 1240.3 L1192.9 1231.6 L1193.5 1232.7 L1194.0 1223.5 L1194.6 1225.1 L1195.0 1215.5 L1195.6 1217.7 L1196.1 1207.6 L1196.7 1210.5 L1197.2 1199.8 L1197.8 1203.4 L1198.3 1192.3 L1198.9 1196.4 L1199.3 1184.8 L1199.9 1189.6 L1200.4 1177.5 L1201.0 1183.0 L1201.5 1170.4 L1202.1 1176.4 L1202.6 1163.3 L1203.2 1170.1 L1203.6 1156.5 L1204.2 1163.8 L1204.7 1149.8 L1205.3 1157.7 L1205.8 1143.2 L1206.4 1151.8 L1206.9 1136.7 L1207.5 1146.0 L1207.9 1130.4 L1208.5 1140.3 L1209.0 1124.3 L1209.6 1134.8 L1210.1 1118.3 L1210.7 1129.4 L1211.2 1112.4 L1211.8 1124.2 L1212.2 1106.7 L1212.8 1119.1 L1213.3 1101.1 L1213.9 1114.2 L1214.4 1095.7 L1215.0 1109.4 L1215.5 1090.4 L1216.1 1104.7 L1216.5 1085.3 L1217.1 1100.2 L1217.6 1080.3 L1218.2 1095.9 L1218.7 1075.4 L1219.3 1091.6 L1219.8 1070.7 L1220.4 1087.6 L1220.8 1066.2 L1221.4 1083.6 L1221.9 1061.7 L1222.5 1079.8 L1223.0 1057.5 L1223.6 1076.2 L1224.1 1053.3 L1224.7 1072.7 L1225.1 1049.3 L1225.7 1069.3 L1226.2 1045.5 L1226.8 1066.1 L1227.3 1041.8 L1227.9 1063.0 L1228.4 1038.2 L1229.0 1060.1 L1229.4 1034.8 L1230.0 1057.3 L1230.5 1031.6 L1231.1 1054.7 L1231.6 1028.4 L1232.2 1052.2 L1232.7 1025.4 L1233.3 1049.9 L1233.7 1022.6 L1234.3 1047.7 L1234.8 1019.9 L1235.4 1045.6 L1235.9 1017.4 L1236.5 1016.0" fill="none" stroke="#ff0000" stroke-width="3.3" stroke-linejoin="round" stroke-linecap="round"/>
<path d="M1236.5 1016.0 L1237.3 1033.9 L1238.2 1050.4 L1239.0 1065.7 L1239.8 1079.9 L1240.7 1093.1 L1241.5 1105.2 L1242.4 1116.5 L1243.2 1127.0 L1244.0 1136.6 L1244.9 1145.6 L1245.7 1153.9 L1246.6 1161.6 L1247.4 1168.7 L1248.2 1175.3 L1249.1 1181.4 L1249.9 1187.1 L1250.8 1192.3 L1251.6 1197.2 L1252.4 1201.7 L1253.3 1205.9 L1254.1 1209.7 L1255.0 1213.3 L1255.8 1216.6 L1256.6 1219.7 L1257.5 1222.5 L1258.3 1225.2 L1259.2 1227.6 L1260.0 1229.9 L1260.8 1232.0 L1261.7 1233.9 L1262.5 1235.7 L1263.4 1237.4 L1264.2 1238.9 L1265.0 1240.3 L1265.9 1241.6 L1266.7 1242.9 L1267.6 1244.0 L1268.4 1245.1 L1269.2 1246.0 L1270.1 1246.9" fill="none" stroke="#ff0000" stroke-width="3.4" stroke-linejoin="round" stroke-linecap="round"/>
<rect x="806.8" y="965.0" width="483.8" height="404.6" fill="none" stroke="#000" stroke-width="4.0"/>
<path d="M916.5 1369.6v-9.7M1026.2 1369.6v-9.7M1135.9 1369.6v-9.7M1245.6 1369.6v-9.7" stroke="#000" stroke-width="3.8" fill="none"/>
<path d="M861.6 1369.6v-5.7M971.3 1369.6v-5.7M1081.0 1369.6v-5.7M1190.8 1369.6v-5.7" stroke="#000" stroke-width="3.8" fill="none"/>
<path d="M806.8 1332.5h9.7M806.8 1240.3h9.7M806.8 1148.2h9.7M806.8 1056.0h9.7" stroke="#000" stroke-width="3.8" fill="none"/>
<text x="806.8" y="1398.0" font-size="29" text-anchor="middle" fill="#000">0</text>
<text x="916.5" y="1398.0" font-size="29" text-anchor="middle" fill="#000">10</text>
<text x="1026.2" y="1398.0" font-size="29" text-anchor="middle" fill="#000">20</text>
<text x="1135.9" y="1398.0" font-size="29" text-anchor="middle" fill="#000">30</text>
<text x="1245.6" y="1398.0" font-size="29" text-anchor="middle" fill="#000">40</text>
<text x="794.0" y="1341.8" font-size="29" text-anchor="end" fill="#000">0</text>
<text x="794.0" y="1249.6" font-size="29" text-anchor="end" fill="#000">5μ</text>
<text x="794.0" y="1157.5" font-size="29" text-anchor="end" fill="#000">10μ</text>
<text x="794.0" y="1065.3" font-size="29" text-anchor="end" fill="#000">15μ</text>
<text x="794.0" y="973.2" font-size="29" text-anchor="end" fill="#000">20μ</text>
<text x="1044.0" y="1441.0" font-size="29" text-anchor="middle" fill="#000">Time (s)</text>
<text x="728.0" y="1161.0" font-size="29" text-anchor="middle" fill="#000" transform="rotate(-90 728.0 1161.0)">PSC (A)</text>
<text x="830.9" y="1006.0" font-size="29" text-anchor="start" fill="#000">10</text>
<text x="900.6" y="1006.0" font-size="29" text-anchor="start" fill="#000">20</text>
<text x="972.3" y="1006.0" font-size="29" text-anchor="start" fill="#000">30</text>
<text x="1043.8" y="1006.0" font-size="29" text-anchor="start" fill="#000">40</text>
<text x="1114.8" y="1006.0" font-size="29" text-anchor="start" fill="#000">50 pulses</text>
<text x="1369.3" y="990.6" font-size="58" text-anchor="start" fill="#000" font-weight="bold">k</text>
<path d="M1506.9 1315.5 L1522.2 1312.3 L1523.6 1321.2" fill="none" stroke="#ff0000" stroke-width="3.2" stroke-linejoin="round" stroke-linecap="round"/>
<path d="M1523.6 1321.2 L1523.9 1314.0 L1524.4 1306.0 L1524.8 1298.0 L1525.3 1290.8 L1525.6 1282.0 L1526.1 1275.6 L1526.5 1266.0 L1527.0 1260.4 L1527.3 1250.0 L1527.8 1245.2 L1528.2 1234.0 L1528.7 1230.0 L1529.0 1218.0 L1529.5 1214.9 L1529.9 1202.0 L1530.4 1199.7 L1530.7 1186.0 L1531.2 1184.5 L1531.6 1170.0 L1532.1 1169.3 L1532.4 1154.0 L1532.9 1154.1 L1533.3 1138.0 L1533.8 1138.9 L1534.1 1122.0 L1534.6 1123.7 L1535.0 1106.0 L1535.4 1108.5 L1535.8 1090.0 L1536.3 1093.3 L1536.7 1074.0 L1537.1 1078.1 L1537.5 1058.0 L1538.0 1063.0 L1538.4 1042.0 L1538.8 1047.8 L1539.2 1026.0 L1539.7 1032.6 L1540.1 1010.0 L1540.5 1001.2" fill="none" stroke="#ff0000" stroke-width="3.0" stroke-linejoin="round" stroke-linecap="round"/>
<path d="M1540.5 1001.2 L1541.5 1026.4 L1542.4 1049.2 L1543.4 1069.7 L1544.3 1088.2 L1545.3 1104.9 L1546.2 1120.0 L1547.2 1133.5 L1548.1 1145.8 L1549.1 1156.8 L1550.0 1166.7 L1550.9 1175.7 L1551.9 1183.8 L1552.8 1191.0 L1553.8 1197.6 L1554.7 1203.5 L1555.7 1208.9 L1556.6 1213.7 L1557.6 1218.0 L1558.5 1221.9 L1559.5 1225.4 L1560.4 1228.6 L1561.4 1231.5 L1562.3 1234.1 L1563.2 1236.4 L1564.2 1238.5 L1565.1 1240.4 L1566.1 1242.1 L1567.0 1243.6 L1568.0 1245.0 L1568.9 1246.3 L1569.9 1247.4 L1570.8 1248.4 L1571.8 1249.3 L1572.7 1250.1 L1573.6 1250.9 L1574.6 1251.6 L1575.5 1252.2 L1576.5 1252.7 L1577.4 1253.2 L1578.4 1253.6" fill="none" stroke="#ff0000" stroke-width="3.2" stroke-linejoin="round" stroke-linecap="round"/>
<path d="M1611.3 1308.1 L1625.4 1304.9" fill="none" stroke="#ff0000" stroke-width="3.2" stroke-linejoin="round" stroke-linecap="round"/>
<path d="M1625.4 1304.9 L1626.0 1297.3 L1626.8 1305.4 L1627.4 1280.7 L1628.2 1289.9 L1628.8 1264.3 L1629.5 1274.8 L1630.2 1248.3 L1630.9 1260.0 L1631.5 1232.6 L1632.3 1245.5 L1632.9 1217.3 L1633.7 1231.3 L1634.3 1202.2 L1635.0 1217.5 L1635.7 1187.5 L1636.4 1203.9 L1637.0 1173.1 L1637.8 1190.7 L1638.4 1159.0 L1639.2 1177.9 L1639.8 1145.3 L1640.6 1165.3 L1641.2 1131.8 L1641.9 1153.1 L1642.6 1118.7 L1643.3 1141.2 L1643.9 1105.9 L1644.7 1129.6 L1645.3 1093.4 L1646.1 1118.3 L1646.7 1081.3 L1647.4 1107.4 L1648.1 1069.5 L1648.8 1096.7 L1649.4 1058.0 L1650.2 1086.4 L1650.8 1046.8 L1651.6 1040.8" fill="none" stroke="#ff0000" stroke-width="3.0" stroke-linejoin="round" stroke-linecap="round"/>
<path d="M1651.6 1040.8 L1652.5 1059.4 L1653.5 1076.4 L1654.4 1091.8 L1655.4 1105.8 L1656.3 1118.5 L1657.3 1130.1 L1658.3 1140.6 L1659.2 1150.2 L1660.2 1158.9 L1661.1 1166.8 L1662.1 1174.0 L1663.0 1180.6 L1664.0 1186.5 L1664.9 1192.0 L1665.9 1196.9 L1666.8 1201.4 L1667.8 1205.4 L1668.8 1209.1 L1669.7 1212.5 L1670.7 1215.5 L1671.6 1218.3 L1672.6 1220.9 L1673.5 1223.2 L1674.5 1225.2 L1675.4 1227.1 L1676.4 1228.9 L1677.4 1230.4 L1678.3 1231.9 L1679.3 1233.2 L1680.2 1234.4 L1681.2 1235.4 L1682.1 1236.4 L1683.1 1237.3 L1684.0 1238.1 L1685.0 1238.8 L1685.9 1239.5 L1686.9 1240.1 L1687.9 1240.7 L1688.8 1241.2 L1689.8 1241.6" fill="none" stroke="#ff0000" stroke-width="3.2" stroke-linejoin="round" stroke-linecap="round"/>
<path d="M1721.2 1304.2 L1736.1 1300.7" fill="none" stroke="#ff0000" stroke-width="3.2" stroke-linejoin="round" stroke-linecap="round"/>
<path d="M1736.1 1300.7 L1736.9 1294.5 L1737.9 1304.5 L1738.7 1281.0 L1739.7 1292.3 L1740.5 1267.8 L1741.5 1280.4 L1742.3 1254.8 L1743.3 1268.7 L1744.1 1242.0 L1745.1 1257.3 L1745.9 1229.5 L1746.9 1246.1 L1747.7 1217.2 L1748.7 1235.2 L1749.5 1205.2 L1750.5 1224.5 L1751.3 1193.4 L1752.3 1214.1 L1753.1 1181.9 L1754.1 1203.9 L1754.9 1170.6 L1755.9 1193.9 L1756.7 1159.6 L1757.7 1184.2 L1758.5 1148.8 L1759.5 1174.8 L1760.3 1138.3 L1761.3 1165.6 L1762.1 1128.0 L1763.1 1156.7 L1763.9 1118.0 L1764.9 1148.0 L1765.8 1108.2 L1766.7 1139.5 L1767.6 1098.6 L1768.5 1131.3 L1769.4 1089.3 L1770.3 1123.4 L1771.2 1080.3 L1772.2 1075.4" fill="none" stroke="#ff0000" stroke-width="3.0" stroke-linejoin="round" stroke-linecap="round"/>
<path d="M1772.2 1075.4 L1773.1 1089.7 L1774.1 1102.7 L1775.0 1114.6 L1776.0 1125.6 L1776.9 1135.6 L1777.9 1144.8 L1778.8 1153.2 L1779.8 1161.0 L1780.7 1168.0 L1781.7 1174.5 L1782.7 1180.5 L1783.6 1185.9 L1784.6 1190.9 L1785.5 1195.5 L1786.5 1199.7 L1787.4 1203.6 L1788.4 1207.1 L1789.3 1210.3 L1790.3 1213.3 L1791.2 1216.0 L1792.2 1218.5 L1793.2 1220.8 L1794.1 1222.8 L1795.1 1224.8 L1796.0 1226.5 L1797.0 1228.1 L1797.9 1229.6 L1798.9 1230.9 L1799.8 1232.2 L1800.8 1233.3 L1801.7 1234.4 L1802.7 1235.3 L1803.7 1236.2 L1804.6 1237.0 L1805.6 1237.7 L1806.5 1238.4 L1807.5 1239.0 L1808.4 1239.6 L1809.4 1240.1 L1810.3 1240.6" fill="none" stroke="#ff0000" stroke-width="3.2" stroke-linejoin="round" stroke-linecap="round"/>
<path d="M1840.4 1303.5 L1857.0 1299.3" fill="none" stroke="#ff0000" stroke-width="3.2" stroke-linejoin="round" stroke-linecap="round"/>
<path d="M1857.0 1299.3 L1858.0 1295.4 L1859.3 1307.8 L1860.3 1287.0 L1861.5 1300.2 L1862.5 1278.7 L1863.7 1292.8 L1864.7 1270.5 L1866.0 1285.5 L1867.0 1262.5 L1868.2 1278.4 L1869.2 1254.5 L1870.5 1271.3 L1871.5 1246.8 L1872.7 1264.4 L1873.7 1239.1 L1874.9 1257.6 L1875.9 1231.6 L1877.2 1251.0 L1878.2 1224.2 L1879.4 1244.5 L1880.4 1216.9 L1881.7 1238.1 L1882.7 1209.7 L1883.9 1231.8 L1884.9 1202.7 L1886.1 1225.7 L1887.1 1195.8 L1888.4 1219.6 L1889.4 1189.1 L1890.6 1213.8 L1891.6 1182.4 L1892.9 1208.0 L1893.9 1175.9 L1895.1 1202.4 L1896.1 1169.5 L1897.3 1196.9 L1898.3 1163.3 L1899.6 1191.5 L1900.6 1157.2 L1901.8 1186.3 L1902.8 1151.2 L1904.0 1181.2 L1905.1 1145.3 L1906.3 1176.2 L1907.3 1139.6 L1908.5 1171.3 L1909.5 1134.0 L1910.8 1130.9" fill="none" stroke="#ff0000" stroke-width="3.0" stroke-linejoin="round" stroke-linecap="round"/>
<path d="M1910.8 1130.9 L1911.8 1140.7 L1912.8 1149.6 L1913.8 1157.8 L1914.8 1165.3 L1915.8 1172.2 L1916.8 1178.6 L1917.8 1184.4 L1918.8 1189.8 L1919.8 1194.7 L1920.8 1199.2 L1921.9 1203.4 L1922.9 1207.2 L1923.9 1210.7 L1924.9 1213.9 L1925.9 1216.9 L1926.9 1219.6 L1927.9 1222.1 L1928.9 1224.4 L1929.9 1226.5 L1930.9 1228.4 L1931.9 1230.2 L1932.9 1231.8 L1933.9 1233.3 L1935.0 1234.7 L1936.0 1235.9 L1937.0 1237.1 L1938.0 1238.2 L1939.0 1239.2 L1940.0 1240.1 L1941.0 1240.9 L1942.0 1241.6 L1943.0 1242.3 L1944.0 1243.0 L1945.0 1243.6 L1946.0 1244.1 L1947.0 1244.6 L1948.1 1245.1 L1949.1 1245.5 L1950.1 1245.9 L1951.1 1246.2" fill="none" stroke="#ff0000" stroke-width="3.2" stroke-linejoin="round" stroke-linecap="round"/>
<rect x="1475.0" y="965.0" width="483.5" height="404.6" fill="none" stroke="#000" stroke-width="4.0"/>
<path d="M1566.3 1369.6v-9.7M1657.5 1369.6v-9.7M1748.8 1369.6v-9.7M1840.0 1369.6v-9.7M1931.3 1369.6v-9.7" stroke="#000" stroke-width="3.8" fill="none"/>
<path d="M1520.6 1369.6v-5.7M1611.9 1369.6v-5.7M1703.2 1369.6v-5.7M1794.4 1369.6v-5.7M1885.7 1369.6v-5.7" stroke="#000" stroke-width="3.8" fill="none"/>
<path d="M1475.0 1329.7h9.7M1475.0 1248.6h9.7M1475.0 1167.6h9.7M1475.0 1086.5h9.7M1475.0 1005.4h9.7" stroke="#000" stroke-width="3.8" fill="none"/>
<path d="M1475.0 1289.2h5.7M1475.0 1208.1h5.7M1475.0 1127.0h5.7M1475.0 1046.0h5.7" stroke="#000" stroke-width="3.8" fill="none"/>
<text x="1475.0" y="1398.0" font-size="29" text-anchor="middle" fill="#000">0</text>
<text x="1566.3" y="1398.0" font-size="29" text-anchor="middle" fill="#000">10</text>
<text x="1657.5" y="1398.0" font-size="29" text-anchor="middle" fill="#000">20</text>
<text x="1748.8" y="1398.0" font-size="29" text-anchor="middle" fill="#000">30</text>
<text x="1840.0" y="1398.0" font-size="29" text-anchor="middle" fill="#000">40</text>
<text x="1931.3" y="1398.0" font-size="29" text-anchor="middle" fill="#000">50</text>
<text x="1463.0" y="1339.0" font-size="29" text-anchor="end" fill="#000">0</text>
<text x="1463.0" y="1257.9" font-size="29" text-anchor="end" fill="#000">1μ</text>
<text x="1463.0" y="1176.9" font-size="29" text-anchor="end" fill="#000">2μ</text>
<text x="1463.0" y="1095.8" font-size="29" text-anchor="end" fill="#000">3μ</text>
<text x="1463.0" y="1014.7" font-size="29" text-anchor="end" fill="#000">4μ</text>
<text x="1712.0" y="1444.0" font-size="29" text-anchor="middle" fill="#000">Time (s)</text>
<text x="1412.0" y="1161.0" font-size="29" text-anchor="middle" fill="#000" transform="rotate(-90 1412.0 1161.0)">PSC (A)</text>
<text x="1544.1" y="1006.0" font-size="29" text-anchor="start" fill="#000">10Hz</text>
<text x="1639.6" y="1006.0" font-size="29" text-anchor="start" fill="#000">6.7Hz</text>
<text x="1761.5" y="1006.0" font-size="29" text-anchor="start" fill="#000">5Hz</text>
<text x="1859.5" y="1006.0" font-size="29" text-anchor="start" fill="#000">4Hz</text>
<text x="4.0" y="1500.8" font-size="58" text-anchor="start" fill="#000" font-weight="bold">l</text>
<rect x="118.3" y="1534.1" width="69.0" height="129.8" fill="url(#olg)"/>
<rect x="187.3" y="1662.9" width="69.6" height="28.6" fill="url(#olg)"/>
<rect x="292.1" y="1534.1" width="67.4" height="129.8" fill="url(#olg)"/>
<rect x="359.5" y="1662.9" width="67.7" height="28.6" fill="url(#olg)"/>
<rect x="462.0" y="1534.1" width="70.0" height="129.8" fill="url(#olg)"/>
<rect x="532.0" y="1662.9" width="70.9" height="28.6" fill="url(#olg)"/>
<rect x="118.3" y="1534.1" width="69.0" height="129.8" fill="url(#olst)"/>
<rect x="187.3" y="1662.9" width="69.6" height="28.6" fill="url(#olst)"/>
<rect x="292.1" y="1534.1" width="67.4" height="129.8" fill="url(#olst)"/>
<rect x="359.5" y="1662.9" width="67.7" height="28.6" fill="url(#olst)"/>
<rect x="462.0" y="1534.1" width="70.0" height="129.8" fill="url(#olst)"/>
<rect x="532.0" y="1662.9" width="70.9" height="28.6" fill="url(#olst)"/>
<path d="M118.3 1918.5 L120.0 1914.8 L121.7 1911.1 L123.5 1907.4 L125.2 1903.7 L126.9 1900.0 L128.6 1896.2 L130.3 1892.4 L132.0 1888.5 L133.7 1884.7 L135.4 1880.8 L137.1 1876.9 L138.8 1872.9 L140.5 1869.0 L142.2 1865.0 L144.0 1861.0 L145.7 1856.9 L147.4 1852.7 L149.1 1848.4 L150.8 1844.0 L152.5 1839.7 L154.2 1835.3 L155.9 1830.9 L157.6 1826.5 L159.3 1822.0 L161.0 1817.6 L162.8 1813.1 L164.5 1808.5 L166.2 1804.0 L167.9 1799.4 L169.6 1794.8 L171.3 1790.1 L173.0 1785.5 L174.7 1780.8 L176.4 1776.1 L178.1 1771.3 L179.8 1766.6 L181.6 1761.8 L183.3 1757.0 L185.0 1752.1 L186.7 1747.2 L186.7 1744.0 L185.0 1748.9 L183.3 1753.8 L181.6 1758.6 L179.8 1763.4 L178.1 1768.1 L176.4 1772.9 L174.7 1777.6 L173.0 1782.3 L171.3 1786.9 L169.6 1791.6 L167.9 1796.2 L166.2 1800.8 L164.5 1805.3 L162.8 1809.9 L161.0 1814.4 L159.3 1818.8 L157.6 1823.3 L155.9 1827.7 L154.2 1832.1 L152.5 1836.5 L150.8 1840.8 L149.1 1845.2 L147.4 1849.5 L145.7 1853.7 L144.0 1858.0 L142.2 1862.2 L140.5 1866.4 L138.8 1870.5 L137.1 1874.7 L135.4 1878.8 L133.7 1882.9 L132.0 1886.9 L130.3 1891.0 L128.6 1895.0 L126.9 1899.0 L125.2 1902.9 L123.5 1906.8 L121.7 1910.7 L120.0 1914.6 L118.3 1918.5 Z" fill="#ff0000" stroke="#ff0000" stroke-width="2.8" stroke-linejoin="round" stroke-linecap="round"/>
<path d="M186.7 1744.0 L188.4 1765.1 L190.2 1783.6 L191.9 1799.8 L193.7 1814.1 L195.5 1826.6 L197.2 1837.6 L199.0 1847.3 L200.7 1855.8 L202.5 1863.2 L204.2 1869.7 L206.0 1875.5 L207.8 1880.5 L209.5 1885.0 L211.3 1888.8 L213.0 1892.3 L214.8 1895.3 L216.5 1897.9 L218.3 1900.2 L220.1 1902.2 L221.8 1904.0 L223.6 1905.6 L225.3 1906.9 L227.1 1908.2 L228.8 1909.2 L230.6 1910.1 L232.4 1911.0 L234.1 1911.7 L235.9 1912.3 L237.6 1912.9 L239.4 1913.3 L241.1 1913.8 L242.9 1914.1 L244.7 1914.5 L246.4 1914.8 L248.2 1915.0 L249.9 1915.2 L251.7 1915.4 L253.4 1915.6 L255.2 1915.8 L257.0 1915.9" fill="none" stroke="#ff0000" stroke-width="2.8" stroke-linejoin="round" stroke-linecap="round"/>
<path d="M292.1 1917.5 L293.8 1913.7 L295.5 1909.9 L297.1 1906.1 L298.8 1902.3 L300.5 1898.4 L302.2 1894.5 L303.8 1890.6 L305.5 1886.6 L307.2 1882.7 L308.9 1878.6 L310.5 1874.6 L312.2 1870.6 L313.9 1866.5 L315.6 1862.3 L317.3 1858.2 L318.9 1854.0 L320.6 1849.6 L322.3 1845.2 L324.0 1840.8 L325.6 1836.3 L327.3 1831.8 L329.0 1827.3 L330.7 1822.7 L332.3 1818.1 L334.0 1813.5 L335.7 1808.9 L337.4 1804.2 L339.1 1799.5 L340.7 1794.8 L342.4 1790.1 L344.1 1785.3 L345.8 1780.5 L347.4 1775.7 L349.1 1770.8 L350.8 1765.9 L352.5 1761.0 L354.1 1756.1 L355.8 1751.1 L357.5 1746.1 L359.2 1741.1 L359.2 1737.9 L357.5 1742.9 L355.8 1747.9 L354.1 1752.9 L352.5 1757.8 L350.8 1762.7 L349.1 1767.6 L347.4 1772.5 L345.8 1777.3 L344.1 1782.1 L342.4 1786.9 L340.7 1791.6 L339.1 1796.3 L337.4 1801.0 L335.7 1805.7 L334.0 1810.3 L332.3 1814.9 L330.7 1819.5 L329.0 1824.1 L327.3 1828.6 L325.6 1833.1 L324.0 1837.6 L322.3 1842.0 L320.6 1846.4 L318.9 1850.8 L317.3 1855.2 L315.6 1859.5 L313.9 1863.9 L312.2 1868.2 L310.5 1872.4 L308.9 1876.6 L307.2 1880.9 L305.5 1885.0 L303.8 1889.2 L302.2 1893.3 L300.5 1897.4 L298.8 1901.5 L297.1 1905.5 L295.5 1909.5 L293.8 1913.5 L292.1 1917.5 Z" fill="#ff0000" stroke="#ff0000" stroke-width="2.8" stroke-linejoin="round" stroke-linecap="round"/>
<path d="M359.2 1737.9 L360.9 1759.7 L362.6 1778.9 L364.3 1795.7 L366.0 1810.5 L367.7 1823.5 L369.4 1834.8 L371.1 1844.8 L372.8 1853.6 L374.5 1861.3 L376.2 1868.1 L377.9 1874.0 L379.6 1879.3 L381.3 1883.9 L383.0 1887.9 L384.7 1891.4 L386.4 1894.5 L388.1 1897.2 L389.8 1899.6 L391.5 1901.7 L393.2 1903.6 L394.9 1905.2 L396.6 1906.6 L398.3 1907.9 L400.0 1909.0 L401.7 1909.9 L403.4 1910.8 L405.1 1911.5 L406.8 1912.2 L408.5 1912.8 L410.2 1913.3 L411.9 1913.7 L413.6 1914.1 L415.3 1914.4 L417.0 1914.7 L418.7 1915.0 L420.4 1915.2 L422.1 1915.4 L423.8 1915.6 L425.5 1915.8 L427.2 1915.9" fill="none" stroke="#ff0000" stroke-width="2.8" stroke-linejoin="round" stroke-linecap="round"/>
<path d="M462.0 1917.5 L463.8 1913.6 L465.5 1909.8 L467.2 1905.8 L469.0 1901.9 L470.7 1897.9 L472.4 1893.9 L474.2 1889.9 L475.9 1885.9 L477.6 1881.8 L479.3 1877.7 L481.1 1873.6 L482.8 1869.4 L484.5 1865.2 L486.3 1861.0 L488.0 1856.8 L489.7 1852.5 L491.5 1848.0 L493.2 1843.5 L494.9 1838.9 L496.7 1834.3 L498.4 1829.7 L500.1 1825.1 L501.9 1820.4 L503.6 1815.7 L505.3 1811.0 L507.1 1806.3 L508.8 1801.5 L510.5 1796.7 L512.3 1791.9 L514.0 1787.0 L515.7 1782.1 L517.5 1777.2 L519.2 1772.3 L520.9 1767.3 L522.7 1762.3 L524.4 1757.3 L526.1 1752.2 L527.9 1747.2 L529.6 1742.1 L531.3 1736.9 L531.3 1733.7 L529.6 1738.9 L527.9 1744.0 L526.1 1749.0 L524.4 1754.1 L522.7 1759.1 L520.9 1764.1 L519.2 1769.1 L517.5 1774.0 L515.7 1778.9 L514.0 1783.8 L512.3 1788.7 L510.5 1793.5 L508.8 1798.3 L507.1 1803.1 L505.3 1807.8 L503.6 1812.5 L501.9 1817.2 L500.1 1821.9 L498.4 1826.5 L496.7 1831.1 L494.9 1835.7 L493.2 1840.3 L491.5 1844.8 L489.7 1849.3 L488.0 1853.8 L486.3 1858.2 L484.5 1862.6 L482.8 1867.0 L481.1 1871.4 L479.3 1875.7 L477.6 1880.0 L475.9 1884.3 L474.2 1888.5 L472.4 1892.7 L470.7 1896.9 L469.0 1901.1 L467.2 1905.2 L465.5 1909.4 L463.8 1913.4 L462.0 1917.5 Z" fill="#ff0000" stroke="#ff0000" stroke-width="2.8" stroke-linejoin="round" stroke-linecap="round"/>
<path d="M531.3 1733.7 L533.1 1756.1 L534.9 1775.8 L536.7 1793.1 L538.5 1808.3 L540.3 1821.6 L542.1 1833.3 L543.9 1843.6 L545.7 1852.6 L547.4 1860.5 L549.2 1867.4 L551.0 1873.6 L552.8 1878.9 L554.6 1883.6 L556.4 1887.8 L558.2 1891.4 L560.0 1894.6 L561.8 1897.4 L563.5 1899.8 L565.3 1902.0 L567.1 1903.9 L568.9 1905.6 L570.7 1907.0 L572.5 1908.3 L574.3 1909.4 L576.1 1910.4 L577.9 1911.3 L579.7 1912.1 L581.4 1912.7 L583.2 1913.3 L585.0 1913.8 L586.8 1914.3 L588.6 1914.7 L590.4 1915.0 L592.2 1915.3 L594.0 1915.6 L595.8 1915.8 L597.5 1916.0 L599.3 1916.2 L601.1 1916.4 L602.9 1916.5" fill="none" stroke="#ff0000" stroke-width="2.8" stroke-linejoin="round" stroke-linecap="round"/>
<line x1="104.3" y1="1476.7" x2="104.3" y2="1943.2" stroke="#000" stroke-width="3.7"/>
<line x1="603.0" y1="1476.7" x2="603.0" y2="1943.2" stroke="#000" stroke-width="3.7"/>
<line x1="104.3" y1="1478.5" x2="603.0" y2="1478.5" stroke="#000" stroke-width="3.7"/>
<line x1="104.3" y1="1710.8" x2="603.0" y2="1710.8" stroke="#000" stroke-width="3.7"/>
<line x1="104.3" y1="1935.2" x2="603.0" y2="1935.2" stroke="#000" stroke-width="3.7"/>
<path d="M264.3 1478.5h12" stroke="#fff" stroke-width="6"/>
<line x1="260.5" y1="1487.7" x2="271.3" y2="1469.3" stroke="#000" stroke-width="3"/>
<line x1="269.3" y1="1487.7" x2="280.1" y2="1469.3" stroke="#000" stroke-width="3"/>
<path d="M264.3 1710.8h12" stroke="#fff" stroke-width="6"/>
<line x1="260.5" y1="1720.0" x2="271.3" y2="1701.6" stroke="#000" stroke-width="3"/>
<line x1="269.3" y1="1720.0" x2="280.1" y2="1701.6" stroke="#000" stroke-width="3"/>
<path d="M264.3 1935.2h12" stroke="#fff" stroke-width="6"/>
<line x1="260.5" y1="1944.4" x2="271.3" y2="1926.0" stroke="#000" stroke-width="3"/>
<line x1="269.3" y1="1944.4" x2="280.1" y2="1926.0" stroke="#000" stroke-width="3"/>
<path d="M431.0 1478.5h12" stroke="#fff" stroke-width="6"/>
<line x1="427.2" y1="1487.7" x2="438.0" y2="1469.3" stroke="#000" stroke-width="3"/>
<line x1="436.0" y1="1487.7" x2="446.8" y2="1469.3" stroke="#000" stroke-width="3"/>
<path d="M431.0 1710.8h12" stroke="#fff" stroke-width="6"/>
<line x1="427.2" y1="1720.0" x2="438.0" y2="1701.6" stroke="#000" stroke-width="3"/>
<line x1="436.0" y1="1720.0" x2="446.8" y2="1701.6" stroke="#000" stroke-width="3"/>
<path d="M431.0 1935.2h12" stroke="#fff" stroke-width="6"/>
<line x1="427.2" y1="1944.4" x2="438.0" y2="1926.0" stroke="#000" stroke-width="3"/>
<line x1="436.0" y1="1944.4" x2="446.8" y2="1926.0" stroke="#000" stroke-width="3"/>
<path d="M219.2 1710.8v-10M375.6 1710.8v-10M532.6 1710.8v-10" stroke="#000" stroke-width="3.4" fill="none"/>
<path d="M161.8 1710.8v-5.6M319.2 1710.8v-5.6M475.6 1710.8v-5.6M592.6 1710.8v-5.6" stroke="#000" stroke-width="3.4" fill="none"/>
<path d="M219.2 1935.2v-10M375.6 1935.2v-10M532.6 1935.2v-10" stroke="#000" stroke-width="3.4" fill="none"/>
<path d="M161.8 1935.2v-5.6M319.2 1935.2v-5.6M475.6 1935.2v-5.6M592.6 1935.2v-5.6" stroke="#000" stroke-width="3.4" fill="none"/>
<path d="M104.3 1663.4h10M104.3 1571.1h10" stroke="#000" stroke-width="3.4" fill="none"/>
<path d="M104.3 1617.2h5.6M104.3 1524.9h5.6" stroke="#000" stroke-width="3.4" fill="none"/>
<path d="M104.3 1918.5h10M104.3 1872.3h10M104.3 1826.1h10M104.3 1779.9h10M104.3 1733.7h10" stroke="#000" stroke-width="3.4" fill="none"/>
<text x="92.0" y="1672.9" font-size="28.5" text-anchor="end" fill="#000">0</text>
<text x="92.0" y="1580.6" font-size="28.5" text-anchor="end" fill="#000">5</text>
<text x="92.0" y="1488.2" font-size="28.5" text-anchor="end" fill="#000">10</text>
<text x="92.0" y="1928.0" font-size="28.5" text-anchor="end" fill="#000">0</text>
<text x="92.0" y="1881.8" font-size="28.5" text-anchor="end" fill="#000">2μ</text>
<text x="92.0" y="1835.6" font-size="28.5" text-anchor="end" fill="#000">4μ</text>
<text x="92.0" y="1789.4" font-size="28.5" text-anchor="end" fill="#000">6μ</text>
<text x="92.0" y="1743.2" font-size="28.5" text-anchor="end" fill="#000">8μ</text>
<text x="102.7" y="1968.8" font-size="28.5" text-anchor="middle" fill="#000">60</text>
<text x="218.0" y="1968.8" font-size="28.5" text-anchor="middle" fill="#000">65</text>
<text x="375.6" y="1968.8" font-size="28.5" text-anchor="middle" fill="#000">125</text>
<text x="532.6" y="1968.8" font-size="28.5" text-anchor="middle" fill="#000">185</text>
<text x="355.6" y="1998.0" font-size="28.5" text-anchor="middle" fill="#000">Time (s)</text>
<text x="53.0" y="1590.0" font-size="28.5" text-anchor="middle" fill="#000" transform="rotate(-90 53.0 1590.0)">Gate Voltage (V)</text>
<text x="53.0" y="1819.0" font-size="28.5" text-anchor="middle" fill="#000" transform="rotate(-90 53.0 1819.0)">PSC (A)</text>
<text x="137.3" y="1757.5" font-size="28.5" text-anchor="start" fill="#0000ff">1st</text>
<text x="292.0" y="1760.0" font-size="28.5" text-anchor="start" fill="#0000ff">11th</text>
<text x="467.5" y="1757.5" font-size="28.5" text-anchor="start" fill="#0000ff">21th</text>
<text x="615.0" y="1501.0" font-size="58" text-anchor="start" fill="#000" font-weight="bold">m</text>
<rect x="858.6" y="1707.7" width="94.4" height="229.3" fill="#e9ebf2"/>
<rect x="1154.6" y="1707.7" width="96.8" height="229.3" fill="#e9ebf2"/>
<path d="M757.4 1631.7 L794.1 1631.7 L795.3 1504.3 L795.5 1504.3 L796.7 1631.7 L797.6 1631.7 L798.8 1504.3 L799.1 1504.3 L800.3 1631.7 L801.2 1631.7 L802.4 1504.3 L802.6 1504.3 L803.8 1631.7 L804.7 1631.7 L805.9 1504.3 L806.2 1504.3 L807.4 1631.7 L808.3 1631.7 L809.5 1504.3 L809.8 1504.3 L811.0 1631.7 L811.8 1631.7 L813.0 1504.3 L813.3 1504.3 L814.5 1631.7 L815.4 1631.7 L816.6 1504.3 L816.9 1504.3 L818.1 1631.7 L819.0 1631.7 L820.2 1504.3 L820.4 1504.3 L821.6 1631.7 L822.5 1631.7 L823.7 1504.3 L824.0 1504.3 L825.2 1631.7 L826.1 1631.7 L827.3 1504.3 L827.5 1504.3 L828.7 1631.7 L861.6 1631.7 L863.1 1504.3 L863.7 1504.3 L865.2 1631.7 L868.7 1631.7 L870.2 1504.3 L870.8 1504.3 L872.3 1631.7 L875.8 1631.7 L877.3 1504.3 L877.9 1504.3 L879.4 1631.7 L882.9 1631.7 L884.4 1504.3 L885.0 1504.3 L886.5 1631.7 L890.1 1631.7 L891.5 1504.3 L892.1 1504.3 L893.6 1631.7 L897.2 1631.7 L898.7 1504.3 L899.2 1504.3 L900.7 1631.7 L904.3 1631.7 L905.8 1504.3 L906.3 1504.3 L907.8 1631.7 L911.4 1631.7 L912.9 1504.3 L913.4 1504.3 L914.9 1631.7 L918.5 1631.7 L920.0 1504.3 L920.6 1504.3 L922.0 1631.7 L925.6 1631.7 L927.1 1504.3 L927.7 1504.3 L929.2 1631.7 L961.9 1631.7 L963.4 1504.3 L963.9 1504.3 L965.4 1631.7 L979.6 1631.7 L981.1 1504.3 L981.7 1504.3 L983.2 1631.7 L997.4 1631.7 L998.9 1504.3 L999.5 1504.3 L1001.0 1631.7 L1015.2 1631.7 L1016.7 1504.3 L1017.2 1504.3 L1018.7 1631.7 L1033.0 1631.7 L1034.5 1504.3 L1035.0 1504.3 L1036.5 1631.7 L1050.7 1631.7 L1052.2 1504.3 L1052.8 1504.3 L1054.3 1631.7 L1068.5 1631.7 L1070.0 1504.3 L1070.6 1504.3 L1072.1 1631.7 L1086.3 1631.7 L1087.8 1504.3 L1088.3 1504.3 L1089.8 1631.7 L1104.1 1631.7 L1105.6 1504.3 L1106.1 1504.3 L1107.6 1631.7 L1121.8 1631.7 L1123.3 1504.3 L1123.9 1504.3 L1125.4 1631.7 L1157.4 1631.7 L1158.9 1504.3 L1159.4 1504.3 L1160.9 1631.7 L1164.5 1631.7 L1166.0 1504.3 L1166.6 1504.3 L1168.1 1631.7 L1171.6 1631.7 L1173.1 1504.3 L1173.7 1504.3 L1175.2 1631.7 L1178.7 1631.7 L1180.2 1504.3 L1180.8 1504.3 L1182.3 1631.7 L1185.8 1631.7 L1187.3 1504.3 L1187.9 1504.3 L1189.4 1631.7 L1192.9 1631.7 L1194.4 1504.3 L1195.0 1504.3 L1196.5 1631.7 L1200.0 1631.7 L1201.5 1504.3 L1202.1 1504.3 L1203.6 1631.7 L1207.2 1631.7 L1208.7 1504.3 L1209.2 1504.3 L1210.7 1631.7 L1214.3 1631.7 L1215.8 1504.3 L1216.3 1504.3 L1217.8 1631.7 L1221.4 1631.7 L1222.9 1504.3 L1223.4 1504.3 L1224.9 1631.7 L1289.6 1631.7" fill="none" stroke="#808000" stroke-width="1.5" stroke-linejoin="miter"/>
<clipPath id="clipm"><rect x="757.4" y="1707.7" width="532.2" height="229.3"/></clipPath>
<path d="M757.5 1901.3 L793.0 1900.7 L795.1 1908.7 L796.6 1899.5 L797.6 1906.4 L800.1 1890.4 L801.2 1896.7 L803.7 1881.2 L804.7 1887.0 L807.2 1872.1 L808.3 1877.2 L810.8 1862.9 L811.8 1867.5 L814.3 1853.8 L815.4 1857.8 L817.9 1844.6 L819.0 1848.1 L821.4 1835.5 L822.5 1838.3 L825.0 1826.3 L826.1 1828.6 L828.6 1817.2 L828.6 1821.3 L829.8 1825.1 L830.9 1828.6 L832.0 1832.0 L833.2 1835.0 L834.3 1837.9 L835.4 1840.6 L836.6 1843.1 L837.7 1845.4 L838.9 1847.6 L840.0 1849.6 L841.1 1851.4 L842.3 1853.2 L843.4 1854.8 L844.5 1856.3 L845.7 1857.7 L846.8 1859.1 L848.0 1860.3 L849.1 1861.4 L850.2 1862.5 L851.4 1863.5 L852.5 1864.4 L853.6 1865.2 L854.8 1866.0 L855.9 1866.8 L857.1 1867.5 L858.2 1868.1 L859.3 1868.7 L860.5 1869.3 L861.6 1869.8 L865.2 1856.1 L868.7 1871.5 L872.3 1849.1 L875.8 1863.8 L879.4 1842.1 L882.9 1856.0 L886.5 1835.1 L890.1 1848.3 L893.6 1828.1 L897.2 1840.5 L900.7 1821.1 L904.3 1832.8 L907.8 1814.1 L911.4 1825.0 L914.9 1807.1 L918.5 1817.2 L922.0 1800.1 L925.6 1809.5 L929.2 1793.2 L930.2 1796.0 L931.3 1798.8 L932.4 1801.5 L933.5 1804.0 L934.6 1806.5 L935.7 1808.8 L936.8 1811.1 L937.9 1813.3 L939.0 1815.3 L940.1 1817.3 L941.1 1819.2 L942.2 1821.1 L943.3 1822.9 L944.4 1824.6 L945.5 1826.2 L946.6 1827.7 L947.7 1829.2 L948.8 1830.7 L949.9 1832.1 L951.0 1833.4 L952.1 1834.7 L953.1 1835.9 L954.2 1837.1 L955.3 1838.2 L956.4 1839.3 L957.5 1840.3 L958.6 1841.3 L959.7 1842.3 L960.8 1843.2 L961.9 1844.1 L965.4 1824.0 L966.6 1827.2 L967.8 1829.9 L969.0 1832.3 L970.2 1834.4 L971.3 1836.2 L972.5 1837.9 L973.7 1839.3 L974.9 1840.5 L976.1 1841.6 L977.3 1842.5 L978.5 1843.3 L979.6 1844.1 L983.2 1822.8 L984.4 1825.9 L985.6 1828.6 L986.7 1831.0 L987.9 1833.1 L989.1 1834.9 L990.3 1836.5 L991.5 1837.9 L992.7 1839.2 L993.9 1840.2 L995.0 1841.2 L996.2 1842.0 L997.4 1842.7 L1001.0 1821.5 L1002.2 1824.6 L1003.3 1827.3 L1004.5 1829.7 L1005.7 1831.8 L1006.9 1833.6 L1008.1 1835.2 L1009.3 1836.6 L1010.4 1837.8 L1011.6 1838.9 L1012.8 1839.9 L1014.0 1840.7 L1015.2 1841.4 L1018.7 1820.2 L1019.9 1823.3 L1021.1 1826.0 L1022.3 1828.4 L1023.5 1830.5 L1024.7 1832.3 L1025.9 1833.9 L1027.0 1835.3 L1028.2 1836.5 L1029.4 1837.6 L1030.6 1838.5 L1031.8 1839.3 L1033.0 1840.1 L1036.5 1819.0 L1037.7 1822.1 L1038.9 1824.8 L1040.1 1827.1 L1041.3 1829.2 L1042.4 1831.0 L1043.6 1832.6 L1044.8 1834.0 L1046.0 1835.2 L1047.2 1836.3 L1048.4 1837.2 L1049.6 1838.0 L1050.7 1838.7 L1054.3 1817.7 L1055.5 1820.8 L1056.7 1823.5 L1057.8 1825.8 L1059.0 1827.9 L1060.2 1829.7 L1061.4 1831.3 L1062.6 1832.7 L1063.8 1833.9 L1065.0 1834.9 L1066.1 1835.9 L1067.3 1836.7 L1068.5 1837.4 L1072.1 1816.4 L1073.3 1819.5 L1074.4 1822.2 L1075.6 1824.5 L1076.8 1826.6 L1078.0 1828.4 L1079.2 1830.0 L1080.4 1831.3 L1081.5 1832.6 L1082.7 1833.6 L1083.9 1834.5 L1085.1 1835.3 L1086.3 1836.1 L1089.8 1815.1 L1091.0 1818.2 L1092.2 1820.9 L1093.4 1823.2 L1094.6 1825.3 L1095.8 1827.1 L1097.0 1828.7 L1098.1 1830.0 L1099.3 1831.2 L1100.5 1832.3 L1101.7 1833.2 L1102.9 1834.0 L1104.1 1834.7 L1107.6 1813.9 L1108.8 1816.9 L1110.0 1819.6 L1111.2 1821.9 L1112.4 1824.0 L1113.5 1825.8 L1114.7 1827.3 L1115.9 1828.7 L1117.1 1829.9 L1118.3 1831.0 L1119.5 1831.9 L1120.7 1832.7 L1121.8 1833.4 L1125.4 1812.6 L1128.1 1817.5 L1130.7 1821.7 L1133.4 1825.3 L1136.1 1828.4 L1138.7 1831.0 L1141.4 1833.3 L1144.1 1835.3 L1146.7 1837.0 L1149.4 1838.5 L1152.1 1839.8 L1154.7 1840.8 L1157.4 1841.8 L1160.9 1821.8 L1164.5 1834.3 L1168.1 1812.2 L1171.6 1824.7 L1175.2 1802.6 L1178.7 1815.1 L1182.3 1793.0 L1185.8 1805.5 L1189.4 1783.4 L1192.9 1796.0 L1196.5 1773.8 L1200.0 1786.4 L1203.6 1764.2 L1207.2 1776.8 L1210.7 1754.6 L1214.3 1767.2 L1217.8 1745.0 L1221.4 1757.6 L1224.9 1735.4 L1226.6 1739.4 L1228.2 1743.3 L1229.9 1747.1 L1231.5 1750.7 L1233.2 1754.2 L1234.8 1757.5 L1236.4 1760.8 L1238.1 1763.9 L1239.7 1767.0 L1241.4 1769.9 L1243.0 1772.7 L1244.7 1775.4 L1246.3 1778.1 L1248.0 1780.6 L1249.6 1783.1 L1251.2 1785.4 L1252.9 1787.7 L1254.5 1789.9 L1256.2 1792.0 L1257.8 1794.1 L1259.5 1796.1 L1261.1 1798.0 L1262.7 1799.8 L1264.4 1801.6 L1266.0 1803.3 L1267.7 1805.0 L1269.3 1806.6 L1271.0 1808.1 L1272.6 1809.6 L1274.3 1811.0 L1275.9 1812.4 L1277.5 1813.8 L1279.2 1815.0 L1280.8 1816.3 L1282.5 1817.5 L1284.1 1818.7 L1285.8 1819.8 L1287.4 1820.9 L1289.1 1821.9 L1290.7 1822.9" fill="none" stroke="#ff0000" stroke-width="2.6" stroke-linejoin="round" stroke-linecap="round" clip-path="url(#clipm)"/>
<rect x="757.4" y="1478.4" width="532.2" height="458.6" fill="none" stroke="#000" stroke-width="3.7"/>
<line x1="757.4" y1="1707.7" x2="1289.6" y2="1707.7" stroke="#000" stroke-width="3.7"/>
<path d="M793.0 1707.7v-10M970.8 1707.7v-10M1148.5 1707.7v-10" stroke="#000" stroke-width="3.4" fill="none"/>
<path d="M881.9 1707.7v-5.6M1059.6 1707.7v-5.6M1237.4 1707.7v-5.6" stroke="#000" stroke-width="3.4" fill="none"/>
<path d="M793.0 1937.0v-10M970.8 1937.0v-10M1148.5 1937.0v-10" stroke="#000" stroke-width="3.4" fill="none"/>
<path d="M881.9 1937.0v-5.6M1059.6 1937.0v-5.6M1237.4 1937.0v-5.6" stroke="#000" stroke-width="3.4" fill="none"/>
<path d="M757.4 1677.2h10M757.4 1631.7h10M757.4 1586.2h10M757.4 1540.7h10M757.4 1495.2h10" stroke="#000" stroke-width="3.4" fill="none"/>
<path d="M757.4 1908.7h10M757.4 1851.5h10M757.4 1794.3h10M757.4 1737.1h10" stroke="#000" stroke-width="3.4" fill="none"/>
<path d="M757.4 1880.1h5.6M757.4 1822.9h5.6M757.4 1765.7h5.6" stroke="#000" stroke-width="3.4" fill="none"/>
<text x="746.0" y="1686.7" font-size="28.5" text-anchor="end" fill="#000">-2.5</text>
<text x="746.0" y="1641.2" font-size="28.5" text-anchor="end" fill="#000">0.0</text>
<text x="746.0" y="1595.7" font-size="28.5" text-anchor="end" fill="#000">2.5</text>
<text x="746.0" y="1550.2" font-size="28.5" text-anchor="end" fill="#000">5.0</text>
<text x="746.0" y="1504.7" font-size="28.5" text-anchor="end" fill="#000">7.5</text>
<text x="746.0" y="1918.2" font-size="28.5" text-anchor="end" fill="#000">0</text>
<text x="746.0" y="1861.0" font-size="28.5" text-anchor="end" fill="#000">1μ</text>
<text x="746.0" y="1803.8" font-size="28.5" text-anchor="end" fill="#000">2μ</text>
<text x="746.0" y="1746.6" font-size="28.5" text-anchor="end" fill="#000">3μ</text>
<text x="793.0" y="1970.0" font-size="28.5" text-anchor="middle" fill="#000">5</text>
<text x="970.8" y="1970.0" font-size="28.5" text-anchor="middle" fill="#000">10</text>
<text x="1148.5" y="1970.0" font-size="28.5" text-anchor="middle" fill="#000">15</text>
<text x="1020.0" y="1998.0" font-size="28.5" text-anchor="middle" fill="#000">Time (s)</text>
<text x="693.0" y="1596.0" font-size="28.5" text-anchor="middle" fill="#000" transform="rotate(-90 693.0 1596.0)">Gate Voltage (V)</text>
<text x="693.0" y="1822.0" font-size="28.5" text-anchor="middle" fill="#000" transform="rotate(-90 693.0 1822.0)">PSC (A)</text>
<text x="876.0" y="1875.0" font-size="28.5" text-anchor="start" fill="#0000ff">ΔPSC</text>
<text x="877.0" y="1910.0" font-size="28.5" text-anchor="start" fill="#0000ff">1.3 μA</text>
<text x="1173.0" y="1875.0" font-size="28.5" text-anchor="start" fill="#0000ff">ΔPSC</text>
<text x="1170.0" y="1910.0" font-size="28.5" text-anchor="start" fill="#0000ff">1.9 μA</text>
<text x="1304.0" y="1501.0" font-size="58" text-anchor="start" fill="#000" font-weight="bold">n</text>
<rect x="1539.2" y="1707.7" width="81.8" height="229.3" fill="#e9ebf2"/>
<rect x="1838.0" y="1707.7" width="79.0" height="229.3" fill="#e9ebf2"/>
<path d="M1431.4 1631.7 L1457.0 1631.7 L1457.9 1504.3 L1458.1 1504.3 L1459.0 1631.7 L1459.5 1631.7 L1460.4 1504.3 L1460.6 1504.3 L1461.5 1631.7 L1461.9 1631.7 L1462.8 1504.3 L1463.0 1504.3 L1463.9 1631.7 L1464.4 1631.7 L1465.3 1504.3 L1465.5 1504.3 L1466.4 1631.7 L1466.9 1631.7 L1467.8 1504.3 L1468.0 1504.3 L1468.9 1631.7 L1469.4 1631.7 L1470.3 1504.3 L1470.5 1504.3 L1471.4 1631.7 L1471.9 1631.7 L1472.7 1504.3 L1472.9 1504.3 L1473.8 1631.7 L1474.3 1631.7 L1475.2 1504.3 L1475.4 1504.3 L1476.3 1631.7 L1476.8 1631.7 L1477.7 1504.3 L1477.9 1504.3 L1478.8 1631.7 L1479.3 1631.7 L1480.2 1504.3 L1480.4 1504.3 L1481.3 1631.7 L1503.6 1631.7 L1504.3 1677.2 L1504.4 1677.2 L1505.0 1631.7 L1505.2 1631.7 L1505.9 1677.2 L1506.0 1677.2 L1506.7 1631.7 L1506.9 1631.7 L1507.6 1677.2 L1507.7 1677.2 L1508.4 1631.7 L1508.5 1631.7 L1509.2 1677.2 L1509.3 1677.2 L1510.0 1631.7 L1510.2 1631.7 L1510.9 1677.2 L1511.0 1677.2 L1511.7 1631.7 L1511.8 1631.7 L1512.5 1677.2 L1512.6 1677.2 L1513.3 1631.7 L1513.5 1631.7 L1514.2 1677.2 L1514.3 1677.2 L1515.0 1631.7 L1515.1 1631.7 L1515.8 1677.2 L1515.9 1677.2 L1516.6 1631.7 L1516.8 1631.7 L1517.5 1677.2 L1517.6 1677.2 L1518.3 1631.7 L1518.4 1631.7 L1519.1 1677.2 L1519.2 1677.2 L1519.9 1631.7 L1520.1 1631.7 L1520.8 1677.2 L1520.9 1677.2 L1521.6 1631.7 L1521.7 1631.7 L1522.4 1677.2 L1522.5 1677.2 L1523.2 1631.7 L1523.4 1631.7 L1524.1 1677.2 L1524.2 1677.2 L1524.9 1631.7 L1525.0 1631.7 L1525.7 1677.2 L1525.8 1677.2 L1526.5 1631.7 L1526.7 1631.7 L1527.4 1677.2 L1527.5 1677.2 L1528.2 1631.7 L1553.8 1631.7 L1554.9 1504.3 L1555.3 1504.3 L1556.3 1631.7 L1558.8 1631.7 L1559.8 1504.3 L1560.2 1504.3 L1561.3 1631.7 L1563.8 1631.7 L1564.8 1504.3 L1565.2 1504.3 L1566.2 1631.7 L1568.7 1631.7 L1569.7 1504.3 L1570.1 1504.3 L1571.2 1631.7 L1573.7 1631.7 L1574.7 1504.3 L1575.1 1504.3 L1576.1 1631.7 L1578.6 1631.7 L1579.7 1504.3 L1580.1 1504.3 L1581.1 1631.7 L1583.6 1631.7 L1584.6 1504.3 L1585.0 1504.3 L1586.0 1631.7 L1588.5 1631.7 L1589.6 1504.3 L1590.0 1504.3 L1591.0 1631.7 L1593.5 1631.7 L1594.5 1504.3 L1594.9 1504.3 L1596.0 1631.7 L1598.4 1631.7 L1599.5 1504.3 L1599.9 1504.3 L1600.9 1631.7 L1623.2 1631.7 L1623.9 1677.2 L1624.0 1677.2 L1624.7 1631.7 L1624.9 1631.7 L1625.6 1677.2 L1625.6 1677.2 L1626.3 1631.7 L1626.5 1631.7 L1627.2 1677.2 L1627.3 1677.2 L1628.0 1631.7 L1628.2 1631.7 L1628.9 1677.2 L1628.9 1677.2 L1629.6 1631.7 L1629.8 1631.7 L1630.5 1677.2 L1630.6 1677.2 L1631.3 1631.7 L1631.5 1631.7 L1632.2 1677.2 L1632.3 1677.2 L1632.9 1631.7 L1633.1 1631.7 L1633.8 1677.2 L1633.9 1677.2 L1634.6 1631.7 L1634.8 1631.7 L1635.5 1677.2 L1635.6 1677.2 L1636.3 1631.7 L1636.4 1631.7 L1637.1 1677.2 L1637.2 1677.2 L1637.9 1631.7 L1638.1 1631.7 L1638.8 1677.2 L1638.9 1677.2 L1639.6 1631.7 L1639.7 1631.7 L1640.4 1677.2 L1640.5 1677.2 L1641.2 1631.7 L1641.4 1631.7 L1642.1 1677.2 L1642.2 1677.2 L1642.9 1631.7 L1666.5 1631.7 L1667.6 1504.3 L1668.0 1504.3 L1669.0 1631.7 L1678.9 1631.7 L1680.0 1504.3 L1680.4 1504.3 L1681.4 1631.7 L1691.3 1631.7 L1692.4 1504.3 L1692.8 1504.3 L1693.8 1631.7 L1703.7 1631.7 L1704.7 1504.3 L1705.1 1504.3 L1706.2 1631.7 L1716.1 1631.7 L1717.1 1504.3 L1717.5 1504.3 L1718.6 1631.7 L1728.5 1631.7 L1729.5 1504.3 L1729.9 1504.3 L1731.0 1631.7 L1740.9 1631.7 L1741.9 1504.3 L1742.3 1504.3 L1743.3 1631.7 L1753.2 1631.7 L1754.3 1504.3 L1754.7 1504.3 L1755.7 1631.7 L1765.6 1631.7 L1766.7 1504.3 L1767.1 1504.3 L1768.1 1631.7 L1778.0 1631.7 L1779.1 1504.3 L1779.5 1504.3 L1780.5 1631.7 L1803.3 1631.7 L1804.0 1677.2 L1804.1 1677.2 L1804.8 1631.7 L1804.9 1631.7 L1805.6 1677.2 L1805.7 1677.2 L1806.4 1631.7 L1806.6 1631.7 L1807.3 1677.2 L1807.4 1677.2 L1808.1 1631.7 L1808.2 1631.7 L1808.9 1677.2 L1809.0 1677.2 L1809.7 1631.7 L1809.9 1631.7 L1810.6 1677.2 L1810.7 1677.2 L1811.4 1631.7 L1811.5 1631.7 L1812.2 1677.2 L1812.3 1677.2 L1813.0 1631.7 L1813.2 1631.7 L1813.9 1677.2 L1814.0 1677.2 L1814.7 1631.7 L1814.8 1631.7 L1815.5 1677.2 L1815.6 1677.2 L1816.3 1631.7 L1816.5 1631.7 L1817.2 1677.2 L1817.3 1677.2 L1818.0 1631.7 L1818.1 1631.7 L1818.8 1677.2 L1818.9 1677.2 L1819.6 1631.7 L1819.8 1631.7 L1820.5 1677.2 L1820.6 1677.2 L1821.3 1631.7 L1821.5 1631.7 L1822.2 1677.2 L1822.2 1677.2 L1822.9 1631.7 L1823.1 1631.7 L1823.8 1677.2 L1823.9 1677.2 L1824.6 1631.7 L1824.8 1631.7 L1825.5 1677.2 L1825.5 1677.2 L1826.2 1631.7 L1852.1 1631.7 L1853.1 1504.3 L1853.5 1504.3 L1854.6 1631.7 L1857.0 1631.7 L1858.1 1504.3 L1858.5 1504.3 L1859.5 1631.7 L1862.0 1631.7 L1863.0 1504.3 L1863.4 1504.3 L1864.5 1631.7 L1866.9 1631.7 L1868.0 1504.3 L1868.4 1504.3 L1869.4 1631.7 L1871.9 1631.7 L1872.9 1504.3 L1873.3 1504.3 L1874.4 1631.7 L1876.8 1631.7 L1877.9 1504.3 L1878.3 1504.3 L1879.3 1631.7 L1881.8 1631.7 L1882.8 1504.3 L1883.2 1504.3 L1884.3 1631.7 L1886.8 1631.7 L1887.8 1504.3 L1888.2 1504.3 L1889.2 1631.7 L1891.7 1631.7 L1892.7 1504.3 L1893.1 1504.3 L1894.2 1631.7 L1896.7 1631.7 L1897.7 1504.3 L1898.1 1504.3 L1899.1 1631.7 L1921.7 1631.7 L1922.4 1677.2 L1922.5 1677.2 L1923.2 1631.7 L1923.3 1631.7 L1924.0 1677.2 L1924.1 1677.2 L1924.8 1631.7 L1925.0 1631.7 L1925.7 1677.2 L1925.8 1677.2 L1926.5 1631.7 L1926.6 1631.7 L1927.3 1677.2 L1927.4 1677.2 L1928.1 1631.7 L1928.3 1631.7 L1929.0 1677.2 L1929.1 1677.2 L1929.8 1631.7 L1929.9 1631.7 L1930.6 1677.2 L1930.7 1677.2 L1931.4 1631.7 L1931.6 1631.7 L1932.3 1677.2 L1932.4 1677.2 L1933.1 1631.7 L1933.2 1631.7 L1933.9 1677.2 L1934.0 1677.2 L1934.7 1631.7 L1934.9 1631.7 L1935.6 1677.2 L1935.7 1677.2 L1936.4 1631.7 L1936.6 1631.7 L1937.2 1677.2 L1937.3 1677.2 L1938.0 1631.7 L1938.2 1631.7 L1938.9 1677.2 L1939.0 1677.2 L1939.7 1631.7 L1939.9 1631.7 L1940.6 1677.2 L1940.6 1677.2 L1941.3 1631.7 L1941.5 1631.7 L1942.2 1677.2 L1942.3 1677.2 L1943.0 1631.7 L1943.2 1631.7 L1943.9 1677.2 L1943.9 1677.2 L1944.6 1631.7 L1944.8 1631.7 L1945.5 1677.2 L1945.6 1677.2 L1946.3 1631.7 L1964.0 1631.7" fill="none" stroke="#808000" stroke-width="1.4" stroke-linejoin="miter"/>
<clipPath id="clipn"><rect x="1431.4" y="1707.7" width="532.6" height="229.3"/></clipPath>
<path d="M1431.5 1899.3 L1456.5 1897.9 L1457.5 1907.6 L1458.7 1887.4 L1459.5 1884.6 L1461.2 1871.3 L1461.9 1868.5 L1463.7 1855.2 L1464.4 1852.4 L1466.2 1839.1 L1466.9 1836.3 L1468.6 1823.0 L1469.4 1820.2 L1471.1 1806.9 L1471.9 1804.1 L1473.6 1790.8 L1474.3 1788.0 L1476.1 1774.7 L1476.8 1771.9 L1478.5 1758.6 L1479.3 1755.9 L1481.0 1742.5 L1482.5 1768.2 L1485.0 1788.4 L1488.7 1807.6 L1493.7 1823.2 L1498.6 1832.4 L1502.3 1837.0 L1504.3 1841.5 L1504.3 1843.4 L1505.0 1856.2 L1505.5 1850.7 L1506.3 1865.6 L1506.8 1856.6 L1507.5 1873.5 L1508.0 1861.4 L1508.8 1880.2 L1509.3 1865.3 L1510.0 1885.9 L1510.5 1868.4 L1511.2 1890.7 L1511.7 1871.0 L1512.5 1894.7 L1513.0 1873.1 L1513.7 1898.1 L1514.2 1874.7 L1515.0 1901.0 L1515.5 1876.1 L1516.2 1903.4 L1516.7 1877.2 L1517.4 1905.5 L1517.9 1878.1 L1518.7 1907.2 L1519.2 1878.8 L1519.9 1908.7 L1520.4 1879.4 L1521.1 1910.0 L1521.6 1879.9 L1522.4 1911.0 L1522.9 1880.3 L1523.6 1911.9 L1524.1 1880.6 L1524.9 1912.6 L1525.4 1880.8 L1526.1 1913.3 L1526.6 1881.0 L1527.3 1913.8 L1527.8 1881.2 L1528.6 1914.3 L1529.1 1914.9 L1532.0 1912.8 L1534.4 1911.1 L1536.9 1909.9 L1539.3 1909.0 L1541.7 1908.3 L1544.1 1907.8 L1546.6 1907.4 L1549.0 1907.0 L1551.4 1906.8 L1553.8 1906.6 L1554.6 1915.8 L1556.3 1899.3 L1558.8 1911.2 L1561.3 1890.9 L1563.8 1902.8 L1566.2 1882.4 L1568.7 1894.3 L1571.2 1873.9 L1573.7 1885.9 L1576.1 1865.5 L1578.6 1877.4 L1581.1 1857.0 L1583.6 1868.9 L1586.0 1848.6 L1588.5 1860.5 L1591.0 1840.1 L1593.5 1852.0 L1596.0 1831.7 L1598.4 1843.6 L1600.9 1823.2 L1602.5 1827.9 L1603.6 1832.2 L1604.7 1836.0 L1605.8 1839.4 L1606.9 1842.4 L1607.9 1845.1 L1609.0 1847.6 L1610.1 1849.8 L1611.2 1851.7 L1612.3 1853.5 L1613.4 1855.0 L1614.5 1856.5 L1615.6 1857.7 L1616.7 1858.8 L1617.8 1859.9 L1618.8 1860.8 L1619.9 1861.6 L1621.0 1862.3 L1622.1 1863.0 L1623.2 1863.5 L1623.9 1859.9 L1623.9 1861.7 L1624.7 1874.6 L1625.2 1866.4 L1625.9 1882.7 L1626.4 1870.1 L1627.2 1889.2 L1627.7 1872.8 L1628.4 1894.5 L1628.9 1874.9 L1629.6 1898.8 L1630.1 1876.6 L1630.9 1902.2 L1631.4 1877.8 L1632.1 1905.0 L1632.6 1878.8 L1633.4 1907.3 L1633.9 1879.5 L1634.6 1909.1 L1635.1 1880.1 L1635.8 1910.5 L1636.3 1880.5 L1637.1 1911.7 L1637.6 1880.8 L1638.3 1912.7 L1638.8 1881.1 L1639.6 1913.5 L1640.0 1881.3 L1640.8 1914.1 L1641.3 1881.4 L1642.0 1914.6 L1642.5 1881.5 L1643.3 1915.0 L1643.8 1914.9 L1646.5 1912.6 L1648.7 1910.9 L1650.9 1909.6 L1653.2 1908.5 L1655.4 1907.7 L1657.6 1907.1 L1659.9 1906.6 L1662.1 1906.2 L1664.3 1906.0 L1666.5 1905.7 L1667.0 1913.1 L1669.0 1898.4 L1670.0 1898.8 L1671.0 1899.1 L1672.0 1899.4 L1673.0 1899.6 L1674.0 1899.7 L1675.0 1899.9 L1676.0 1900.0 L1677.0 1900.1 L1677.9 1900.2 L1678.9 1900.2 L1681.4 1892.7 L1682.4 1893.4 L1683.4 1894.0 L1684.4 1894.5 L1685.4 1895.0 L1686.4 1895.3 L1687.4 1895.6 L1688.3 1895.8 L1689.3 1896.0 L1690.3 1896.1 L1691.3 1896.3 L1693.8 1887.0 L1694.8 1888.1 L1695.8 1889.0 L1696.8 1889.7 L1697.8 1890.4 L1698.8 1890.9 L1699.7 1891.3 L1700.7 1891.6 L1701.7 1891.9 L1702.7 1892.1 L1703.7 1892.3 L1706.2 1881.3 L1707.2 1882.8 L1708.2 1884.0 L1709.2 1884.9 L1710.1 1885.8 L1711.1 1886.4 L1712.1 1887.0 L1713.1 1887.4 L1714.1 1887.8 L1715.1 1888.1 L1716.1 1888.3 L1718.6 1875.6 L1719.6 1877.4 L1720.5 1878.9 L1721.5 1880.1 L1722.5 1881.2 L1723.5 1882.0 L1724.5 1882.7 L1725.5 1883.2 L1726.5 1883.7 L1727.5 1884.0 L1728.5 1884.3 L1731.0 1869.9 L1731.9 1872.1 L1732.9 1873.9 L1733.9 1875.3 L1734.9 1876.5 L1735.9 1877.5 L1736.9 1878.3 L1737.9 1879.0 L1738.9 1879.6 L1739.9 1880.0 L1740.9 1880.4 L1743.3 1864.2 L1744.3 1866.7 L1745.3 1868.8 L1746.3 1870.5 L1747.3 1871.9 L1748.3 1873.1 L1749.3 1874.0 L1750.3 1874.8 L1751.3 1875.4 L1752.3 1876.0 L1753.2 1876.4 L1755.7 1858.5 L1756.7 1861.4 L1757.7 1863.8 L1758.7 1865.7 L1759.7 1867.3 L1760.7 1868.7 L1761.7 1869.7 L1762.7 1870.6 L1763.6 1871.3 L1764.6 1871.9 L1765.6 1872.4 L1768.1 1852.7 L1769.1 1856.0 L1770.1 1858.7 L1771.1 1860.9 L1772.1 1862.7 L1773.1 1864.2 L1774.1 1865.4 L1775.0 1866.4 L1776.0 1867.2 L1777.0 1867.9 L1778.0 1868.4 L1780.5 1847.0 L1782.8 1851.5 L1785.0 1855.4 L1787.3 1858.7 L1789.6 1861.5 L1791.9 1863.9 L1794.2 1866.0 L1796.4 1867.8 L1798.7 1869.4 L1801.0 1870.7 L1803.3 1871.8 L1804.0 1864.5 L1804.0 1864.5 L1804.8 1877.3 L1805.3 1867.9 L1806.0 1883.7 L1806.5 1870.7 L1807.2 1889.1 L1807.7 1872.9 L1808.5 1893.6 L1809.0 1874.7 L1809.7 1897.4 L1810.2 1876.2 L1811.0 1900.5 L1811.5 1877.3 L1812.2 1903.2 L1812.7 1878.2 L1813.4 1905.4 L1813.9 1878.9 L1814.7 1907.2 L1815.2 1879.5 L1815.9 1908.8 L1816.4 1880.0 L1817.2 1910.1 L1817.6 1880.4 L1818.4 1911.2 L1818.9 1880.7 L1819.6 1912.1 L1820.1 1880.9 L1820.9 1912.8 L1821.4 1881.1 L1822.1 1913.5 L1822.6 1881.3 L1823.3 1914.0 L1823.8 1881.4 L1824.6 1914.4 L1825.1 1881.5 L1825.8 1914.8 L1826.3 1881.6 L1827.1 1915.1 L1827.6 1914.9 L1830.5 1913.0 L1832.9 1911.6 L1835.3 1910.5 L1837.7 1909.7 L1840.1 1909.0 L1842.5 1908.6 L1844.9 1908.2 L1847.3 1907.9 L1849.7 1907.7 L1852.1 1907.6 L1852.8 1918.6 L1854.6 1905.7 L1857.0 1917.7 L1859.5 1898.1 L1862.0 1910.0 L1864.5 1890.4 L1866.9 1902.4 L1869.4 1882.8 L1871.9 1894.7 L1874.4 1875.2 L1876.8 1887.1 L1879.3 1867.5 L1881.8 1879.4 L1884.3 1859.9 L1886.8 1871.8 L1889.2 1852.2 L1891.7 1864.2 L1894.2 1844.6 L1896.7 1856.5 L1899.1 1837.0 L1900.3 1841.1 L1901.4 1844.9 L1902.5 1848.2 L1903.6 1851.2 L1904.8 1853.8 L1905.9 1856.2 L1907.0 1858.3 L1908.2 1860.2 L1909.3 1861.8 L1910.4 1863.3 L1911.5 1864.7 L1912.7 1865.9 L1913.8 1866.9 L1914.9 1867.9 L1916.0 1868.7 L1917.2 1869.5 L1918.3 1870.2 L1919.4 1870.8 L1920.6 1871.3 L1921.7 1871.8 L1922.4 1867.2 L1922.4 1869.1 L1923.2 1881.9 L1923.7 1871.5 L1924.4 1887.3 L1924.9 1873.5 L1925.6 1891.9 L1926.1 1875.1 L1926.9 1895.7 L1927.4 1876.4 L1928.1 1899.0 L1928.6 1877.4 L1929.4 1901.7 L1929.9 1878.3 L1930.6 1904.0 L1931.1 1878.9 L1931.8 1906.0 L1932.3 1879.5 L1933.1 1907.7 L1933.6 1880.0 L1934.3 1909.1 L1934.8 1880.3 L1935.6 1910.3 L1936.0 1880.6 L1936.8 1911.3 L1937.3 1880.9 L1938.0 1912.1 L1938.5 1881.1 L1939.3 1912.8 L1939.8 1881.2 L1940.5 1913.4 L1941.0 1881.3 L1941.7 1913.9 L1942.2 1881.4 L1943.0 1914.4 L1943.5 1881.5 L1944.2 1914.7 L1944.7 1881.6 L1945.5 1915.1 L1946.0 1881.7 L1946.7 1915.3 L1947.2 1914.9 L1949.3 1913.8 L1951.0 1912.8 L1952.7 1912.1 L1954.3 1911.4 L1956.0 1910.9 L1957.6 1910.5 L1959.3 1910.1 L1961.0 1909.8 L1962.6 1909.6 L1964.3 1909.4" fill="none" stroke="#ff0000" stroke-width="2.4" stroke-linejoin="round" stroke-linecap="round" clip-path="url(#clipn)"/>
<rect x="1431.4" y="1478.4" width="532.6" height="458.6" fill="none" stroke="#000" stroke-width="3.7"/>
<line x1="1431.4" y1="1707.7" x2="1964.0" y2="1707.7" stroke="#000" stroke-width="3.7"/>
<path d="M1456.5 1707.7v-10M1580.3 1707.7v-10M1704.2 1707.7v-10M1828.0 1707.7v-10M1951.9 1707.7v-10" stroke="#000" stroke-width="3.4" fill="none"/>
<path d="M1518.4 1707.7v-5.6M1642.3 1707.7v-5.6M1766.1 1707.7v-5.6M1890.0 1707.7v-5.6" stroke="#000" stroke-width="3.4" fill="none"/>
<path d="M1456.5 1937.0v-10M1580.3 1937.0v-10M1704.2 1937.0v-10M1828.0 1937.0v-10M1951.9 1937.0v-10" stroke="#000" stroke-width="3.4" fill="none"/>
<path d="M1518.4 1937.0v-5.6M1642.3 1937.0v-5.6M1766.1 1937.0v-5.6M1890.0 1937.0v-5.6" stroke="#000" stroke-width="3.4" fill="none"/>
<path d="M1431.4 1677.2h10M1431.4 1631.7h10M1431.4 1586.2h10M1431.4 1540.7h10M1431.4 1495.2h10" stroke="#000" stroke-width="3.4" fill="none"/>
<path d="M1431.4 1914.9h10M1431.4 1823.2h10M1431.4 1731.5h10" stroke="#000" stroke-width="3.4" fill="none"/>
<path d="M1431.4 1869.1h5.6M1431.4 1777.4h5.6" stroke="#000" stroke-width="3.4" fill="none"/>
<text x="1421.0" y="1686.7" font-size="28.5" text-anchor="end" fill="#000">-2.5</text>
<text x="1421.0" y="1641.2" font-size="28.5" text-anchor="end" fill="#000">0.0</text>
<text x="1421.0" y="1595.7" font-size="28.5" text-anchor="end" fill="#000">2.5</text>
<text x="1421.0" y="1550.2" font-size="28.5" text-anchor="end" fill="#000">5.0</text>
<text x="1421.0" y="1504.7" font-size="28.5" text-anchor="end" fill="#000">7.5</text>
<text x="1421.0" y="1924.4" font-size="28.5" text-anchor="end" fill="#000">0</text>
<text x="1421.0" y="1832.7" font-size="28.5" text-anchor="end" fill="#000">1μ</text>
<text x="1421.0" y="1741.0" font-size="28.5" text-anchor="end" fill="#000">2μ</text>
<text x="1456.5" y="1970.0" font-size="28.5" text-anchor="middle" fill="#000">5</text>
<text x="1580.3" y="1970.0" font-size="28.5" text-anchor="middle" fill="#000">10</text>
<text x="1704.2" y="1970.0" font-size="28.5" text-anchor="middle" fill="#000">15</text>
<text x="1828.0" y="1970.0" font-size="28.5" text-anchor="middle" fill="#000">20</text>
<text x="1951.9" y="1970.0" font-size="28.5" text-anchor="middle" fill="#000">25</text>
<text x="1700.0" y="1998.0" font-size="28.5" text-anchor="middle" fill="#000">Time (s)</text>
<text x="1367.0" y="1588.0" font-size="28.5" text-anchor="middle" fill="#000" transform="rotate(-90 1367.0 1588.0)">Gate Voltage (V)</text>
<text x="1367.0" y="1815.0" font-size="28.5" text-anchor="middle" fill="#000" transform="rotate(-90 1367.0 1815.0)">PSC (A)</text>
<text x="1486.0" y="1698.0" font-size="28.5" text-anchor="start" fill="#0000ff">Reset</text>
<text x="1598.0" y="1698.0" font-size="28.5" text-anchor="start" fill="#0000ff">Reset</text>
<text x="1778.0" y="1698.0" font-size="28.5" text-anchor="start" fill="#0000ff">Reset</text>
<text x="1884.0" y="1698.0" font-size="28.5" text-anchor="start" fill="#0000ff">Reset</text>
<text x="1550.0" y="1773.0" font-size="28.5" text-anchor="start" fill="#0000ff">ΔPSC</text>
<text x="1550.0" y="1807.0" font-size="28.5" text-anchor="start" fill="#0000ff">0.9 μA</text>
<text x="1845.0" y="1773.0" font-size="28.5" text-anchor="start" fill="#0000ff">ΔPSC</text>
<text x="1845.0" y="1807.0" font-size="28.5" text-anchor="start" fill="#0000ff">0.8 μA</text>
</svg>
</body></html>
